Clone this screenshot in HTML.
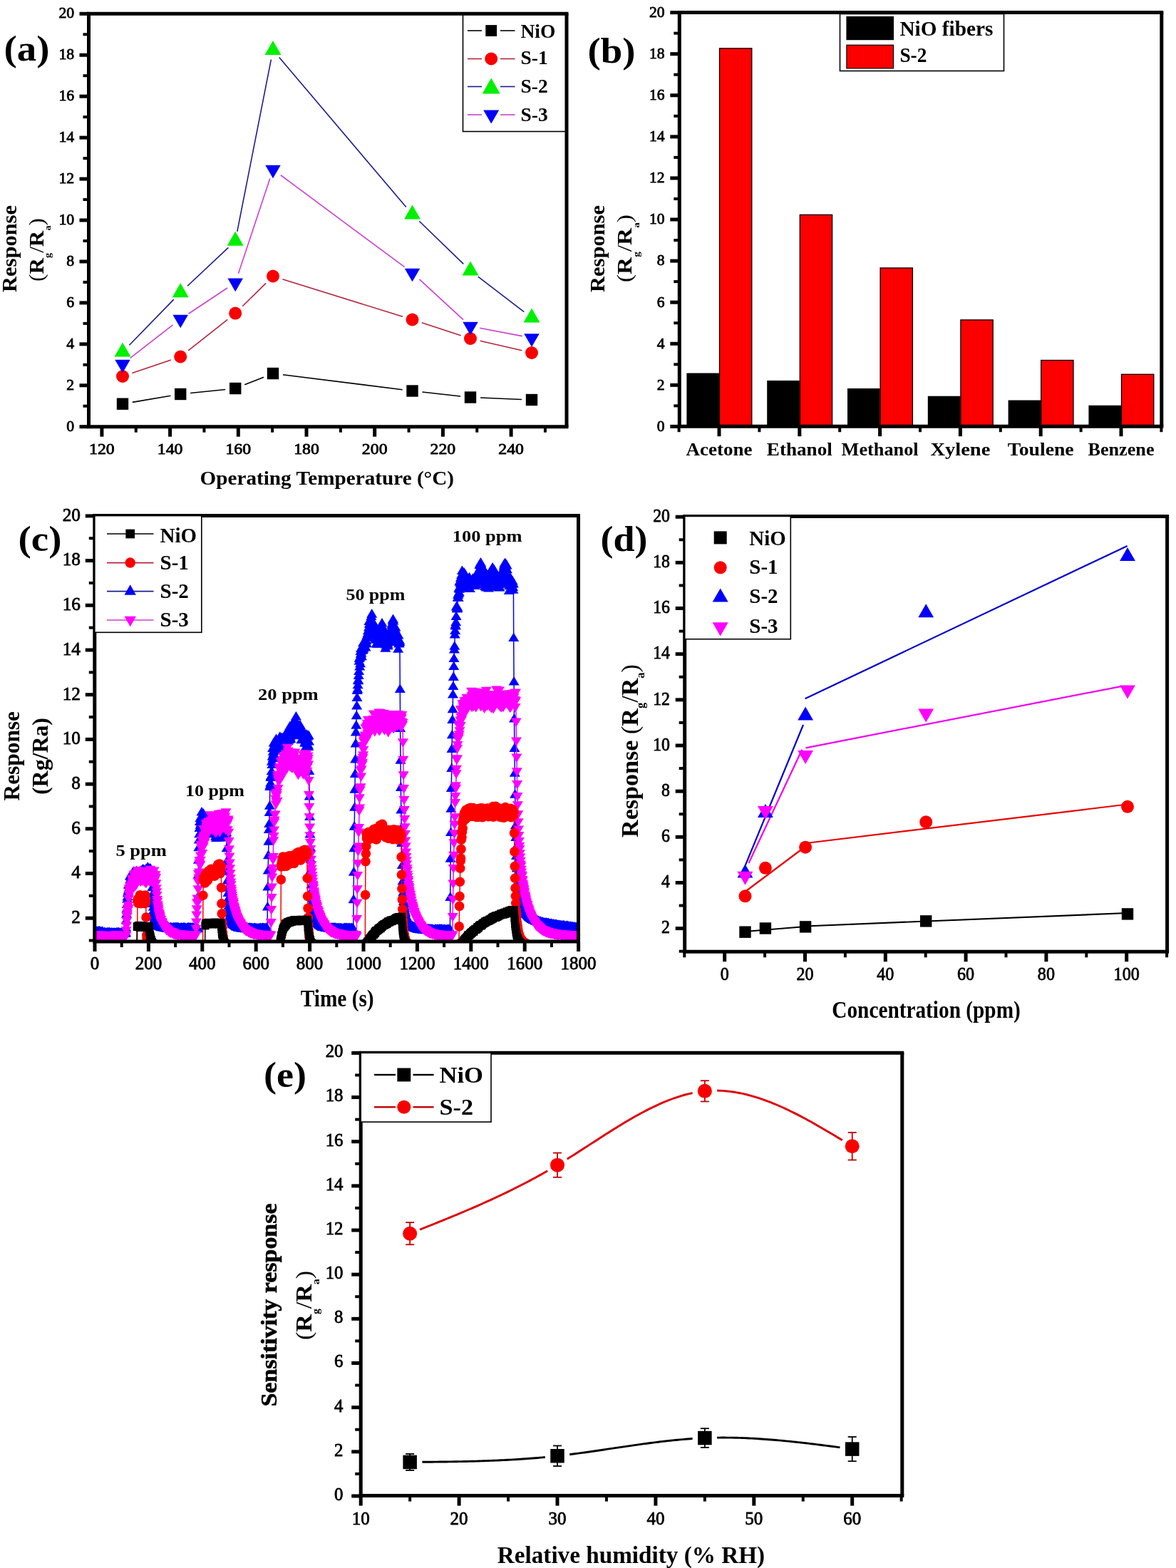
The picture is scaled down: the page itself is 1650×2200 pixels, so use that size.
<!DOCTYPE html>
<html><head><meta charset="utf-8"><title>Gas sensing response figure</title>
<style>html,body{margin:0;padding:0;background:#fff;} svg{display:block;} text{font-family:'Liberation Serif', 'Times New Roman', serif;}</style>
</head><body>
<svg width="1650" height="2200" viewBox="0 0 1650 2200">
<defs><marker id="mtu" markerUnits="userSpaceOnUse" markerWidth="20" markerHeight="20" refX="7.5" refY="8.4" overflow="visible"><path d="M0 12.6L7.5 0L15 12.6Z" fill="#0000ff"/></marker><marker id="mtd" markerUnits="userSpaceOnUse" markerWidth="20" markerHeight="20" refX="7.5" refY="4.2" overflow="visible"><path d="M0 0L7.5 12.6L15 0Z" fill="#ff00ff"/></marker><marker id="mci" markerUnits="userSpaceOnUse" markerWidth="20" markerHeight="20" refX="7" refY="7" overflow="visible"><circle cx="7" cy="7" r="6.8" fill="#ff0000"/></marker><marker id="msq" markerUnits="userSpaceOnUse" markerWidth="20" markerHeight="20" refX="5.5" refY="5.5" overflow="visible"><rect width="11" height="11" fill="#000"/></marker><clipPath id="clipc"><rect x="132.8" y="723.6" width="678.7" height="597.4"/></clipPath></defs>
<rect width="1650" height="2200" fill="#fff"/>
<line x1="185.8" y1="564.37" x2="239.4" y2="555.33" stroke="#000" stroke-width="1.6" stroke-linecap="butt"/>
<line x1="267.13" y1="551.55" x2="316.27" y2="546.45" stroke="#000" stroke-width="1.6" stroke-linecap="butt"/>
<line x1="343.21" y1="539.83" x2="369.99" y2="529.17" stroke="#000" stroke-width="1.6" stroke-linecap="butt"/>
<line x1="396.89" y1="525.74" x2="564.61" y2="546.76" stroke="#000" stroke-width="1.6" stroke-linecap="butt"/>
<line x1="592.42" y1="550.04" x2="646.08" y2="555.96" stroke="#000" stroke-width="1.6" stroke-linecap="butt"/>
<line x1="673.99" y1="558.07" x2="732.01" y2="560.43" stroke="#000" stroke-width="1.6" stroke-linecap="butt"/>
<line x1="185.26" y1="523.51" x2="239.94" y2="504.99" stroke="#b4243c" stroke-width="1.6" stroke-linecap="butt"/>
<line x1="264.18" y1="491.82" x2="319.22" y2="448.28" stroke="#b4243c" stroke-width="1.6" stroke-linecap="butt"/>
<line x1="340.17" y1="429.77" x2="373.03" y2="397.33" stroke="#b4243c" stroke-width="1.6" stroke-linecap="butt"/>
<line x1="396.36" y1="391.67" x2="565.14" y2="444.33" stroke="#b4243c" stroke-width="1.6" stroke-linecap="butt"/>
<line x1="591.81" y1="452.83" x2="646.69" y2="470.67" stroke="#b4243c" stroke-width="1.6" stroke-linecap="butt"/>
<line x1="673.64" y1="478.17" x2="732.36" y2="491.83" stroke="#b4243c" stroke-width="1.6" stroke-linecap="butt"/>
<line x1="181.42" y1="484.23" x2="243.78" y2="420.17" stroke="#1c1c8c" stroke-width="1.6" stroke-linecap="butt"/>
<line x1="263.04" y1="401.25" x2="320.36" y2="347.35" stroke="#1c1c8c" stroke-width="1.6" stroke-linecap="butt"/>
<line x1="332.81" y1="324.85" x2="380.39" y2="83.55" stroke="#1c1c8c" stroke-width="1.6" stroke-linecap="butt"/>
<line x1="391.73" y1="80.6" x2="569.77" y2="290.5" stroke="#1c1c8c" stroke-width="1.6" stroke-linecap="butt"/>
<line x1="588.19" y1="310.2" x2="650.31" y2="370.4" stroke="#1c1c8c" stroke-width="1.6" stroke-linecap="butt"/>
<line x1="670.71" y1="388.02" x2="735.29" y2="437.58" stroke="#1c1c8c" stroke-width="1.6" stroke-linecap="butt"/>
<line x1="182.67" y1="502.42" x2="242.53" y2="455.98" stroke="#cc40cc" stroke-width="1.6" stroke-linecap="butt"/>
<line x1="264.44" y1="440.23" x2="318.96" y2="403.97" stroke="#cc40cc" stroke-width="1.6" stroke-linecap="butt"/>
<line x1="334.46" y1="383.69" x2="378.74" y2="250.51" stroke="#cc40cc" stroke-width="1.6" stroke-linecap="butt"/>
<line x1="393.84" y1="245.74" x2="567.66" y2="374.66" stroke="#cc40cc" stroke-width="1.6" stroke-linecap="butt"/>
<line x1="588.43" y1="391.84" x2="650.07" y2="448.56" stroke="#cc40cc" stroke-width="1.6" stroke-linecap="butt"/>
<line x1="673.26" y1="460.24" x2="732.74" y2="471.66" stroke="#cc40cc" stroke-width="1.6" stroke-linecap="butt"/>
<rect x="163.8" y="558.5" width="16.4" height="16.4" fill="#000"/>
<rect x="245" y="544.8" width="16.4" height="16.4" fill="#000"/>
<rect x="322" y="536.8" width="16.4" height="16.4" fill="#000"/>
<rect x="374.8" y="515.8" width="16.4" height="16.4" fill="#000"/>
<rect x="570.3" y="540.3" width="16.4" height="16.4" fill="#000"/>
<rect x="651.8" y="549.3" width="16.4" height="16.4" fill="#000"/>
<rect x="737.8" y="552.8" width="16.4" height="16.4" fill="#000"/>
<circle cx="172" cy="528" r="9" fill="#f80000"/>
<circle cx="253.2" cy="500.5" r="9" fill="#f80000"/>
<circle cx="330.2" cy="439.6" r="9" fill="#f80000"/>
<circle cx="383" cy="387.5" r="9" fill="#f80000"/>
<circle cx="578.5" cy="448.5" r="9" fill="#f80000"/>
<circle cx="660" cy="475" r="9" fill="#f80000"/>
<circle cx="746" cy="495" r="9" fill="#f80000"/>
<path d="M160.5 500.61L172 480.6L183.5 500.61Z" fill="#00f000"/>
<path d="M241.7 417.2L253.2 397.19L264.7 417.2Z" fill="#00f000"/>
<path d="M318.7 344.81L330.2 324.8L341.7 344.81Z" fill="#00f000"/>
<path d="M371.5 77L383 56.99L394.5 77Z" fill="#00f000"/>
<path d="M567 307.5L578.5 287.5L590 307.5Z" fill="#00f000"/>
<path d="M648.5 386.5L660 366.5L671.5 386.5Z" fill="#00f000"/>
<path d="M734.5 452.5L746 432.5L757.5 452.5Z" fill="#00f000"/>
<path d="M161.25 504.65L172 523.35L182.75 504.65Z" fill="#0000f8"/>
<path d="M242.45 441.65L253.2 460.35L263.95 441.65Z" fill="#0000f8"/>
<path d="M319.45 390.45L330.2 409.15L340.95 390.45Z" fill="#0000f8"/>
<path d="M372.25 231.65L383 250.35L393.75 231.65Z" fill="#0000f8"/>
<path d="M567.75 376.65L578.5 395.35L589.25 376.65Z" fill="#0000f8"/>
<path d="M649.25 451.65L660 470.35L670.75 451.65Z" fill="#0000f8"/>
<path d="M735.25 468.15L746 486.85L756.75 468.15Z" fill="#0000f8"/>
<line x1="122" y1="19.3" x2="797.5" y2="19.3" stroke="#000" stroke-width="5" stroke-linecap="butt"/>
<line x1="122" y1="598.7" x2="797.5" y2="598.7" stroke="#000" stroke-width="5" stroke-linecap="butt"/>
<line x1="124.5" y1="19.3" x2="124.5" y2="598.7" stroke="#000" stroke-width="5" stroke-linecap="butt"/>
<line x1="795" y1="19.3" x2="795" y2="598.7" stroke="#000" stroke-width="5" stroke-linecap="butt"/>
<line x1="111.5" y1="598.7" x2="124.5" y2="598.7" stroke="#000" stroke-width="5" stroke-linecap="butt"/>
<line x1="111.5" y1="540.76" x2="124.5" y2="540.76" stroke="#000" stroke-width="5" stroke-linecap="butt"/>
<line x1="111.5" y1="482.82" x2="124.5" y2="482.82" stroke="#000" stroke-width="5" stroke-linecap="butt"/>
<line x1="111.5" y1="424.88" x2="124.5" y2="424.88" stroke="#000" stroke-width="5" stroke-linecap="butt"/>
<line x1="111.5" y1="366.94" x2="124.5" y2="366.94" stroke="#000" stroke-width="5" stroke-linecap="butt"/>
<line x1="111.5" y1="309" x2="124.5" y2="309" stroke="#000" stroke-width="5" stroke-linecap="butt"/>
<line x1="111.5" y1="251.06" x2="124.5" y2="251.06" stroke="#000" stroke-width="5" stroke-linecap="butt"/>
<line x1="111.5" y1="193.12" x2="124.5" y2="193.12" stroke="#000" stroke-width="5" stroke-linecap="butt"/>
<line x1="111.5" y1="135.18" x2="124.5" y2="135.18" stroke="#000" stroke-width="5" stroke-linecap="butt"/>
<line x1="111.5" y1="77.24" x2="124.5" y2="77.24" stroke="#000" stroke-width="5" stroke-linecap="butt"/>
<line x1="111.5" y1="19.3" x2="124.5" y2="19.3" stroke="#000" stroke-width="5" stroke-linecap="butt"/>
<line x1="116.5" y1="569.73" x2="124.5" y2="569.73" stroke="#000" stroke-width="4" stroke-linecap="butt"/>
<line x1="116.5" y1="511.79" x2="124.5" y2="511.79" stroke="#000" stroke-width="4" stroke-linecap="butt"/>
<line x1="116.5" y1="453.85" x2="124.5" y2="453.85" stroke="#000" stroke-width="4" stroke-linecap="butt"/>
<line x1="116.5" y1="395.91" x2="124.5" y2="395.91" stroke="#000" stroke-width="4" stroke-linecap="butt"/>
<line x1="116.5" y1="337.97" x2="124.5" y2="337.97" stroke="#000" stroke-width="4" stroke-linecap="butt"/>
<line x1="116.5" y1="280.03" x2="124.5" y2="280.03" stroke="#000" stroke-width="4" stroke-linecap="butt"/>
<line x1="116.5" y1="222.09" x2="124.5" y2="222.09" stroke="#000" stroke-width="4" stroke-linecap="butt"/>
<line x1="116.5" y1="164.15" x2="124.5" y2="164.15" stroke="#000" stroke-width="4" stroke-linecap="butt"/>
<line x1="116.5" y1="106.21" x2="124.5" y2="106.21" stroke="#000" stroke-width="4" stroke-linecap="butt"/>
<line x1="116.5" y1="48.27" x2="124.5" y2="48.27" stroke="#000" stroke-width="4" stroke-linecap="butt"/>
<line x1="142.9" y1="598.7" x2="142.9" y2="612.7" stroke="#000" stroke-width="5" stroke-linecap="butt"/>
<line x1="238.6" y1="598.7" x2="238.6" y2="612.7" stroke="#000" stroke-width="5" stroke-linecap="butt"/>
<line x1="334.3" y1="598.7" x2="334.3" y2="612.7" stroke="#000" stroke-width="5" stroke-linecap="butt"/>
<line x1="430" y1="598.7" x2="430" y2="612.7" stroke="#000" stroke-width="5" stroke-linecap="butt"/>
<line x1="525.7" y1="598.7" x2="525.7" y2="612.7" stroke="#000" stroke-width="5" stroke-linecap="butt"/>
<line x1="621.4" y1="598.7" x2="621.4" y2="612.7" stroke="#000" stroke-width="5" stroke-linecap="butt"/>
<line x1="717.1" y1="598.7" x2="717.1" y2="612.7" stroke="#000" stroke-width="5" stroke-linecap="butt"/>
<line x1="190.75" y1="598.7" x2="190.75" y2="606.7" stroke="#000" stroke-width="4" stroke-linecap="butt"/>
<line x1="286.45" y1="598.7" x2="286.45" y2="606.7" stroke="#000" stroke-width="4" stroke-linecap="butt"/>
<line x1="382.15" y1="598.7" x2="382.15" y2="606.7" stroke="#000" stroke-width="4" stroke-linecap="butt"/>
<line x1="477.85" y1="598.7" x2="477.85" y2="606.7" stroke="#000" stroke-width="4" stroke-linecap="butt"/>
<line x1="573.55" y1="598.7" x2="573.55" y2="606.7" stroke="#000" stroke-width="4" stroke-linecap="butt"/>
<line x1="669.25" y1="598.7" x2="669.25" y2="606.7" stroke="#000" stroke-width="4" stroke-linecap="butt"/>
<line x1="764.95" y1="598.7" x2="764.95" y2="606.7" stroke="#000" stroke-width="4" stroke-linecap="butt"/>
<text x="104.2" y="604.8" font-size="21.8" text-anchor="end" fill="#000" stroke="#000" stroke-width="0.8">0</text>
<text x="104.2" y="546.86" font-size="21.8" text-anchor="end" fill="#000" stroke="#000" stroke-width="0.8">2</text>
<text x="104.2" y="488.92" font-size="21.8" text-anchor="end" fill="#000" stroke="#000" stroke-width="0.8">4</text>
<text x="104.2" y="430.98" font-size="21.8" text-anchor="end" fill="#000" stroke="#000" stroke-width="0.8">6</text>
<text x="104.2" y="373.04" font-size="21.8" text-anchor="end" fill="#000" stroke="#000" stroke-width="0.8">8</text>
<text x="104.2" y="315.1" font-size="21.8" text-anchor="end" fill="#000" stroke="#000" stroke-width="0.8">10</text>
<text x="104.2" y="257.16" font-size="21.8" text-anchor="end" fill="#000" stroke="#000" stroke-width="0.8">12</text>
<text x="104.2" y="199.22" font-size="21.8" text-anchor="end" fill="#000" stroke="#000" stroke-width="0.8">14</text>
<text x="104.2" y="141.28" font-size="21.8" text-anchor="end" fill="#000" stroke="#000" stroke-width="0.8">16</text>
<text x="104.2" y="83.34" font-size="21.8" text-anchor="end" fill="#000" stroke="#000" stroke-width="0.8">18</text>
<text x="104.2" y="25.4" font-size="21.8" text-anchor="end" fill="#000" stroke="#000" stroke-width="0.8">20</text>
<text x="142.9" y="636.8" font-size="21.6" text-anchor="middle" textLength="35.64" lengthAdjust="spacingAndGlyphs" fill="#000" stroke="#000" stroke-width="0.8">120</text>
<text x="238.6" y="636.8" font-size="21.6" text-anchor="middle" textLength="35.64" lengthAdjust="spacingAndGlyphs" fill="#000" stroke="#000" stroke-width="0.8">140</text>
<text x="334.3" y="636.8" font-size="21.6" text-anchor="middle" textLength="35.64" lengthAdjust="spacingAndGlyphs" fill="#000" stroke="#000" stroke-width="0.8">160</text>
<text x="430" y="636.8" font-size="21.6" text-anchor="middle" textLength="35.64" lengthAdjust="spacingAndGlyphs" fill="#000" stroke="#000" stroke-width="0.8">180</text>
<text x="525.7" y="636.8" font-size="21.6" text-anchor="middle" textLength="35.64" lengthAdjust="spacingAndGlyphs" fill="#000" stroke="#000" stroke-width="0.8">200</text>
<text x="621.4" y="636.8" font-size="21.6" text-anchor="middle" textLength="35.64" lengthAdjust="spacingAndGlyphs" fill="#000" stroke="#000" stroke-width="0.8">220</text>
<text x="717.1" y="636.8" font-size="21.6" text-anchor="middle" textLength="35.64" lengthAdjust="spacingAndGlyphs" fill="#000" stroke="#000" stroke-width="0.8">240</text>
<rect x="649.5" y="20" width="144.5" height="164.5" fill="none" stroke="#000" stroke-width="1.6"/>
<line x1="656" y1="43" x2="676" y2="43" stroke="#000" stroke-width="1.6" stroke-linecap="butt"/>
<line x1="702" y1="43" x2="722.5" y2="43" stroke="#000" stroke-width="1.6" stroke-linecap="butt"/>
<line x1="656" y1="82.5" x2="676" y2="82.5" stroke="#b4243c" stroke-width="1.6" stroke-linecap="butt"/>
<line x1="702" y1="82.5" x2="722.5" y2="82.5" stroke="#b4243c" stroke-width="1.6" stroke-linecap="butt"/>
<line x1="656" y1="121.5" x2="676" y2="121.5" stroke="#1c1c8c" stroke-width="1.6" stroke-linecap="butt"/>
<line x1="702" y1="121.5" x2="722.5" y2="121.5" stroke="#1c1c8c" stroke-width="1.6" stroke-linecap="butt"/>
<line x1="656" y1="161" x2="676" y2="161" stroke="#cc40cc" stroke-width="1.6" stroke-linecap="butt"/>
<line x1="702" y1="161" x2="722.5" y2="161" stroke="#cc40cc" stroke-width="1.6" stroke-linecap="butt"/>
<rect x="681.3" y="35.1" width="15.8" height="15.8" fill="#000"/>
<circle cx="689.2" cy="82.5" r="9" fill="#f80000"/>
<path d="M676.7 131.38L689.2 109.62L701.7 131.38Z" fill="#00f000"/>
<path d="M678.2 154.43L689.2 173.57L700.2 154.43Z" fill="#0000f8"/>
<text x="730.5" y="52.7" font-size="27.5" font-weight="bold" fill="#000">NiO</text>
<text x="730.5" y="90.3" font-size="27.5" font-weight="bold" fill="#000">S-1</text>
<text x="730.5" y="129.5" font-size="27.5" font-weight="bold" fill="#000">S-2</text>
<text x="730.5" y="169.5" font-size="27.5" font-weight="bold" fill="#000">S-3</text>
<text x="5.5" y="84.5" font-size="50" font-weight="bold" textLength="64" lengthAdjust="spacingAndGlyphs" fill="#000">(a)</text>
<text x="23.3" y="410" font-size="29" font-weight="bold" textLength="122" lengthAdjust="spacingAndGlyphs" transform="rotate(-90 23.3 410)" fill="#000">Response</text>
<text x="61" y="395" font-size="29" font-weight="bold" transform="rotate(-90 61 395)" textLength="89" lengthAdjust="spacingAndGlyphs"><tspan font-weight="normal">(</tspan>R<tspan font-size="13.34" dy="10.44">g</tspan><tspan dy="-10.44" font-weight="normal">/</tspan>R<tspan font-size="13.34" dy="10.44">a</tspan><tspan dy="-10.44" font-weight="normal">)</tspan></text>
<text x="280.6" y="680.3" font-size="28" font-weight="bold" textLength="356.5" lengthAdjust="spacingAndGlyphs" fill="#000">Operating Temperature (°C)</text>
<rect x="963.4" y="523.48" width="45.6" height="74.72" fill="#000"/>
<rect x="1009.5" y="67.84" width="45.3" height="530.36" fill="#fc0000" stroke="#000" stroke-width="1.3"/>
<rect x="1076.2" y="533.93" width="45.6" height="64.27" fill="#000"/>
<rect x="1122.3" y="301.32" width="45.3" height="296.88" fill="#fc0000" stroke="#000" stroke-width="1.3"/>
<rect x="1189" y="544.97" width="45.6" height="53.23" fill="#000"/>
<rect x="1235.1" y="375.95" width="45.3" height="222.25" fill="#fc0000" stroke="#000" stroke-width="1.3"/>
<rect x="1301.8" y="555.71" width="45.6" height="42.49" fill="#000"/>
<rect x="1347.9" y="448.84" width="45.3" height="149.36" fill="#fc0000" stroke="#000" stroke-width="1.3"/>
<rect x="1414.6" y="561.52" width="45.6" height="36.68" fill="#000"/>
<rect x="1460.7" y="505.47" width="45.3" height="92.73" fill="#fc0000" stroke="#000" stroke-width="1.3"/>
<rect x="1527.4" y="568.78" width="45.6" height="29.42" fill="#000"/>
<rect x="1573.5" y="525.22" width="45.3" height="72.98" fill="#fc0000" stroke="#000" stroke-width="1.3"/>
<line x1="950.8" y1="17.6" x2="1632.3" y2="17.6" stroke="#000" stroke-width="5" stroke-linecap="butt"/>
<line x1="950.8" y1="598.2" x2="1632.3" y2="598.2" stroke="#000" stroke-width="5" stroke-linecap="butt"/>
<line x1="953.3" y1="17.6" x2="953.3" y2="598.2" stroke="#000" stroke-width="5" stroke-linecap="butt"/>
<line x1="1629.8" y1="17.6" x2="1629.8" y2="598.2" stroke="#000" stroke-width="5" stroke-linecap="butt"/>
<line x1="940.3" y1="598.4" x2="953.3" y2="598.4" stroke="#000" stroke-width="5" stroke-linecap="butt"/>
<line x1="940.3" y1="540.32" x2="953.3" y2="540.32" stroke="#000" stroke-width="5" stroke-linecap="butt"/>
<line x1="940.3" y1="482.24" x2="953.3" y2="482.24" stroke="#000" stroke-width="5" stroke-linecap="butt"/>
<line x1="940.3" y1="424.16" x2="953.3" y2="424.16" stroke="#000" stroke-width="5" stroke-linecap="butt"/>
<line x1="940.3" y1="366.08" x2="953.3" y2="366.08" stroke="#000" stroke-width="5" stroke-linecap="butt"/>
<line x1="940.3" y1="308" x2="953.3" y2="308" stroke="#000" stroke-width="5" stroke-linecap="butt"/>
<line x1="940.3" y1="249.92" x2="953.3" y2="249.92" stroke="#000" stroke-width="5" stroke-linecap="butt"/>
<line x1="940.3" y1="191.84" x2="953.3" y2="191.84" stroke="#000" stroke-width="5" stroke-linecap="butt"/>
<line x1="940.3" y1="133.76" x2="953.3" y2="133.76" stroke="#000" stroke-width="5" stroke-linecap="butt"/>
<line x1="940.3" y1="75.68" x2="953.3" y2="75.68" stroke="#000" stroke-width="5" stroke-linecap="butt"/>
<line x1="940.3" y1="17.6" x2="953.3" y2="17.6" stroke="#000" stroke-width="5" stroke-linecap="butt"/>
<line x1="945.3" y1="569.36" x2="953.3" y2="569.36" stroke="#000" stroke-width="4" stroke-linecap="butt"/>
<line x1="945.3" y1="511.28" x2="953.3" y2="511.28" stroke="#000" stroke-width="4" stroke-linecap="butt"/>
<line x1="945.3" y1="453.2" x2="953.3" y2="453.2" stroke="#000" stroke-width="4" stroke-linecap="butt"/>
<line x1="945.3" y1="395.12" x2="953.3" y2="395.12" stroke="#000" stroke-width="4" stroke-linecap="butt"/>
<line x1="945.3" y1="337.04" x2="953.3" y2="337.04" stroke="#000" stroke-width="4" stroke-linecap="butt"/>
<line x1="945.3" y1="278.96" x2="953.3" y2="278.96" stroke="#000" stroke-width="4" stroke-linecap="butt"/>
<line x1="945.3" y1="220.88" x2="953.3" y2="220.88" stroke="#000" stroke-width="4" stroke-linecap="butt"/>
<line x1="945.3" y1="162.8" x2="953.3" y2="162.8" stroke="#000" stroke-width="4" stroke-linecap="butt"/>
<line x1="945.3" y1="104.72" x2="953.3" y2="104.72" stroke="#000" stroke-width="4" stroke-linecap="butt"/>
<line x1="945.3" y1="46.64" x2="953.3" y2="46.64" stroke="#000" stroke-width="4" stroke-linecap="butt"/>
<line x1="1009" y1="598.2" x2="1009" y2="612.2" stroke="#000" stroke-width="5" stroke-linecap="butt"/>
<line x1="1121.8" y1="598.2" x2="1121.8" y2="612.2" stroke="#000" stroke-width="5" stroke-linecap="butt"/>
<line x1="1234.6" y1="598.2" x2="1234.6" y2="612.2" stroke="#000" stroke-width="5" stroke-linecap="butt"/>
<line x1="1347.4" y1="598.2" x2="1347.4" y2="612.2" stroke="#000" stroke-width="5" stroke-linecap="butt"/>
<line x1="1460.2" y1="598.2" x2="1460.2" y2="612.2" stroke="#000" stroke-width="5" stroke-linecap="butt"/>
<line x1="1573" y1="598.2" x2="1573" y2="612.2" stroke="#000" stroke-width="5" stroke-linecap="butt"/>
<line x1="952.6" y1="598.2" x2="952.6" y2="606.2" stroke="#000" stroke-width="4" stroke-linecap="butt"/>
<line x1="1065.4" y1="598.2" x2="1065.4" y2="606.2" stroke="#000" stroke-width="4" stroke-linecap="butt"/>
<line x1="1178.2" y1="598.2" x2="1178.2" y2="606.2" stroke="#000" stroke-width="4" stroke-linecap="butt"/>
<line x1="1291" y1="598.2" x2="1291" y2="606.2" stroke="#000" stroke-width="4" stroke-linecap="butt"/>
<line x1="1403.8" y1="598.2" x2="1403.8" y2="606.2" stroke="#000" stroke-width="4" stroke-linecap="butt"/>
<line x1="1516.6" y1="598.2" x2="1516.6" y2="606.2" stroke="#000" stroke-width="4" stroke-linecap="butt"/>
<line x1="1629.4" y1="598.2" x2="1629.4" y2="606.2" stroke="#000" stroke-width="4" stroke-linecap="butt"/>
<text x="932.6" y="604.8" font-size="21.6" text-anchor="end" fill="#000" stroke="#000" stroke-width="0.8">0</text>
<text x="932.6" y="546.72" font-size="21.6" text-anchor="end" fill="#000" stroke="#000" stroke-width="0.8">2</text>
<text x="932.6" y="488.64" font-size="21.6" text-anchor="end" fill="#000" stroke="#000" stroke-width="0.8">4</text>
<text x="932.6" y="430.56" font-size="21.6" text-anchor="end" fill="#000" stroke="#000" stroke-width="0.8">6</text>
<text x="932.6" y="372.48" font-size="21.6" text-anchor="end" fill="#000" stroke="#000" stroke-width="0.8">8</text>
<text x="932.6" y="314.4" font-size="21.6" text-anchor="end" fill="#000" stroke="#000" stroke-width="0.8">10</text>
<text x="932.6" y="256.32" font-size="21.6" text-anchor="end" fill="#000" stroke="#000" stroke-width="0.8">12</text>
<text x="932.6" y="198.24" font-size="21.6" text-anchor="end" fill="#000" stroke="#000" stroke-width="0.8">14</text>
<text x="932.6" y="140.16" font-size="21.6" text-anchor="end" fill="#000" stroke="#000" stroke-width="0.8">16</text>
<text x="932.6" y="82.08" font-size="21.6" text-anchor="end" fill="#000" stroke="#000" stroke-width="0.8">18</text>
<text x="932.6" y="24" font-size="21.6" text-anchor="end" fill="#000" stroke="#000" stroke-width="0.8">20</text>
<text x="1009" y="639" font-size="25" font-weight="bold" text-anchor="middle" textLength="93" lengthAdjust="spacingAndGlyphs" fill="#000">Acetone</text>
<text x="1121.8" y="639" font-size="25" font-weight="bold" text-anchor="middle" textLength="92" lengthAdjust="spacingAndGlyphs" fill="#000">Ethanol</text>
<text x="1234.6" y="639" font-size="25" font-weight="bold" text-anchor="middle" textLength="108" lengthAdjust="spacingAndGlyphs" fill="#000">Methanol</text>
<text x="1347.4" y="639" font-size="25" font-weight="bold" text-anchor="middle" textLength="84" lengthAdjust="spacingAndGlyphs" fill="#000">Xylene</text>
<text x="1460.2" y="639" font-size="25" font-weight="bold" text-anchor="middle" textLength="93" lengthAdjust="spacingAndGlyphs" fill="#000">Toulene</text>
<text x="1573" y="639" font-size="25" font-weight="bold" text-anchor="middle" textLength="93" lengthAdjust="spacingAndGlyphs" fill="#000">Benzene</text>
<rect x="1178.5" y="19.5" width="230" height="80" fill="none" stroke="#000" stroke-width="1.6"/>
<rect x="1187.4" y="22.9" width="66.6" height="33.3" fill="#000"/>
<rect x="1187.9" y="63.2" width="65.6" height="32.7" fill="#fc0000" stroke="#000" stroke-width="1.2"/>
<text x="1262.4" y="49.7" font-size="28.5" font-weight="bold" textLength="131" lengthAdjust="spacingAndGlyphs" fill="#000">NiO fibers</text>
<text x="1262.4" y="87.3" font-size="28.5" font-weight="bold" textLength="38" lengthAdjust="spacingAndGlyphs" fill="#000">S-2</text>
<text x="824.5" y="88" font-size="50" font-weight="bold" textLength="67" lengthAdjust="spacingAndGlyphs" fill="#000">(b)</text>
<text x="848" y="410" font-size="29" font-weight="bold" textLength="122" lengthAdjust="spacingAndGlyphs" transform="rotate(-90 848 410)" fill="#000">Response</text>
<text x="886.3" y="396" font-size="29" font-weight="bold" transform="rotate(-90 886.3 396)" textLength="95" lengthAdjust="spacingAndGlyphs"><tspan font-weight="normal">(</tspan>R<tspan font-size="13.34" dy="10.44">g</tspan><tspan dy="-10.44" font-weight="normal">/</tspan>R<tspan font-size="13.34" dy="10.44">a</tspan><tspan dy="-10.44" font-weight="normal">)</tspan></text>
<g clip-path="url(#clipc)">
<polyline fill="none" stroke="#0000ff" stroke-width="1.5" points="133.0,1308.4 133.4,1308.2 133.8,1307.5 134.1,1308.3 134.5,1308.2 134.9,1308.1 135.3,1308.9 135.6,1308.2 136.0,1308.0 136.4,1307.7 136.8,1309.0 137.1,1308.6 137.5,1309.0 137.9,1307.7 138.3,1307.9 138.7,1309.1 139.0,1307.4 139.4,1307.4 139.8,1308.0 140.2,1308.0 140.5,1308.9 140.9,1309.2 141.3,1308.2 141.7,1309.1 142.0,1308.8 142.4,1308.7 142.8,1309.1 143.2,1308.3 143.6,1308.4 143.9,1307.6 144.3,1310.1 144.7,1309.9 145.1,1310.1 145.4,1309.8 145.8,1310.2 146.2,1310.6 146.6,1309.2 146.9,1309.2 147.3,1309.5 147.7,1309.8 148.1,1310.5 148.5,1310.7 148.8,1310.5 149.2,1311.0 149.6,1309.6 150.0,1310.3 150.3,1309.5 150.7,1310.4 151.1,1309.3 151.5,1309.5 151.8,1311.1 152.2,1310.7 152.6,1309.4 153.0,1310.2 153.4,1309.2 153.7,1310.3 154.1,1310.9 154.5,1309.9 154.9,1309.6 155.2,1310.6 155.6,1310.9 156.0,1310.5 156.4,1309.3 156.8,1309.7 157.1,1310.9 157.5,1310.6 157.9,1310.9 158.3,1311.0 158.6,1309.6 159.0,1310.8 159.4,1310.0 159.8,1310.2 160.1,1310.7 160.5,1309.7 160.9,1310.8 161.3,1309.9 161.7,1310.9 162.0,1310.3 162.4,1310.7 162.8,1310.6 163.2,1309.3 163.5,1309.6 163.9,1310.5 164.3,1309.4 164.7,1310.7 165.0,1310.3 165.4,1309.5 165.8,1309.9 166.2,1310.9 166.6,1309.2 166.9,1310.7 167.3,1310.6 167.7,1309.6 168.1,1310.5 168.4,1310.5 168.8,1310.9 169.2,1310.9 169.6,1310.0 169.9,1310.6 170.3,1310.0 170.7,1310.4 171.1,1310.2 171.5,1309.3 171.8,1310.2 172.2,1310.0 172.6,1309.5 173.0,1310.7 173.3,1310.8 173.7,1309.4 174.1,1309.5 174.5,1310.6 174.8,1310.7 175.2,1309.7 175.6,1309.3 176.0,1310.7 176.4,1309.3 176.7,1302.5 177.1,1292.3 177.5,1283.5 177.9,1276.4 178.2,1269.9 178.6,1262.5 179.0,1259.1 179.4,1254.2 179.7,1252.6 180.1,1250.3 180.5,1242.2 180.9,1242.5 181.3,1247.3 181.6,1246.3 182.0,1241.3 182.4,1230.4 182.8,1235.0 183.1,1242.3 183.5,1230.6 183.9,1232.8 184.3,1231.9 184.6,1230.1 185.0,1228.7 185.4,1229.8 185.8,1226.0 186.2,1226.3 186.5,1231.1 186.9,1233.2 187.3,1223.6 187.7,1229.5 188.0,1229.0 188.4,1231.7 188.8,1231.9 189.2,1228.2 189.6,1235.8 189.9,1231.1 190.3,1225.1 190.7,1227.2 191.1,1231.5 191.4,1223.0 191.8,1230.3 192.2,1225.5 192.6,1223.8 192.9,1231.9 193.3,1231.0 193.7,1229.1 194.1,1225.5 194.5,1229.6 194.8,1226.0 195.2,1229.9 195.6,1231.1 196.0,1233.2 196.3,1226.6 196.7,1222.8 197.1,1228.1 197.5,1233.5 197.8,1228.2 198.2,1226.5 198.6,1224.0 199.0,1221.9 199.4,1222.0 199.7,1225.0 200.1,1226.0 200.5,1220.4 200.9,1226.7 201.2,1221.9 201.6,1224.0 202.0,1221.1 202.4,1223.1 202.7,1230.0 203.1,1222.9 203.5,1227.3 203.9,1225.6 204.3,1226.2 204.6,1222.4 205.0,1219.8 205.4,1224.9 205.8,1225.5 206.1,1222.5 206.5,1225.5 206.9,1218.9 207.3,1217.6 207.6,1225.7 208.0,1223.9 208.4,1220.1 208.8,1220.8 209.2,1225.3 209.5,1219.7 209.9,1226.0 210.3,1220.5 210.7,1225.2 211.0,1219.4 211.4,1224.9 211.8,1223.7 212.2,1223.5 212.5,1223.6 212.9,1222.8 213.3,1236.0 213.7,1246.1 214.1,1255.2 214.4,1262.7 214.8,1268.7 215.2,1273.5 215.6,1278.4 215.9,1281.8 216.3,1283.9 216.7,1286.3 217.1,1288.6 217.4,1289.7 217.8,1291.6 218.2,1292.4 218.6,1294.6 219.0,1294.5 219.3,1295.2 219.7,1295.7 220.1,1297.4 220.5,1297.9 220.8,1297.2 221.2,1298.9 221.6,1297.8 222.0,1298.3 222.3,1300.0 222.7,1300.1 223.1,1299.4 223.5,1300.5 223.9,1301.0 224.2,1299.7 224.6,1300.7 225.0,1300.1 225.4,1301.5 225.7,1301.1 226.1,1300.7 226.5,1302.1 226.9,1301.9 227.2,1301.1 227.6,1300.7 228.0,1300.7 228.4,1302.4 228.8,1301.7 229.1,1301.3 229.5,1301.9 229.9,1301.6 230.3,1302.6 230.6,1302.9 231.0,1302.9 231.4,1303.1 231.8,1302.2 232.2,1302.3 232.5,1302.2 232.9,1303.1 233.3,1303.0 233.7,1303.0 234.0,1301.9 234.4,1301.6 234.8,1301.8 235.2,1303.4 235.5,1303.5 235.9,1301.8 236.3,1302.8 236.7,1302.2 237.1,1303.1 237.4,1302.8 237.8,1302.8 238.2,1303.0 238.6,1302.7 238.9,1303.8 239.3,1302.5 239.7,1302.3 240.1,1303.5 240.4,1303.0 240.8,1302.5 241.2,1303.1 241.6,1303.6 242.0,1303.6 242.3,1303.0 242.7,1303.9 243.1,1302.3 243.5,1302.5 243.8,1302.7 244.2,1302.4 244.6,1302.8 245.0,1303.3 245.3,1302.9 245.7,1303.1 246.1,1302.2 246.5,1302.5 246.9,1303.6 247.2,1302.3 247.6,1302.7 248.0,1302.6 248.4,1302.5 248.7,1303.3 249.1,1302.4 249.5,1302.4 249.9,1302.8 250.2,1302.7 250.6,1302.7 251.0,1303.3 251.4,1302.8 251.8,1304.0 252.1,1303.5 252.5,1303.2 252.9,1304.1 253.3,1303.5 253.6,1302.9 254.0,1303.0 254.4,1303.7 254.8,1302.4 255.1,1302.9 255.5,1303.5 255.9,1302.9 256.3,1303.1 256.7,1303.1 257.0,1303.4 257.4,1302.3 257.8,1302.9 258.2,1302.8 258.5,1302.7 258.9,1302.3 259.3,1304.1 259.7,1303.0 260.0,1302.8 260.4,1303.7 260.8,1303.4 261.2,1304.1 261.6,1303.8 261.9,1303.5 262.3,1304.0 262.7,1303.7 263.1,1302.5 263.4,1303.1 263.8,1303.2 264.2,1302.4 264.6,1303.1 264.9,1302.3 265.3,1303.0 265.7,1302.7 266.1,1304.0 266.5,1303.1 266.8,1302.8 267.2,1304.1 267.6,1302.4 268.0,1303.9 268.3,1303.3 268.7,1303.9 269.1,1303.2 269.5,1303.0 269.9,1304.1 270.2,1302.4 270.6,1303.4 271.0,1303.2 271.4,1303.1 271.7,1303.5 272.1,1303.6 272.5,1303.0 272.9,1303.1 273.2,1303.7 273.6,1302.8 274.0,1303.6 274.4,1304.2 274.8,1303.7 275.1,1304.1 275.5,1303.9 275.9,1302.8 276.3,1303.5 276.6,1302.5 277.0,1302.8 277.4,1304.1 277.8,1259.4 278.1,1228.3 278.5,1207.6 278.9,1190.0 279.3,1179.4 279.7,1171.1 280.0,1162.7 280.4,1153.8 280.8,1149.0 281.2,1158.7 281.5,1162.3 281.9,1157.5 282.3,1155.2 282.7,1149.5 283.0,1140.4 283.4,1157.4 283.8,1146.6 284.2,1151.0 284.6,1147.6 284.9,1155.7 285.3,1142.5 285.7,1157.8 286.1,1153.7 286.4,1160.1 286.8,1150.0 287.2,1155.9 287.6,1147.0 287.9,1153.6 288.3,1153.9 288.7,1153.5 289.1,1147.8 289.5,1150.9 289.8,1158.4 290.2,1157.2 290.6,1155.5 291.0,1156.8 291.3,1159.5 291.7,1157.1 292.1,1164.8 292.5,1158.4 292.8,1155.4 293.2,1150.4 293.6,1159.3 294.0,1156.2 294.4,1165.6 294.7,1164.4 295.1,1164.1 295.5,1158.2 295.9,1162.9 296.2,1171.0 296.6,1161.8 297.0,1160.2 297.4,1161.9 297.7,1166.5 298.1,1169.5 298.5,1162.4 298.9,1166.8 299.3,1165.7 299.6,1160.6 300.0,1164.9 300.4,1164.4 300.8,1162.8 301.1,1160.3 301.5,1166.9 301.9,1166.8 302.3,1169.4 302.6,1174.6 303.0,1171.3 303.4,1176.7 303.8,1165.0 304.2,1174.2 304.5,1170.4 304.9,1176.1 305.3,1166.2 305.7,1175.5 306.0,1168.2 306.4,1166.3 306.8,1160.6 307.2,1163.6 307.6,1176.2 307.9,1167.0 308.3,1170.4 308.7,1171.1 309.1,1170.2 309.4,1166.2 309.8,1175.2 310.2,1164.6 310.6,1166.2 310.9,1170.9 311.3,1161.1 311.7,1175.8 312.1,1173.8 312.5,1162.4 312.8,1168.2 313.2,1168.4 313.6,1171.7 314.0,1169.5 314.3,1176.2 314.7,1167.3 315.1,1171.5 315.5,1163.7 315.8,1173.0 316.2,1169.5 316.6,1174.0 317.0,1168.8 317.4,1172.7 317.7,1169.4 318.1,1191.1 318.5,1209.0 318.9,1223.3 319.2,1236.3 319.6,1246.5 320.0,1253.9 320.4,1261.7 320.7,1266.3 321.1,1271.9 321.5,1275.7 321.9,1279.8 322.3,1281.8 322.6,1285.6 323.0,1287.5 323.4,1289.4 323.8,1289.8 324.1,1291.0 324.5,1293.1 324.9,1293.7 325.3,1293.7 325.6,1294.9 326.0,1296.5 326.4,1296.8 326.8,1297.5 327.2,1298.0 327.5,1297.9 327.9,1298.9 328.3,1297.7 328.7,1298.9 329.0,1299.1 329.4,1299.1 329.8,1299.1 330.2,1299.2 330.5,1300.3 330.9,1300.6 331.3,1300.6 331.7,1301.5 332.1,1301.0 332.4,1300.6 332.8,1300.2 333.2,1300.7 333.6,1301.1 333.9,1301.3 334.3,1302.5 334.7,1302.0 335.1,1302.1 335.4,1301.7 335.8,1302.8 336.2,1302.4 336.6,1302.2 337.0,1301.7 337.3,1301.8 337.7,1302.2 338.1,1303.2 338.5,1302.1 338.8,1301.9 339.2,1302.6 339.6,1303.0 340.0,1302.8 340.4,1303.5 340.7,1302.5 341.1,1302.0 341.5,1303.0 341.9,1302.6 342.2,1302.5 342.6,1303.7 343.0,1302.3 343.4,1303.0 343.7,1303.8 344.1,1304.0 344.5,1303.8 344.9,1303.2 345.3,1303.0 345.6,1303.7 346.0,1302.6 346.4,1303.7 346.8,1303.5 347.1,1304.2 347.5,1302.6 347.9,1304.2 348.3,1302.8 348.6,1303.5 349.0,1303.4 349.4,1303.5 349.8,1304.0 350.2,1302.8 350.5,1302.7 350.9,1303.0 351.3,1303.4 351.7,1304.4 352.0,1303.1 352.4,1304.1 352.8,1302.9 353.2,1304.2 353.5,1303.6 353.9,1303.1 354.3,1304.3 354.7,1303.6 355.1,1304.5 355.4,1304.6 355.8,1304.3 356.2,1302.8 356.6,1302.9 356.9,1303.5 357.3,1304.1 357.7,1303.5 358.1,1303.3 358.4,1304.0 358.8,1303.6 359.2,1303.2 359.6,1304.7 360.0,1304.4 360.3,1303.9 360.7,1304.5 361.1,1304.0 361.5,1303.7 361.8,1304.4 362.2,1303.8 362.6,1304.3 363.0,1303.7 363.3,1304.1 363.7,1303.6 364.1,1304.7 364.5,1303.5 364.9,1304.5 365.2,1303.0 365.6,1303.7 366.0,1303.9 366.4,1304.0 366.7,1303.6 367.1,1303.5 367.5,1303.4 367.9,1303.4 368.2,1303.9 368.6,1302.9 369.0,1303.2 369.4,1303.2 369.8,1304.0 370.1,1304.0 370.5,1303.7 370.9,1303.1 371.3,1303.8 371.6,1303.8 372.0,1304.0 372.4,1303.1 372.8,1304.2 373.1,1304.7 373.5,1303.4 373.9,1303.1 374.3,1303.4 374.7,1303.7 375.0,1303.4 375.4,1273.3 375.8,1245.4 376.2,1222.3 376.5,1201.0 376.9,1181.6 377.3,1164.9 377.7,1156.9 378.1,1140.7 378.4,1131.5 378.8,1104.7 379.2,1102.9 379.6,1099.6 379.9,1091.8 380.3,1089.7 380.7,1090.8 381.1,1083.1 381.4,1069.6 381.8,1073.8 382.2,1062.4 382.6,1050.8 383.0,1065.1 383.3,1055.6 383.7,1058.2 384.1,1043.2 384.5,1053.6 384.8,1060.9 385.2,1046.2 385.6,1050.0 386.0,1043.5 386.3,1052.2 386.7,1054.3 387.1,1039.9 387.5,1037.8 387.9,1049.4 388.2,1044.3 388.6,1042.7 389.0,1043.2 389.4,1044.7 389.7,1044.3 390.1,1042.7 390.5,1044.7 390.9,1041.7 391.2,1039.3 391.6,1045.5 392.0,1041.1 392.4,1037.6 392.8,1034.6 393.1,1039.1 393.5,1044.5 393.9,1037.8 394.3,1040.7 394.6,1043.4 395.0,1045.1 395.4,1035.9 395.8,1051.2 396.1,1042.8 396.5,1041.6 396.9,1038.8 397.3,1048.8 397.7,1048.5 398.0,1043.1 398.4,1042.4 398.8,1047.6 399.2,1033.7 399.5,1044.0 399.9,1040.5 400.3,1031.3 400.7,1037.7 401.0,1037.7 401.4,1042.1 401.8,1047.7 402.2,1031.1 402.6,1039.1 402.9,1030.9 403.3,1030.7 403.7,1041.0 404.1,1040.8 404.4,1026.6 404.8,1033.6 405.2,1030.3 405.6,1036.9 405.9,1039.0 406.3,1032.8 406.7,1020.1 407.1,1034.6 407.5,1027.7 407.8,1037.8 408.2,1022.4 408.6,1031.4 409.0,1021.3 409.3,1017.9 409.7,1028.7 410.1,1020.5 410.5,1028.5 410.8,1032.1 411.2,1026.8 411.6,1022.2 412.0,1020.5 412.4,1022.7 412.7,1019.5 413.1,1015.9 413.5,1023.1 413.9,1028.8 414.2,1011.1 414.6,1015.7 415.0,1016.3 415.4,1006.3 415.8,1020.3 416.1,1024.4 416.5,1020.6 416.9,1024.1 417.3,1021.8 417.6,1027.1 418.0,1023.4 418.4,1018.8 418.8,1025.6 419.1,1029.1 419.5,1022.6 419.9,1033.0 420.3,1018.9 420.7,1026.7 421.0,1018.6 421.4,1019.1 421.8,1023.8 422.2,1030.6 422.5,1023.9 422.9,1039.0 423.3,1032.5 423.7,1038.6 424.0,1032.5 424.4,1032.4 424.8,1029.9 425.2,1029.4 425.6,1029.5 425.9,1030.7 426.3,1028.6 426.7,1034.9 427.1,1035.1 427.4,1035.6 427.8,1043.5 428.2,1042.0 428.6,1049.7 428.9,1041.0 429.3,1036.7 429.7,1031.5 430.1,1043.0 430.5,1039.6 430.8,1040.3 431.2,1032.4 431.6,1040.3 432.0,1034.3 432.3,1046.5 432.7,1048.8 433.1,1033.0 433.5,1041.2 433.8,1082.7 434.2,1118.2 434.6,1146.8 435.0,1171.2 435.4,1190.0 435.7,1206.3 436.1,1221.7 436.5,1231.8 436.9,1242.4 437.2,1250.5 437.6,1256.7 438.0,1261.5 438.4,1265.7 438.7,1271.4 439.1,1274.4 439.5,1277.9 439.9,1279.4 440.3,1281.7 440.6,1283.8 441.0,1285.6 441.4,1286.1 441.8,1287.3 442.1,1289.5 442.5,1290.3 442.9,1290.8 443.3,1291.4 443.6,1291.7 444.0,1293.5 444.4,1293.6 444.8,1294.4 445.2,1294.5 445.5,1296.2 445.9,1296.6 446.3,1297.1 446.7,1296.0 447.0,1297.6 447.4,1297.5 447.8,1298.6 448.2,1298.5 448.5,1299.4 448.9,1298.6 449.3,1299.7 449.7,1299.0 450.1,1299.9 450.4,1300.2 450.8,1299.9 451.2,1300.3 451.6,1300.7 451.9,1301.3 452.3,1301.4 452.7,1300.0 453.1,1301.3 453.4,1301.9 453.8,1301.8 454.2,1301.4 454.6,1300.5 455.0,1302.1 455.3,1301.0 455.7,1301.8 456.1,1302.1 456.5,1301.4 456.8,1302.3 457.2,1303.0 457.6,1302.2 458.0,1302.0 458.4,1302.2 458.7,1302.9 459.1,1301.7 459.5,1301.9 459.9,1301.8 460.2,1302.8 460.6,1302.2 461.0,1302.4 461.4,1303.5 461.7,1303.8 462.1,1303.6 462.5,1303.8 462.9,1303.9 463.3,1303.4 463.6,1302.7 464.0,1303.5 464.4,1303.2 464.8,1304.2 465.1,1303.8 465.5,1302.4 465.9,1304.3 466.3,1303.3 466.6,1302.8 467.0,1302.9 467.4,1303.0 467.8,1303.6 468.2,1302.9 468.5,1302.9 468.9,1303.0 469.3,1302.6 469.7,1304.3 470.0,1302.7 470.4,1303.8 470.8,1303.2 471.2,1304.1 471.5,1302.9 471.9,1304.5 472.3,1303.5 472.7,1304.2 473.1,1303.9 473.4,1303.9 473.8,1303.4 474.2,1303.1 474.6,1304.0 474.9,1303.5 475.3,1304.0 475.7,1304.1 476.1,1303.0 476.4,1304.1 476.8,1304.5 477.2,1304.1 477.6,1303.3 478.0,1304.3 478.3,1303.3 478.7,1303.7 479.1,1303.4 479.5,1304.4 479.8,1304.5 480.2,1304.5 480.6,1304.1 481.0,1303.9 481.3,1304.7 481.7,1303.8 482.1,1304.0 482.5,1304.2 482.9,1303.7 483.2,1303.0 483.6,1304.4 484.0,1303.1 484.4,1304.2 484.7,1303.4 485.1,1304.6 485.5,1302.9 485.9,1304.0 486.2,1303.0 486.6,1304.4 487.0,1304.0 487.4,1303.5 487.8,1304.5 488.1,1304.3 488.5,1303.5 488.9,1303.0 489.3,1304.2 489.6,1304.4 490.0,1304.1 490.4,1302.9 490.8,1304.5 491.1,1303.6 491.5,1304.1 491.9,1303.6 492.3,1304.4 492.7,1303.6 493.0,1303.1 493.4,1303.2 493.8,1303.6 494.2,1303.9 494.5,1303.7 494.9,1304.6 495.3,1303.2 495.7,1305.1 496.1,1263.0 496.4,1224.5 496.8,1191.0 497.2,1160.5 497.6,1133.6 497.9,1108.5 498.3,1086.7 498.7,1066.2 499.1,1044.2 499.4,1028.2 499.8,1018.6 500.2,1005.1 500.6,991.2 501.0,979.7 501.3,969.9 501.7,968.0 502.1,962.1 502.5,955.2 502.8,956.0 503.2,948.7 503.6,942.9 504.0,928.6 504.3,924.7 504.7,936.4 505.1,923.0 505.5,932.1 505.9,914.9 506.2,918.9 506.6,910.7 507.0,917.2 507.4,922.0 507.7,913.5 508.1,913.5 508.5,909.1 508.9,908.4 509.2,912.8 509.6,902.8 510.0,911.0 510.4,905.1 510.8,907.4 511.1,901.5 511.5,907.4 511.9,901.9 512.3,901.7 512.6,902.0 513.0,909.4 513.4,904.3 513.8,900.1 514.1,903.5 514.5,895.6 514.9,893.1 515.3,893.3 515.7,893.1 516.0,889.7 516.4,886.0 516.8,892.5 517.2,889.3 517.5,881.3 517.9,872.7 518.3,876.5 518.7,880.5 519.0,879.6 519.4,876.3 519.8,882.1 520.2,884.3 520.6,870.3 520.9,865.9 521.3,877.3 521.7,862.5 522.1,881.5 522.4,879.2 522.8,879.8 523.2,882.5 523.6,881.3 523.9,885.7 524.3,886.0 524.7,880.6 525.1,883.9 525.5,886.8 525.8,877.9 526.2,898.3 526.6,885.6 527.0,897.6 527.3,889.5 527.7,895.7 528.1,904.2 528.5,894.1 528.9,891.1 529.2,898.1 529.6,904.2 530.0,904.4 530.4,900.6 530.7,902.6 531.1,900.8 531.5,900.0 531.9,897.3 532.2,892.5 532.6,897.1 533.0,893.6 533.4,889.2 533.8,888.1 534.1,888.2 534.5,887.8 534.9,888.6 535.3,879.0 535.6,884.7 536.0,875.3 536.4,883.8 536.8,890.3 537.1,892.3 537.5,883.9 537.9,882.7 538.3,895.5 538.7,884.8 539.0,896.6 539.4,894.6 539.8,902.9 540.2,901.6 540.5,893.7 540.9,910.5 541.3,894.1 541.7,905.4 542.0,900.8 542.4,907.1 542.8,899.6 543.2,899.1 543.6,902.0 543.9,904.5 544.3,907.1 544.7,899.9 545.1,895.0 545.4,896.7 545.8,897.3 546.2,895.8 546.6,902.0 546.9,892.2 547.3,888.9 547.7,886.2 548.1,890.2 548.5,887.0 548.8,883.4 549.2,890.6 549.6,878.0 550.0,883.3 550.3,880.4 550.7,875.2 551.1,871.8 551.5,869.9 551.8,872.3 552.2,888.8 552.6,887.3 553.0,887.7 553.4,889.2 553.7,884.3 554.1,881.0 554.5,884.5 554.9,881.4 555.2,890.9 555.6,891.7 556.0,891.2 556.4,893.9 556.7,894.4 557.1,890.8 557.5,898.2 557.9,898.8 558.3,901.5 558.6,911.6 559.0,892.4 559.4,898.2 559.8,904.4 560.1,903.3 560.5,899.6 560.9,901.8 561.3,967.9 561.6,1022.9 562.0,1067.5 562.4,1105.7 562.8,1137.4 563.2,1162.7 563.5,1183.8 563.9,1200.7 564.3,1214.8 564.7,1226.9 565.0,1237.2 565.4,1245.7 565.8,1253.0 566.2,1258.9 566.5,1265.7 566.9,1269.1 567.3,1272.7 567.7,1275.6 568.1,1278.5 568.4,1280.9 568.8,1282.3 569.2,1285.7 569.6,1286.5 569.9,1287.0 570.3,1290.0 570.7,1291.0 571.1,1290.6 571.5,1291.3 571.8,1293.9 572.2,1294.6 572.6,1293.8 573.0,1294.7 573.3,1295.6 573.7,1296.0 574.1,1296.2 574.5,1296.6 574.8,1298.5 575.2,1298.8 575.6,1297.8 576.0,1297.9 576.4,1298.5 576.7,1299.6 577.1,1300.0 577.5,1300.3 577.9,1301.2 578.2,1300.0 578.6,1301.2 579.0,1300.9 579.4,1301.2 579.7,1301.8 580.1,1301.3 580.5,1301.9 580.9,1302.5 581.3,1301.5 581.6,1302.9 582.0,1303.1 582.4,1303.1 582.8,1302.8 583.1,1302.4 583.5,1303.3 583.9,1303.6 584.3,1303.0 584.6,1303.8 585.0,1303.4 585.4,1304.0 585.8,1302.9 586.2,1304.3 586.5,1304.3 586.9,1304.3 587.3,1304.3 587.7,1303.6 588.0,1303.8 588.4,1303.6 588.8,1304.2 589.2,1305.1 589.5,1303.9 589.9,1304.9 590.3,1305.0 590.7,1304.7 591.1,1303.6 591.4,1304.8 591.8,1304.9 592.2,1303.9 592.6,1303.8 592.9,1305.0 593.3,1305.5 593.7,1304.3 594.1,1304.3 594.4,1305.2 594.8,1304.4 595.2,1305.2 595.6,1305.4 596.0,1304.8 596.3,1304.5 596.7,1305.1 597.1,1304.4 597.5,1306.0 597.8,1305.1 598.2,1305.3 598.6,1305.9 599.0,1304.4 599.3,1305.8 599.7,1305.7 600.1,1304.5 600.5,1304.3 600.9,1304.4 601.2,1305.5 601.6,1304.4 602.0,1305.9 602.4,1304.8 602.7,1304.4 603.1,1305.8 603.5,1306.0 603.9,1304.9 604.2,1304.6 604.6,1304.9 605.0,1304.5 605.4,1305.4 605.8,1305.6 606.1,1306.0 606.5,1305.8 606.9,1304.5 607.3,1306.1 607.6,1305.9 608.0,1305.6 608.4,1306.2 608.8,1305.7 609.2,1306.0 609.5,1306.1 609.9,1305.3 610.3,1305.3 610.7,1305.2 611.0,1304.9 611.4,1305.3 611.8,1304.5 612.2,1306.2 612.5,1305.9 612.9,1306.2 613.3,1305.8 613.7,1304.9 614.1,1304.6 614.4,1305.4 614.8,1306.0 615.2,1305.7 615.6,1305.3 615.9,1305.8 616.3,1304.9 616.7,1304.5 617.1,1305.5 617.4,1305.2 617.8,1304.8 618.2,1305.5 618.6,1306.0 619.0,1304.6 619.3,1304.5 619.7,1306.3 620.1,1304.9 620.5,1305.6 620.8,1306.3 621.2,1306.1 621.6,1306.0 622.0,1305.0 622.3,1306.0 622.7,1306.3 623.1,1306.0 623.5,1304.9 623.9,1305.4 624.2,1305.1 624.6,1305.5 625.0,1306.0 625.4,1306.3 625.7,1305.8 626.1,1306.3 626.5,1305.9 626.9,1305.2 627.2,1305.7 627.6,1305.5 628.0,1305.2 628.4,1305.8 628.8,1305.7 629.1,1304.7 629.5,1305.3 629.9,1305.6 630.3,1305.4 630.6,1305.5 631.0,1305.8 631.4,1304.7 631.8,1259.7 632.1,1205.5 632.5,1168.8 632.9,1135.5 633.3,1106.7 633.7,1078.8 634.0,1051.7 634.4,1032.1 634.8,1010.9 635.2,996.0 635.5,975.4 635.9,963.9 636.3,950.7 636.7,935.8 637.0,924.9 637.4,912.3 637.8,907.6 638.2,891.2 638.6,885.9 638.9,878.0 639.3,879.2 639.7,874.1 640.1,865.8 640.4,852.2 640.8,852.1 641.2,854.3 641.6,855.4 642.0,853.6 642.3,839.4 642.7,835.7 643.1,839.6 643.5,833.7 643.8,826.5 644.2,832.1 644.6,827.6 645.0,817.6 645.3,816.4 645.7,824.5 646.1,819.7 646.5,811.8 646.9,817.4 647.2,814.9 647.6,808.0 648.0,807.1 648.4,801.8 648.7,811.4 649.1,812.2 649.5,807.7 649.9,814.7 650.2,814.9 650.6,816.5 651.0,804.4 651.4,815.4 651.8,811.4 652.1,807.8 652.5,806.5 652.9,815.8 653.3,817.8 653.6,824.6 654.0,816.5 654.4,816.5 654.8,816.9 655.1,823.2 655.5,821.7 655.9,820.7 656.3,824.9 656.7,818.2 657.0,817.6 657.4,822.6 657.8,826.3 658.2,822.2 658.5,811.1 658.9,820.0 659.3,826.7 659.7,815.8 660.0,817.1 660.4,814.3 660.8,822.0 661.2,820.5 661.6,818.9 661.9,815.9 662.3,815.7 662.7,817.3 663.1,818.8 663.4,812.7 663.8,819.1 664.2,815.3 664.6,819.9 664.9,818.0 665.3,821.6 665.7,816.7 666.1,822.9 666.5,816.9 666.8,813.9 667.2,821.0 667.6,816.3 668.0,818.4 668.3,809.0 668.7,813.8 669.1,815.2 669.5,812.4 669.8,815.9 670.2,809.3 670.6,803.5 671.0,810.0 671.4,801.8 671.7,809.5 672.1,809.3 672.5,805.6 672.9,793.5 673.2,809.2 673.6,794.1 674.0,797.2 674.4,790.3 674.7,791.9 675.1,796.2 675.5,800.5 675.9,796.7 676.3,806.6 676.6,800.9 677.0,803.9 677.4,798.4 677.8,805.3 678.1,798.8 678.5,811.8 678.9,812.6 679.3,805.7 679.6,821.0 680.0,805.4 680.4,823.7 680.8,816.6 681.2,812.3 681.5,819.7 681.9,821.9 682.3,825.3 682.7,821.0 683.0,820.0 683.4,820.7 683.8,815.1 684.2,817.6 684.6,820.7 684.9,818.3 685.3,819.1 685.7,826.3 686.1,821.1 686.4,810.2 686.8,812.3 687.2,815.6 687.6,803.9 687.9,819.8 688.3,811.7 688.7,805.7 689.1,809.6 689.5,813.0 689.8,809.7 690.2,803.4 690.6,807.2 691.0,797.4 691.3,802.4 691.7,799.3 692.1,803.9 692.5,805.3 692.8,799.6 693.2,806.2 693.6,802.5 694.0,810.8 694.4,818.5 694.7,806.3 695.1,811.6 695.5,809.7 695.9,819.0 696.2,814.5 696.6,819.6 697.0,822.8 697.4,823.0 697.7,824.1 698.1,811.7 698.5,819.0 698.9,824.4 699.3,821.3 699.6,819.6 700.0,825.1 700.4,818.5 700.8,816.5 701.1,825.4 701.5,819.5 701.9,819.7 702.3,810.6 702.6,815.5 703.0,820.6 703.4,811.9 703.8,818.0 704.2,802.9 704.5,813.4 704.9,812.0 705.3,810.4 705.7,806.8 706.0,801.5 706.4,803.2 706.8,803.8 707.2,796.0 707.5,793.8 707.9,791.6 708.3,795.3 708.7,794.8 709.1,791.1 709.4,795.6 709.8,798.8 710.2,799.1 710.6,793.7 710.9,794.3 711.3,800.1 711.7,808.7 712.1,810.6 712.4,814.8 712.8,815.4 713.2,811.1 713.6,815.7 714.0,819.5 714.3,829.9 714.7,822.9 715.1,822.4 715.5,822.2 715.8,811.0 716.2,823.0 716.6,816.9 717.0,819.4 717.4,822.1 717.7,826.2 718.1,815.9 718.5,820.0 718.9,824.4 719.2,816.3 719.6,824.9 720.0,828.6 720.4,820.2 720.7,895.9 721.1,957.3 721.5,1009.4 721.9,1050.9 722.3,1085.6 722.6,1115.6 723.0,1140.1 723.4,1159.1 723.8,1175.7 724.1,1189.4 724.5,1201.7 724.9,1211.5 725.3,1219.3 725.6,1226.7 726.0,1232.2 726.4,1238.6 726.8,1242.1 727.2,1246.2 727.5,1249.9 727.9,1253.7 728.3,1255.4 728.7,1258.1 729.0,1259.5 729.4,1261.6 729.8,1263.3 730.2,1265.7 730.5,1267.0 730.9,1267.4 731.3,1268.5 731.7,1269.1 732.1,1270.5 732.4,1272.5 732.8,1273.1 733.2,1273.9 733.6,1274.2 733.9,1275.7 734.3,1275.5 734.7,1277.1 735.1,1277.9 735.4,1278.4 735.8,1279.3 736.2,1278.7 736.6,1281.1 737.0,1281.0 737.3,1282.1 737.7,1281.5 738.1,1283.0 738.5,1283.5 738.8,1283.4 739.2,1283.5 739.6,1283.7 740.0,1284.7 740.3,1285.4 740.7,1285.6 741.1,1285.0 741.5,1286.6 741.9,1287.4 742.2,1286.0 742.6,1287.1 743.0,1288.1 743.4,1288.4 743.7,1287.3 744.1,1287.8 744.5,1289.4 744.9,1288.5 745.2,1289.6 745.6,1289.4 746.0,1289.4 746.4,1290.7 746.8,1289.2 747.1,1290.6 747.5,1291.1 747.9,1290.2 748.3,1291.6 748.6,1291.9 749.0,1291.0 749.4,1291.5 749.8,1290.9 750.1,1291.2 750.5,1292.5 750.9,1293.0 751.3,1292.1 751.7,1292.5 752.0,1293.0 752.4,1292.0 752.8,1293.4 753.2,1292.8 753.5,1294.0 753.9,1292.5 754.3,1292.6 754.7,1293.3 755.0,1294.0 755.4,1293.4 755.8,1293.2 756.2,1293.5 756.6,1295.0 756.9,1294.2 757.3,1295.0 757.7,1294.4 758.1,1293.7 758.4,1294.0 758.8,1295.2 759.2,1294.8 759.6,1295.3 760.0,1295.7 760.3,1294.7 760.7,1294.7 761.1,1295.6 761.5,1295.6 761.8,1295.1 762.2,1295.2 762.6,1295.7 763.0,1296.5 763.3,1296.6 763.7,1296.5 764.1,1295.4 764.5,1296.1 764.9,1295.9 765.2,1296.5 765.6,1296.5 766.0,1297.0 766.4,1295.5 766.7,1296.3 767.1,1297.3 767.5,1296.3 767.9,1296.5 768.2,1296.6 768.6,1296.3 769.0,1296.7 769.4,1296.3 769.8,1296.2 770.1,1297.3 770.5,1296.9 770.9,1297.5 771.3,1297.5 771.6,1297.6 772.0,1297.2 772.4,1297.8 772.8,1297.8 773.1,1297.0 773.5,1297.1 773.9,1297.4 774.3,1297.1 774.7,1298.1 775.0,1297.6 775.4,1298.4 775.8,1298.4 776.2,1298.8 776.5,1297.6 776.9,1297.4 777.3,1298.6 777.7,1298.5 778.0,1299.1 778.4,1299.1 778.8,1298.2 779.2,1297.8 779.6,1299.4 779.9,1299.1 780.3,1298.2 780.7,1299.3 781.1,1298.1 781.4,1299.2 781.8,1299.0 782.2,1299.5 782.6,1299.4 782.9,1299.2 783.3,1299.6 783.7,1298.8 784.1,1300.1 784.5,1299.0 784.8,1298.8 785.2,1299.7 785.6,1300.0 786.0,1300.2 786.3,1300.4 786.7,1299.1 787.1,1299.5 787.5,1300.6 787.8,1299.9 788.2,1299.6 788.6,1300.2 789.0,1300.8 789.4,1300.1 789.7,1300.3 790.1,1299.2 790.5,1300.4 790.9,1299.4 791.2,1299.6 791.6,1300.2 792.0,1301.1 792.4,1299.8 792.8,1301.2 793.1,1300.4 793.5,1301.3 793.9,1301.4 794.3,1300.8 794.6,1301.4 795.0,1299.8 795.4,1300.7 795.8,1300.1 796.1,1300.1 796.5,1300.5 796.9,1300.7 797.3,1301.1 797.7,1300.6 798.0,1300.9 798.4,1301.9 798.8,1301.2 799.2,1301.5 799.5,1301.3 799.9,1301.0 800.3,1301.1 800.7,1301.4 801.0,1301.0 801.4,1301.0 801.8,1302.4 802.2,1302.4 802.6,1302.6 802.9,1302.5 803.3,1301.0 803.7,1302.3 804.1,1302.1 804.4,1302.1 804.8,1302.0 805.2,1302.6 805.6,1301.7 805.9,1302.6 806.3,1301.6 806.7,1301.8 807.1,1303.3 807.5,1302.3 807.8,1303.3 808.2,1301.8 808.6,1303.4 809.0,1303.1 809.3,1302.2 809.7,1302.6 810.1,1302.5 810.5,1303.0 810.8,1302.9 811.2,1303.5 811.6,1303.1" marker-start="url(#mtu)" marker-mid="url(#mtu)" marker-end="url(#mtu)"/>
<polyline fill="none" stroke="#ff00ff" stroke-width="1.5" points="133.0,1312.2 133.4,1311.4 133.8,1312.5 134.1,1312.4 134.5,1312.3 134.9,1311.7 135.3,1311.6 135.6,1312.6 136.0,1310.8 136.4,1311.1 136.8,1311.9 137.1,1312.4 137.5,1311.1 137.9,1310.8 138.3,1312.3 138.7,1311.2 139.0,1311.1 139.4,1310.9 139.8,1312.3 140.2,1312.4 140.5,1312.3 140.9,1312.2 141.3,1311.0 141.7,1310.9 142.0,1311.8 142.4,1312.4 142.8,1312.0 143.2,1312.2 143.6,1311.4 143.9,1311.3 144.3,1311.2 144.7,1311.8 145.1,1311.8 145.4,1311.8 145.8,1312.0 146.2,1311.8 146.6,1311.4 146.9,1311.3 147.3,1312.0 147.7,1311.6 148.1,1312.4 148.5,1312.6 148.8,1311.9 149.2,1312.0 149.6,1312.6 150.0,1312.5 150.3,1311.9 150.7,1310.9 151.1,1311.1 151.5,1312.6 151.8,1312.1 152.2,1312.0 152.6,1312.1 153.0,1312.4 153.4,1311.5 153.7,1311.1 154.1,1311.9 154.5,1312.3 154.9,1312.5 155.2,1312.6 155.6,1311.2 156.0,1312.2 156.4,1311.3 156.8,1311.2 157.1,1312.5 157.5,1312.3 157.9,1312.1 158.3,1311.2 158.6,1311.3 159.0,1312.1 159.4,1311.8 159.8,1312.0 160.1,1311.8 160.5,1311.2 160.9,1312.2 161.3,1311.1 161.7,1310.9 162.0,1311.5 162.4,1310.8 162.8,1310.9 163.2,1312.3 163.5,1310.8 163.9,1312.3 164.3,1311.1 164.7,1312.4 165.0,1312.1 165.4,1311.8 165.8,1311.1 166.2,1311.4 166.6,1312.3 166.9,1311.0 167.3,1311.0 167.7,1311.7 168.1,1312.6 168.4,1312.1 168.8,1312.1 169.2,1311.9 169.6,1310.9 169.9,1311.5 170.3,1311.1 170.7,1312.5 171.1,1312.2 171.5,1311.3 171.8,1312.0 172.2,1312.2 172.6,1312.5 173.0,1312.6 173.3,1311.9 173.7,1311.6 174.1,1311.9 174.5,1311.6 174.8,1312.1 175.2,1312.6 175.6,1311.4 176.0,1312.0 176.4,1311.7 176.7,1311.9 177.1,1304.4 177.5,1297.8 177.9,1291.0 178.2,1285.2 178.6,1280.4 179.0,1275.8 179.4,1275.9 179.7,1269.1 180.1,1273.2 180.5,1259.9 180.9,1253.8 181.3,1245.6 181.6,1250.7 182.0,1248.5 182.4,1249.0 182.8,1243.3 183.1,1251.0 183.5,1242.2 183.9,1243.6 184.3,1240.0 184.6,1248.9 185.0,1231.8 185.4,1240.4 185.8,1237.6 186.2,1243.0 186.5,1235.6 186.9,1241.2 187.3,1238.1 187.7,1236.2 188.0,1227.1 188.4,1225.6 188.8,1236.8 189.2,1232.8 189.6,1241.7 189.9,1232.7 190.3,1241.5 190.7,1224.5 191.1,1230.3 191.4,1229.1 191.8,1228.8 192.2,1229.7 192.6,1233.1 192.9,1237.1 193.3,1220.1 193.7,1223.0 194.1,1232.7 194.5,1233.2 194.8,1227.5 195.2,1225.3 195.6,1226.7 196.0,1233.4 196.3,1224.5 196.7,1234.4 197.1,1235.6 197.5,1235.3 197.8,1234.5 198.2,1224.4 198.6,1224.3 199.0,1231.1 199.4,1234.4 199.7,1223.0 200.1,1224.6 200.5,1220.9 200.9,1234.5 201.2,1224.9 201.6,1232.0 202.0,1222.7 202.4,1221.3 202.7,1227.7 203.1,1233.2 203.5,1233.8 203.9,1237.6 204.3,1233.7 204.6,1227.7 205.0,1234.0 205.4,1237.6 205.8,1232.8 206.1,1233.4 206.5,1234.0 206.9,1224.4 207.3,1223.8 207.6,1231.0 208.0,1221.8 208.4,1227.7 208.8,1229.0 209.2,1227.5 209.5,1233.8 209.9,1235.7 210.3,1229.6 210.7,1218.9 211.0,1230.1 211.4,1235.0 211.8,1228.9 212.2,1235.3 212.5,1230.2 212.9,1231.8 213.3,1233.3 213.7,1223.7 214.1,1225.5 214.4,1226.2 214.8,1233.0 215.2,1226.9 215.6,1236.4 215.9,1220.8 216.3,1235.0 216.7,1234.0 217.1,1227.7 217.4,1238.6 217.8,1231.5 218.2,1226.4 218.6,1230.1 219.0,1238.7 219.3,1245.7 219.7,1250.5 220.1,1255.1 220.5,1261.2 220.8,1264.0 221.2,1268.4 221.6,1270.7 222.0,1273.2 222.3,1275.8 222.7,1279.0 223.1,1281.2 223.5,1281.4 223.9,1283.2 224.2,1284.7 224.6,1286.8 225.0,1289.0 225.4,1289.5 225.7,1289.6 226.1,1292.2 226.5,1292.7 226.9,1294.0 227.2,1293.3 227.6,1295.0 228.0,1296.3 228.4,1296.5 228.8,1297.4 229.1,1297.6 229.5,1297.8 229.9,1298.3 230.3,1299.9 230.6,1299.5 231.0,1300.9 231.4,1300.7 231.8,1300.4 232.2,1301.9 232.5,1301.2 232.9,1302.7 233.3,1302.8 233.7,1302.4 234.0,1304.2 234.4,1303.5 234.8,1303.8 235.2,1303.8 235.5,1303.6 235.9,1304.4 236.3,1305.5 236.7,1305.8 237.1,1305.5 237.4,1306.2 237.8,1305.9 238.2,1307.0 238.6,1306.0 238.9,1306.8 239.3,1307.6 239.7,1307.7 240.1,1306.3 240.4,1306.7 240.8,1306.8 241.2,1307.9 241.6,1306.9 242.0,1308.6 242.3,1307.7 242.7,1307.4 243.1,1308.9 243.5,1309.4 243.8,1309.3 244.2,1309.5 244.6,1308.3 245.0,1308.8 245.3,1309.1 245.7,1309.9 246.1,1309.0 246.5,1310.0 246.9,1310.1 247.2,1309.3 247.6,1309.3 248.0,1309.1 248.4,1309.1 248.7,1310.5 249.1,1310.3 249.5,1310.6 249.9,1310.1 250.2,1311.0 250.6,1309.5 251.0,1309.9 251.4,1309.7 251.8,1310.4 252.1,1309.6 252.5,1309.8 252.9,1309.9 253.3,1310.0 253.6,1311.1 254.0,1310.9 254.4,1311.5 254.8,1310.2 255.1,1310.8 255.5,1309.9 255.9,1311.2 256.3,1311.0 256.7,1310.2 257.0,1310.0 257.4,1310.5 257.8,1310.2 258.2,1310.2 258.5,1311.5 258.9,1310.8 259.3,1311.9 259.7,1310.8 260.0,1310.3 260.4,1311.1 260.8,1311.8 261.2,1311.1 261.6,1312.0 261.9,1311.3 262.3,1312.0 262.7,1311.4 263.1,1310.7 263.4,1310.8 263.8,1310.6 264.2,1311.4 264.6,1311.4 264.9,1312.2 265.3,1310.8 265.7,1311.2 266.1,1311.6 266.5,1312.1 266.8,1311.5 267.2,1312.2 267.6,1312.2 268.0,1312.2 268.3,1311.6 268.7,1312.2 269.1,1310.9 269.5,1311.3 269.9,1310.8 270.2,1311.4 270.6,1312.2 271.0,1311.9 271.4,1310.9 271.7,1311.4 272.1,1311.3 272.5,1311.3 272.9,1312.4 273.2,1312.1 273.6,1311.7 274.0,1310.9 274.4,1310.7 274.8,1311.5 275.1,1301.9 275.5,1292.6 275.9,1282.6 276.3,1274.5 276.6,1265.6 277.0,1259.6 277.4,1265.2 277.8,1235.6 278.1,1246.5 278.5,1225.2 278.9,1230.8 279.3,1222.7 279.7,1210.4 280.0,1206.7 280.4,1212.0 280.8,1212.8 281.2,1205.9 281.5,1199.8 281.9,1184.3 282.3,1184.0 282.7,1188.4 283.0,1190.0 283.4,1178.0 283.8,1196.1 284.2,1177.5 284.6,1178.0 284.9,1174.5 285.3,1186.7 285.7,1162.3 286.1,1172.1 286.4,1173.4 286.8,1179.1 287.2,1180.9 287.6,1171.1 287.9,1165.5 288.3,1169.7 288.7,1166.0 289.1,1155.2 289.5,1163.1 289.8,1159.9 290.2,1159.1 290.6,1153.6 291.0,1170.1 291.3,1155.3 291.7,1155.9 292.1,1155.5 292.5,1156.0 292.8,1152.5 293.2,1151.5 293.6,1160.2 294.0,1155.7 294.4,1160.8 294.7,1158.2 295.1,1142.4 295.5,1155.0 295.9,1158.1 296.2,1160.9 296.6,1149.6 297.0,1150.4 297.4,1156.9 297.7,1159.4 298.1,1163.6 298.5,1156.2 298.9,1155.8 299.3,1145.0 299.6,1145.9 300.0,1154.3 300.4,1153.8 300.8,1151.4 301.1,1153.6 301.5,1150.7 301.9,1154.8 302.3,1167.1 302.6,1164.5 303.0,1148.5 303.4,1166.6 303.8,1154.9 304.2,1144.7 304.5,1144.0 304.9,1155.7 305.3,1146.7 305.7,1148.3 306.0,1158.0 306.4,1156.9 306.8,1153.5 307.2,1141.0 307.6,1145.2 307.9,1163.6 308.3,1166.5 308.7,1156.8 309.1,1149.5 309.4,1141.4 309.8,1152.0 310.2,1142.8 310.6,1154.6 310.9,1156.8 311.3,1148.6 311.7,1140.2 312.1,1148.1 312.5,1154.6 312.8,1151.9 313.2,1155.4 313.6,1160.0 314.0,1154.3 314.3,1157.3 314.7,1150.3 315.1,1147.5 315.5,1156.3 315.8,1144.8 316.2,1156.0 316.6,1163.0 317.0,1138.5 317.4,1155.6 317.7,1155.7 318.1,1151.2 318.5,1155.4 318.9,1150.5 319.2,1163.5 319.6,1150.7 320.0,1148.8 320.4,1151.2 320.7,1166.9 321.1,1179.3 321.5,1190.5 321.9,1200.8 322.3,1209.6 322.6,1217.5 323.0,1224.5 323.4,1231.1 323.8,1236.7 324.1,1240.4 324.5,1245.5 324.9,1248.6 325.3,1252.2 325.6,1255.3 326.0,1258.5 326.4,1261.5 326.8,1263.8 327.2,1265.3 327.5,1267.1 327.9,1270.1 328.3,1271.9 328.7,1273.3 329.0,1275.0 329.4,1276.1 329.8,1277.3 330.2,1278.6 330.5,1279.8 330.9,1281.1 331.3,1281.8 331.7,1283.9 332.1,1284.9 332.4,1285.6 332.8,1287.1 333.2,1287.1 333.6,1288.7 333.9,1289.3 334.3,1290.2 334.7,1291.3 335.1,1292.7 335.4,1292.9 335.8,1293.2 336.2,1293.0 336.6,1295.1 337.0,1294.3 337.3,1294.8 337.7,1295.7 338.1,1297.2 338.5,1298.2 338.8,1297.1 339.2,1299.1 339.6,1299.1 340.0,1298.4 340.4,1299.3 340.7,1299.5 341.1,1299.9 341.5,1301.5 341.9,1301.3 342.2,1302.4 342.6,1302.2 343.0,1302.3 343.4,1302.1 343.7,1303.4 344.1,1303.0 344.5,1304.3 344.9,1304.3 345.3,1305.0 345.6,1304.3 346.0,1304.5 346.4,1304.5 346.8,1305.3 347.1,1304.6 347.5,1305.2 347.9,1305.7 348.3,1305.3 348.6,1306.8 349.0,1306.8 349.4,1306.5 349.8,1306.6 350.2,1306.1 350.5,1306.8 350.9,1308.1 351.3,1306.6 351.7,1307.7 352.0,1308.3 352.4,1307.4 352.8,1307.8 353.2,1307.5 353.5,1308.2 353.9,1308.8 354.3,1308.6 354.7,1308.7 355.1,1309.0 355.4,1308.7 355.8,1309.6 356.2,1309.5 356.6,1309.8 356.9,1310.1 357.3,1309.3 357.7,1308.9 358.1,1309.6 358.4,1308.8 358.8,1309.4 359.2,1309.4 359.6,1310.2 360.0,1309.1 360.3,1310.2 360.7,1309.3 361.1,1310.5 361.5,1309.2 361.8,1309.8 362.2,1310.8 362.6,1309.8 363.0,1310.9 363.3,1310.6 363.7,1310.6 364.1,1310.8 364.5,1310.7 364.9,1311.2 365.2,1310.8 365.6,1311.4 366.0,1310.1 366.4,1311.0 366.7,1310.3 367.1,1310.9 367.5,1309.9 367.9,1310.1 368.2,1310.5 368.6,1310.2 369.0,1310.1 369.4,1310.1 369.8,1311.1 370.1,1310.8 370.5,1311.8 370.9,1311.3 371.3,1311.4 371.6,1310.9 372.0,1312.0 372.4,1310.7 372.8,1312.0 373.1,1311.3 373.5,1311.2 373.9,1310.6 374.3,1311.0 374.7,1311.9 375.0,1310.9 375.4,1311.8 375.8,1311.1 376.2,1311.5 376.5,1310.5 376.9,1311.4 377.3,1311.8 377.7,1311.7 378.1,1310.5 378.4,1311.7 378.8,1311.9 379.2,1311.3 379.6,1311.1 379.9,1310.9 380.3,1293.3 380.7,1275.2 381.1,1258.2 381.4,1243.7 381.8,1229.6 382.2,1217.0 382.6,1222.5 383.0,1205.1 383.3,1201.3 383.7,1178.4 384.1,1172.1 384.5,1163.6 384.8,1152.7 385.2,1149.6 385.6,1142.0 386.0,1141.7 386.3,1112.7 386.7,1120.0 387.1,1127.4 387.5,1115.8 387.9,1124.2 388.2,1114.1 388.6,1110.9 389.0,1122.9 389.4,1085.9 389.7,1089.8 390.1,1105.2 390.5,1093.6 390.9,1095.0 391.2,1092.2 391.6,1090.1 392.0,1078.0 392.4,1075.1 392.8,1087.6 393.1,1092.6 393.5,1075.2 393.9,1077.2 394.3,1067.8 394.6,1078.2 395.0,1088.2 395.4,1084.3 395.8,1066.8 396.1,1071.9 396.5,1081.1 396.9,1085.9 397.3,1066.8 397.7,1064.6 398.0,1060.2 398.4,1061.6 398.8,1073.1 399.2,1074.1 399.5,1069.0 399.9,1074.0 400.3,1071.6 400.7,1062.1 401.0,1079.2 401.4,1056.8 401.8,1071.2 402.2,1061.4 402.6,1066.8 402.9,1076.6 403.3,1047.9 403.7,1067.3 404.1,1052.8 404.4,1055.4 404.8,1055.6 405.2,1059.1 405.6,1060.7 405.9,1059.2 406.3,1058.6 406.7,1067.8 407.1,1074.6 407.5,1059.9 407.8,1067.6 408.2,1054.4 408.6,1070.7 409.0,1066.1 409.3,1076.2 409.7,1062.1 410.1,1073.2 410.5,1076.1 410.8,1069.4 411.2,1067.7 411.6,1067.7 412.0,1060.6 412.4,1058.4 412.7,1065.4 413.1,1073.3 413.5,1073.3 413.9,1054.7 414.2,1075.9 414.6,1069.6 415.0,1069.6 415.4,1064.2 415.8,1077.7 416.1,1071.2 416.5,1075.4 416.9,1071.8 417.3,1062.9 417.6,1064.9 418.0,1067.8 418.4,1085.9 418.8,1067.7 419.1,1074.7 419.5,1069.1 419.9,1072.5 420.3,1075.2 420.7,1064.8 421.0,1075.3 421.4,1075.4 421.8,1081.6 422.2,1078.5 422.5,1076.1 422.9,1075.9 423.3,1079.4 423.7,1076.3 424.0,1079.6 424.4,1064.6 424.8,1076.8 425.2,1083.7 425.6,1085.3 425.9,1058.5 426.3,1080.7 426.7,1067.2 427.1,1082.6 427.4,1079.5 427.8,1056.8 428.2,1061.7 428.6,1077.1 428.9,1085.8 429.3,1073.7 429.7,1056.7 430.1,1068.5 430.5,1069.0 430.8,1081.0 431.2,1075.5 431.6,1065.9 432.0,1059.6 432.3,1063.0 432.7,1071.7 433.1,1094.2 433.5,1114.1 433.8,1131.2 434.2,1145.4 434.6,1159.7 435.0,1171.4 435.4,1181.0 435.7,1190.3 436.1,1197.6 436.5,1204.9 436.9,1212.5 437.2,1217.9 437.6,1222.4 438.0,1227.5 438.4,1231.4 438.7,1235.7 439.1,1240.0 439.5,1242.3 439.9,1244.9 440.3,1249.5 440.6,1251.2 441.0,1253.8 441.4,1256.2 441.8,1258.6 442.1,1260.7 442.5,1261.8 442.9,1264.0 443.3,1266.6 443.6,1267.6 444.0,1269.5 444.4,1270.8 444.8,1272.0 445.2,1275.1 445.5,1276.2 445.9,1277.5 446.3,1277.7 446.7,1278.7 447.0,1281.1 447.4,1281.8 447.8,1282.1 448.2,1283.4 448.5,1284.7 448.9,1285.1 449.3,1285.9 449.7,1288.4 450.1,1287.6 450.4,1289.7 450.8,1289.9 451.2,1290.4 451.6,1292.0 451.9,1292.7 452.3,1292.2 452.7,1293.1 453.1,1293.4 453.4,1295.6 453.8,1295.2 454.2,1295.6 454.6,1295.7 455.0,1296.7 455.3,1298.1 455.7,1298.9 456.1,1299.2 456.5,1299.5 456.8,1299.4 457.2,1300.3 457.6,1301.0 458.0,1301.5 458.4,1300.8 458.7,1300.9 459.1,1302.6 459.5,1302.2 459.9,1301.6 460.2,1303.1 460.6,1303.1 461.0,1302.9 461.4,1304.7 461.7,1303.3 462.1,1303.8 462.5,1304.1 462.9,1305.1 463.3,1305.1 463.6,1304.5 464.0,1306.4 464.4,1306.5 464.8,1305.7 465.1,1305.3 465.5,1307.0 465.9,1307.1 466.3,1306.8 466.6,1306.4 467.0,1306.9 467.4,1306.9 467.8,1308.2 468.2,1308.1 468.5,1307.5 468.9,1307.4 469.3,1308.7 469.7,1308.9 470.0,1308.6 470.4,1308.5 470.8,1308.8 471.2,1309.2 471.5,1309.5 471.9,1308.5 472.3,1308.0 472.7,1308.7 473.1,1308.3 473.4,1309.9 473.8,1309.0 474.2,1309.6 474.6,1308.8 474.9,1309.3 475.3,1309.4 475.7,1308.9 476.1,1308.9 476.4,1310.5 476.8,1310.0 477.2,1310.7 477.6,1309.9 478.0,1310.6 478.3,1309.7 478.7,1310.4 479.1,1311.2 479.5,1309.6 479.8,1311.0 480.2,1310.8 480.6,1310.4 481.0,1311.3 481.3,1310.0 481.7,1310.2 482.1,1311.3 482.5,1310.4 482.9,1311.4 483.2,1310.7 483.6,1311.5 484.0,1311.2 484.4,1310.9 484.7,1310.8 485.1,1310.6 485.5,1310.1 485.9,1311.2 486.2,1311.2 486.6,1311.5 487.0,1310.6 487.4,1311.3 487.8,1311.6 488.1,1311.7 488.5,1311.3 488.9,1310.5 489.3,1311.3 489.6,1310.6 490.0,1311.2 490.4,1311.1 490.8,1311.7 491.1,1311.4 491.5,1310.8 491.9,1312.1 492.3,1311.4 492.7,1311.8 493.0,1311.7 493.4,1311.6 493.8,1311.9 494.2,1311.2 494.5,1312.2 494.9,1311.9 495.3,1311.8 495.7,1312.0 496.1,1310.8 496.4,1311.1 496.8,1310.7 497.2,1312.1 497.6,1312.0 497.9,1311.8 498.3,1311.5 498.7,1310.9 499.1,1310.9 499.4,1310.8 499.8,1312.4 500.2,1312.6 500.6,1288.1 501.0,1265.9 501.3,1246.4 501.7,1227.1 502.1,1210.4 502.5,1193.2 502.8,1186.6 503.2,1166.7 503.6,1160.3 504.0,1136.4 504.3,1118.5 504.7,1132.6 505.1,1107.8 505.5,1103.8 505.9,1103.6 506.2,1080.1 506.6,1088.6 507.0,1078.1 507.4,1072.8 507.7,1065.0 508.1,1071.4 508.5,1068.9 508.9,1045.3 509.2,1061.9 509.6,1058.4 510.0,1051.0 510.4,1039.8 510.8,1037.4 511.1,1039.0 511.5,1036.3 511.9,1033.9 512.3,1030.6 512.6,1032.5 513.0,1020.6 513.4,1033.2 513.8,1037.2 514.1,1019.4 514.5,1022.2 514.9,1017.9 515.3,1014.0 515.7,1028.1 516.0,1016.9 516.4,1009.0 516.8,1014.1 517.2,1021.6 517.5,1015.4 517.9,1024.0 518.3,1009.7 518.7,1028.2 519.0,1015.4 519.4,1013.0 519.8,1016.2 520.2,1019.6 520.6,1017.6 520.9,1014.1 521.3,1016.2 521.7,1016.4 522.1,1021.7 522.4,1013.1 522.8,1017.2 523.2,1017.7 523.6,1008.2 523.9,1012.5 524.3,1000.6 524.7,1014.8 525.1,1019.5 525.5,1008.6 525.8,1025.3 526.2,1009.3 526.6,1013.7 527.0,1011.4 527.3,1010.4 527.7,1008.4 528.1,1008.9 528.5,1010.1 528.9,1018.0 529.2,1014.7 529.6,1017.2 530.0,1005.9 530.4,1017.6 530.7,1019.7 531.1,1020.2 531.5,1023.3 531.9,998.6 532.2,1021.2 532.6,1024.1 533.0,999.3 533.4,1011.0 533.8,999.7 534.1,1005.7 534.5,1005.2 534.9,1019.2 535.3,1008.9 535.6,1012.3 536.0,1013.3 536.4,1009.4 536.8,1018.3 537.1,1005.7 537.5,1012.5 537.9,1009.2 538.3,1000.1 538.7,1004.5 539.0,1004.2 539.4,1023.4 539.8,1011.6 540.2,1014.1 540.5,1009.0 540.9,1010.0 541.3,1011.0 541.7,1005.9 542.0,1016.7 542.4,1010.0 542.8,1013.2 543.2,1008.3 543.6,1019.1 543.9,1009.0 544.3,1020.3 544.7,1026.0 545.1,1008.4 545.4,1012.9 545.8,1007.1 546.2,1013.9 546.6,1009.0 546.9,1007.1 547.3,1022.2 547.7,1006.8 548.1,1003.2 548.5,1008.0 548.8,1010.0 549.2,1014.9 549.6,1010.3 550.0,1018.8 550.3,1006.0 550.7,1001.1 551.1,1017.8 551.5,1019.7 551.8,1005.8 552.2,1021.2 552.6,1013.4 553.0,1010.9 553.4,1019.2 553.7,1011.2 554.1,1002.1 554.5,1017.2 554.9,1018.1 555.2,1010.4 555.6,1012.5 556.0,1013.5 556.4,1004.9 556.7,1010.5 557.1,1010.2 557.5,1017.0 557.9,1002.6 558.3,1015.7 558.6,1008.3 559.0,1001.2 559.4,1011.4 559.8,1011.4 560.1,1011.3 560.5,1010.7 560.9,1003.8 561.3,1013.8 561.6,1015.7 562.0,1014.0 562.4,1019.1 562.8,1006.0 563.2,1006.8 563.5,1011.8 563.9,1002.1 564.3,1013.1 564.7,1016.2 565.0,1012.9 565.4,1040.4 565.8,1065.0 566.2,1086.4 566.5,1105.1 566.9,1121.2 567.3,1135.3 567.7,1148.1 568.1,1159.4 568.4,1169.1 568.8,1178.8 569.2,1186.5 569.6,1194.7 569.9,1201.3 570.3,1206.5 570.7,1211.5 571.1,1217.3 571.5,1220.5 571.8,1225.9 572.2,1229.5 572.6,1233.1 573.0,1235.6 573.3,1240.3 573.7,1243.1 574.1,1245.2 574.5,1248.4 574.8,1250.9 575.2,1253.7 575.6,1254.5 576.0,1257.5 576.4,1259.3 576.7,1261.9 577.1,1262.4 577.5,1265.8 577.9,1266.4 578.2,1269.2 578.6,1269.9 579.0,1271.8 579.4,1272.1 579.7,1274.4 580.1,1275.0 580.5,1277.8 580.9,1278.7 581.3,1278.5 581.6,1280.8 582.0,1282.5 582.4,1283.1 582.8,1284.0 583.1,1284.7 583.5,1285.9 583.9,1286.9 584.3,1287.5 584.6,1288.4 585.0,1289.7 585.4,1289.9 585.8,1290.6 586.2,1291.3 586.5,1291.7 586.9,1292.9 587.3,1294.0 587.7,1293.3 588.0,1295.5 588.4,1295.7 588.8,1296.1 589.2,1296.6 589.5,1297.6 589.9,1296.9 590.3,1298.4 590.7,1298.4 591.1,1298.8 591.4,1300.1 591.8,1300.0 592.2,1301.0 592.6,1300.6 592.9,1300.6 593.3,1300.8 593.7,1301.0 594.1,1302.9 594.4,1302.6 594.8,1302.5 595.2,1303.4 595.6,1302.6 596.0,1303.7 596.3,1303.3 596.7,1305.1 597.1,1304.7 597.5,1304.4 597.8,1304.4 598.2,1305.3 598.6,1304.8 599.0,1305.2 599.3,1306.1 599.7,1305.7 600.1,1306.3 600.5,1307.2 600.9,1305.9 601.2,1306.2 601.6,1306.3 602.0,1307.7 602.4,1306.8 602.7,1308.4 603.1,1307.7 603.5,1308.2 603.9,1307.9 604.2,1308.3 604.6,1308.1 605.0,1308.4 605.4,1307.9 605.8,1308.3 606.1,1309.1 606.5,1309.3 606.9,1309.4 607.3,1309.3 607.6,1309.2 608.0,1309.2 608.4,1308.8 608.8,1308.4 609.2,1309.9 609.5,1309.9 609.9,1309.5 610.3,1310.6 610.7,1309.5 611.0,1310.7 611.4,1309.7 611.8,1309.8 612.2,1310.2 612.5,1309.1 612.9,1310.5 613.3,1311.1 613.7,1311.0 614.1,1310.8 614.4,1309.9 614.8,1309.9 615.2,1310.7 615.6,1309.7 615.9,1311.1 616.3,1311.1 616.7,1310.5 617.1,1310.6 617.4,1310.1 617.8,1311.1 618.2,1310.0 618.6,1310.5 619.0,1310.5 619.3,1310.7 619.7,1311.4 620.1,1310.8 620.5,1310.1 620.8,1311.9 621.2,1311.3 621.6,1311.4 622.0,1311.5 622.3,1310.5 622.7,1310.8 623.1,1311.8 623.5,1310.7 623.9,1310.4 624.2,1312.0 624.6,1312.1 625.0,1311.0 625.4,1310.5 625.7,1311.1 626.1,1311.2 626.5,1311.4 626.9,1311.2 627.2,1310.5 627.6,1311.1 628.0,1310.9 628.4,1311.4 628.8,1310.6 629.1,1310.9 629.5,1311.4 629.9,1311.8 630.3,1311.8 630.6,1310.5 631.0,1311.2 631.4,1312.2 631.8,1311.4 632.1,1311.6 632.5,1311.3 632.9,1311.9 633.3,1310.7 633.7,1311.5 634.0,1310.9 634.4,1312.0 634.8,1311.0 635.2,1285.2 635.5,1260.9 635.9,1238.7 636.3,1217.1 636.7,1198.9 637.0,1181.5 637.4,1168.5 637.8,1155.7 638.2,1145.5 638.6,1125.1 638.9,1116.1 639.3,1101.5 639.7,1104.9 640.1,1084.4 640.4,1078.0 640.8,1064.8 641.2,1063.5 641.6,1049.1 642.0,1044.3 642.3,1035.6 642.7,1033.0 643.1,1035.2 643.5,1032.8 643.8,1015.3 644.2,1029.4 644.6,1018.5 645.0,1024.5 645.3,1017.5 645.7,1009.7 646.1,1017.4 646.5,994.3 646.9,1005.2 647.2,996.2 647.6,1009.0 648.0,1005.1 648.4,1003.3 648.7,994.4 649.1,986.3 649.5,994.6 649.9,989.0 650.2,990.8 650.6,993.3 651.0,991.5 651.4,989.3 651.8,982.1 652.1,989.9 652.5,984.9 652.9,995.5 653.3,997.5 653.6,983.3 654.0,983.9 654.4,990.7 654.8,994.5 655.1,978.1 655.5,984.3 655.9,987.1 656.3,981.6 656.7,977.9 657.0,984.6 657.4,981.8 657.8,983.4 658.2,979.8 658.5,986.0 658.9,980.1 659.3,978.6 659.7,986.9 660.0,986.9 660.4,984.1 660.8,981.0 661.2,989.9 661.6,969.0 661.9,975.6 662.3,990.9 662.7,988.3 663.1,974.5 663.4,988.0 663.8,981.7 664.2,979.2 664.6,989.5 664.9,977.8 665.3,977.1 665.7,969.6 666.1,981.1 666.5,980.8 666.8,981.7 667.2,983.5 667.6,991.0 668.0,972.7 668.3,990.2 668.7,987.4 669.1,988.3 669.5,986.8 669.8,971.7 670.2,978.3 670.6,974.9 671.0,978.2 671.4,970.8 671.7,974.7 672.1,974.6 672.5,983.3 672.9,974.8 673.2,982.6 673.6,987.0 674.0,970.8 674.4,989.8 674.7,988.9 675.1,989.0 675.5,974.4 675.9,983.7 676.3,981.3 676.6,972.1 677.0,979.8 677.4,988.9 677.8,974.9 678.1,982.7 678.5,988.9 678.9,975.7 679.3,988.0 679.6,992.7 680.0,988.1 680.4,982.7 680.8,986.3 681.2,975.0 681.5,981.9 681.9,978.7 682.3,967.9 682.7,973.5 683.0,988.9 683.4,988.2 683.8,988.6 684.2,981.2 684.6,978.4 684.9,975.9 685.3,983.8 685.7,982.1 686.1,985.9 686.4,976.3 686.8,988.0 687.2,985.5 687.6,990.1 687.9,982.1 688.3,983.3 688.7,990.8 689.1,982.3 689.5,992.0 689.8,987.5 690.2,982.5 690.6,987.5 691.0,978.4 691.3,983.5 691.7,973.4 692.1,993.2 692.5,978.5 692.8,981.4 693.2,990.9 693.6,985.9 694.0,978.1 694.4,977.1 694.7,977.2 695.1,985.7 695.5,978.8 695.9,978.7 696.2,981.6 696.6,966.8 697.0,980.6 697.4,976.3 697.7,983.2 698.1,984.8 698.5,979.9 698.9,987.3 699.3,979.3 699.6,985.9 700.0,983.2 700.4,967.8 700.8,986.9 701.1,989.7 701.5,982.4 701.9,972.9 702.3,977.9 702.6,986.4 703.0,991.2 703.4,990.9 703.8,979.3 704.2,986.8 704.5,989.9 704.9,975.2 705.3,986.8 705.7,981.1 706.0,990.8 706.4,986.4 706.8,974.4 707.2,973.4 707.5,979.3 707.9,979.2 708.3,981.8 708.7,985.7 709.1,981.8 709.4,983.7 709.8,982.3 710.2,978.5 710.6,985.2 710.9,980.8 711.3,975.9 711.7,973.5 712.1,981.6 712.4,985.2 712.8,986.7 713.2,988.0 713.6,977.9 714.0,978.1 714.3,986.2 714.7,980.1 715.1,972.7 715.5,991.7 715.8,977.9 716.2,972.8 716.6,990.9 717.0,980.8 717.4,982.3 717.7,973.9 718.1,983.9 718.5,983.4 718.9,979.1 719.2,972.1 719.6,977.9 720.0,977.3 720.4,973.2 720.7,972.0 721.1,977.5 721.5,984.8 721.9,981.0 722.3,984.4 722.6,971.5 723.0,991.3 723.4,970.8 723.8,981.9 724.1,1011.7 724.5,1038.6 724.9,1061.7 725.3,1081.4 725.6,1099.2 726.0,1116.2 726.4,1128.4 726.8,1141.5 727.2,1152.4 727.5,1162.6 727.9,1171.2 728.3,1179.1 728.7,1186.0 729.0,1190.1 729.4,1196.5 729.8,1201.8 730.2,1207.0 730.5,1211.6 730.9,1214.2 731.3,1219.0 731.7,1222.7 732.1,1226.7 732.4,1228.4 732.8,1233.2 733.2,1234.7 733.6,1238.8 733.9,1240.9 734.3,1243.0 734.7,1245.5 735.1,1247.3 735.4,1249.7 735.8,1251.5 736.2,1254.7 736.6,1256.1 737.0,1258.0 737.3,1259.4 737.7,1261.2 738.1,1263.4 738.5,1264.9 738.8,1266.6 739.2,1268.1 739.6,1268.4 740.0,1269.1 740.3,1271.1 740.7,1273.1 741.1,1273.6 741.5,1275.0 741.9,1276.5 742.2,1276.7 742.6,1278.7 743.0,1279.7 743.4,1281.2 743.7,1281.8 744.1,1281.4 744.5,1283.2 744.9,1283.6 745.2,1284.9 745.6,1286.1 746.0,1286.8 746.4,1287.2 746.8,1288.3 747.1,1288.7 747.5,1290.3 747.9,1290.3 748.3,1291.4 748.6,1291.4 749.0,1291.9 749.4,1291.8 749.8,1292.4 750.1,1292.9 750.5,1294.3 750.9,1295.1 751.3,1294.6 751.7,1296.4 752.0,1296.4 752.4,1297.5 752.8,1296.5 753.2,1297.0 753.5,1297.1 753.9,1298.9 754.3,1298.1 754.7,1298.7 755.0,1299.3 755.4,1299.9 755.8,1299.5 756.2,1300.5 756.6,1299.9 756.9,1300.3 757.3,1301.6 757.7,1301.6 758.1,1302.1 758.4,1301.5 758.8,1301.8 759.2,1302.9 759.6,1303.2 760.0,1303.6 760.3,1303.2 760.7,1303.4 761.1,1303.7 761.5,1304.1 761.8,1304.0 762.2,1305.4 762.6,1304.7 763.0,1304.5 763.3,1304.6 763.7,1304.7 764.1,1305.9 764.5,1304.8 764.9,1304.9 765.2,1305.7 765.6,1305.4 766.0,1306.8 766.4,1306.9 766.7,1307.0 767.1,1306.5 767.5,1306.0 767.9,1307.1 768.2,1306.2 768.6,1306.5 769.0,1308.1 769.4,1308.2 769.8,1306.5 770.1,1307.5 770.5,1307.1 770.9,1307.1 771.3,1308.2 771.6,1308.8 772.0,1307.3 772.4,1307.3 772.8,1308.4 773.1,1308.0 773.5,1309.3 773.9,1307.6 774.3,1308.3 774.7,1307.7 775.0,1308.3 775.4,1309.0 775.8,1309.4 776.2,1308.8 776.5,1308.2 776.9,1308.9 777.3,1309.0 777.7,1309.6 778.0,1309.8 778.4,1309.7 778.8,1309.7 779.2,1309.4 779.6,1308.6 779.9,1309.9 780.3,1310.0 780.7,1309.1 781.1,1308.8 781.4,1310.1 781.8,1310.1 782.2,1309.9 782.6,1310.6 782.9,1310.6 783.3,1309.8 783.7,1310.4 784.1,1310.4 784.5,1309.4 784.8,1310.0 785.2,1309.9 785.6,1309.8 786.0,1309.7 786.3,1309.4 786.7,1309.3 787.1,1311.0 787.5,1309.8 787.8,1311.2 788.2,1311.0 788.6,1310.8 789.0,1311.1 789.4,1311.1 789.7,1310.9 790.1,1309.9 790.5,1310.0 790.9,1310.5 791.2,1310.5 791.6,1310.1 792.0,1310.4 792.4,1311.4 792.8,1310.7 793.1,1311.2 793.5,1310.8 793.9,1309.8 794.3,1311.3 794.6,1311.1 795.0,1310.6 795.4,1310.5 795.8,1311.2 796.1,1311.1 796.5,1310.9 796.9,1310.1 797.3,1311.8 797.7,1310.2 798.0,1310.9 798.4,1310.2 798.8,1311.2 799.2,1310.7 799.5,1311.9 799.9,1311.6 800.3,1310.8 800.7,1311.4 801.0,1311.1 801.4,1310.2 801.8,1311.0 802.2,1310.9 802.6,1311.1 802.9,1311.7 803.3,1310.3 803.7,1311.5 804.1,1312.2 804.4,1311.4 804.8,1311.5 805.2,1311.9 805.6,1311.5 805.9,1312.2 806.3,1310.5 806.7,1311.3 807.1,1311.8 807.5,1311.3 807.8,1311.3 808.2,1311.7 808.6,1310.9 809.0,1311.6 809.3,1310.7 809.7,1311.0 810.1,1311.2 810.5,1312.2 810.8,1311.2 811.2,1310.7 811.6,1311.0" marker-start="url(#mtd)" marker-mid="url(#mtd)" marker-end="url(#mtd)"/>
<polyline fill="none" stroke="#ff0000" stroke-width="1.5" points="133.0,1329.8 133.4,1329.4 133.8,1329.9 134.1,1328.6 134.5,1328.2 134.9,1328.6 135.3,1328.6 135.6,1328.9 136.0,1328.5 136.4,1328.9 136.8,1328.4 137.1,1329.6 137.5,1329.0 137.9,1328.7 138.3,1329.8 138.7,1328.8 139.0,1328.2 139.4,1329.7 139.8,1328.5 140.2,1328.5 140.5,1328.2 140.9,1328.1 141.3,1328.7 141.7,1328.8 142.0,1329.0 142.4,1329.1 142.8,1328.8 143.2,1329.3 143.6,1328.4 143.9,1328.9 144.3,1329.1 144.7,1328.9 145.1,1328.6 145.4,1328.3 145.8,1328.4 146.2,1328.6 146.6,1329.4 146.9,1329.9 147.3,1329.7 147.7,1329.7 148.1,1328.9 148.5,1329.8 148.8,1329.0 149.2,1328.5 149.6,1329.1 150.0,1328.3 150.3,1329.2 150.7,1329.0 151.1,1329.4 151.5,1329.6 151.8,1328.8 152.2,1329.7 152.6,1329.6 153.0,1329.3 153.4,1328.5 153.7,1328.1 154.1,1329.5 154.5,1329.4 154.9,1328.1 155.2,1328.8 155.6,1328.4 156.0,1328.0 156.4,1328.7 156.8,1329.4 157.1,1328.0 157.5,1328.2 157.9,1329.9 158.3,1328.1 158.6,1328.7 159.0,1329.5 159.4,1329.0 159.8,1329.3 160.1,1328.4 160.5,1329.1 160.9,1329.7 161.3,1328.2 161.7,1329.3 162.0,1329.6 162.4,1328.6 162.8,1329.7 163.2,1328.8 163.5,1329.1 163.9,1329.7 164.3,1328.1 164.7,1328.6 165.0,1329.8 165.4,1328.2 165.8,1328.7 166.2,1328.3 166.6,1328.4 166.9,1329.6 167.3,1329.3 167.7,1329.6 168.1,1328.4 168.4,1328.1 168.8,1328.8 169.2,1328.6 169.6,1328.1 169.9,1328.9 170.3,1329.1 170.7,1329.4 171.1,1328.0 171.5,1329.7 171.8,1329.5 172.2,1328.3 172.6,1329.8 173.0,1329.5 173.3,1328.9 173.7,1329.5 174.1,1329.2 174.5,1329.8 174.8,1328.6 175.2,1329.8 175.6,1329.4 176.0,1329.7 176.4,1328.6 176.7,1329.5 177.1,1328.9 177.5,1329.8 177.9,1328.8 178.2,1329.3 178.6,1328.2 179.0,1329.5 179.4,1329.3 179.7,1328.3 180.1,1329.8 180.5,1329.0 180.9,1329.0 181.3,1329.3 181.6,1329.6 182.0,1329.0 182.4,1329.8 182.8,1329.9 183.1,1329.4 183.5,1329.2 183.9,1329.4 184.3,1328.6 184.6,1329.1 185.0,1328.8 185.4,1328.8 185.8,1328.6 186.2,1328.1 186.5,1328.8 186.9,1328.6 187.3,1328.8 187.7,1329.8 188.0,1328.3 188.4,1328.9 188.8,1329.8 189.2,1328.5 189.6,1329.0 189.9,1328.1 190.3,1329.1 190.7,1329.0 191.1,1328.2 191.4,1328.1 191.8,1328.4 192.2,1329.1 192.6,1329.1 192.9,1264.2 193.3,1261.6 193.7,1267.1 194.1,1263.6 194.5,1262.7 194.8,1266.8 195.2,1260.0 195.6,1265.1 196.0,1263.1 196.3,1255.9 196.7,1262.4 197.1,1262.2 197.5,1257.3 197.8,1267.6 198.2,1265.9 198.6,1261.7 199.0,1258.1 199.4,1266.6 199.7,1261.4 200.1,1260.6 200.5,1264.5 200.9,1261.0 201.2,1259.5 201.6,1260.4 202.0,1263.7 202.4,1265.0 202.7,1263.3 203.1,1267.5 203.5,1267.4 203.9,1256.1 204.3,1265.7 204.6,1263.0 205.0,1287.0 205.4,1301.1 205.8,1311.7 206.1,1316.3 206.5,1320.9 206.9,1321.9 207.3,1324.7 207.6,1324.9 208.0,1325.1 208.4,1325.2 208.8,1326.0 209.2,1326.3 209.5,1327.5 209.9,1327.0 210.3,1327.4 210.7,1327.6 211.0,1327.6 211.4,1328.0 211.8,1328.2 212.2,1327.6 212.5,1327.9 212.9,1327.3 213.3,1327.5 213.7,1327.8 214.1,1329.1 214.4,1328.5 214.8,1328.5 215.2,1328.0 215.6,1327.8 215.9,1329.2 216.3,1329.6 216.7,1328.0 217.1,1327.8 217.4,1329.0 217.8,1328.6 218.2,1329.0 218.6,1329.0 219.0,1328.5 219.3,1328.5 219.7,1328.1 220.1,1329.1 220.5,1328.9 220.8,1329.0 221.2,1328.0 221.6,1328.8 222.0,1328.1 222.3,1328.0 222.7,1329.8 223.1,1328.4 223.5,1329.6 223.9,1328.9 224.2,1328.7 224.6,1329.7 225.0,1328.8 225.4,1328.6 225.7,1329.2 226.1,1328.9 226.5,1329.1 226.9,1329.6 227.2,1329.4 227.6,1328.1 228.0,1328.7 228.4,1328.9 228.8,1328.4 229.1,1328.3 229.5,1328.5 229.9,1329.1 230.3,1328.9 230.6,1329.3 231.0,1329.8 231.4,1328.2 231.8,1329.7 232.2,1329.2 232.5,1328.3 232.9,1329.3 233.3,1328.2 233.7,1329.9 234.0,1329.6 234.4,1329.1 234.8,1328.7 235.2,1328.4 235.5,1328.2 235.9,1328.4 236.3,1329.5 236.7,1328.0 237.1,1329.8 237.4,1329.0 237.8,1329.2 238.2,1329.8 238.6,1329.5 238.9,1328.0 239.3,1328.1 239.7,1329.2 240.1,1328.0 240.4,1328.5 240.8,1329.8 241.2,1328.8 241.6,1329.5 242.0,1329.4 242.3,1328.5 242.7,1329.5 243.1,1329.2 243.5,1329.9 243.8,1329.3 244.2,1329.3 244.6,1329.7 245.0,1329.7 245.3,1329.1 245.7,1329.7 246.1,1328.1 246.5,1329.4 246.9,1329.2 247.2,1329.8 247.6,1328.4 248.0,1329.5 248.4,1329.8 248.7,1329.2 249.1,1328.2 249.5,1328.2 249.9,1329.0 250.2,1328.8 250.6,1329.8 251.0,1328.2 251.4,1328.5 251.8,1329.4 252.1,1328.3 252.5,1329.6 252.9,1329.0 253.3,1329.4 253.6,1328.8 254.0,1329.4 254.4,1328.9 254.8,1329.4 255.1,1329.9 255.5,1329.7 255.9,1328.4 256.3,1329.1 256.7,1328.9 257.0,1328.7 257.4,1329.4 257.8,1329.5 258.2,1329.1 258.5,1328.5 258.9,1328.5 259.3,1329.0 259.7,1328.8 260.0,1329.4 260.4,1328.1 260.8,1328.7 261.2,1328.4 261.6,1329.2 261.9,1328.8 262.3,1328.6 262.7,1328.9 263.1,1328.5 263.4,1329.4 263.8,1328.4 264.2,1329.3 264.6,1328.9 264.9,1329.6 265.3,1329.1 265.7,1328.2 266.1,1329.8 266.5,1329.5 266.8,1328.9 267.2,1328.7 267.6,1328.6 268.0,1328.6 268.3,1328.5 268.7,1328.8 269.1,1329.6 269.5,1328.9 269.9,1329.4 270.2,1329.9 270.6,1328.9 271.0,1328.1 271.4,1329.0 271.7,1328.5 272.1,1328.7 272.5,1329.8 272.9,1328.9 273.2,1328.0 273.6,1328.7 274.0,1329.3 274.4,1328.2 274.8,1328.6 275.1,1328.1 275.5,1328.3 275.9,1328.8 276.3,1329.0 276.6,1328.9 277.0,1329.3 277.4,1328.3 277.8,1329.7 278.1,1328.0 278.5,1329.3 278.9,1329.1 279.3,1328.8 279.7,1329.3 280.0,1328.8 280.4,1329.8 280.8,1328.3 281.2,1329.7 281.5,1328.3 281.9,1328.3 282.3,1328.4 282.7,1328.5 283.0,1329.5 283.4,1328.8 283.8,1329.8 284.2,1328.5 284.6,1328.4 284.9,1256.3 285.3,1235.3 285.7,1231.0 286.1,1233.2 286.4,1235.5 286.8,1231.4 287.2,1232.4 287.6,1238.9 287.9,1232.5 288.3,1233.2 288.7,1226.3 289.1,1232.5 289.5,1226.0 289.8,1232.6 290.2,1233.0 290.6,1232.6 291.0,1230.2 291.3,1235.4 291.7,1227.2 292.1,1229.2 292.5,1222.1 292.8,1229.8 293.2,1226.0 293.6,1226.0 294.0,1228.7 294.4,1222.1 294.7,1226.3 295.1,1228.1 295.5,1224.5 295.9,1219.8 296.2,1219.4 296.6,1221.6 297.0,1229.3 297.4,1224.0 297.7,1221.5 298.1,1226.0 298.5,1224.2 298.9,1227.2 299.3,1228.1 299.6,1227.5 300.0,1224.6 300.4,1221.6 300.8,1222.0 301.1,1229.1 301.5,1222.9 301.9,1228.2 302.3,1221.7 302.6,1223.4 303.0,1219.3 303.4,1225.6 303.8,1220.0 304.2,1220.4 304.5,1215.7 304.9,1221.9 305.3,1216.2 305.7,1213.1 306.0,1223.7 306.4,1217.3 306.8,1218.6 307.2,1216.3 307.6,1218.3 307.9,1212.0 308.3,1222.5 308.7,1212.7 309.1,1225.4 309.4,1218.7 309.8,1216.9 310.2,1215.6 310.6,1245.4 310.9,1267.8 311.3,1281.9 311.7,1294.2 312.1,1301.7 312.5,1308.5 312.8,1312.5 313.2,1315.2 313.6,1319.4 314.0,1320.3 314.3,1321.7 314.7,1322.1 315.1,1323.6 315.5,1324.9 315.8,1325.7 316.2,1325.4 316.6,1326.5 317.0,1326.5 317.4,1325.6 317.7,1327.3 318.1,1327.5 318.5,1326.8 318.9,1327.2 319.2,1326.6 319.6,1327.8 320.0,1327.2 320.4,1327.9 320.7,1326.9 321.1,1327.2 321.5,1328.6 321.9,1328.3 322.3,1328.2 322.6,1328.3 323.0,1328.1 323.4,1328.0 323.8,1329.1 324.1,1328.2 324.5,1327.9 324.9,1328.7 325.3,1329.0 325.6,1329.1 326.0,1328.4 326.4,1329.4 326.8,1329.2 327.2,1329.1 327.5,1328.4 327.9,1328.3 328.3,1328.7 328.7,1329.4 329.0,1329.1 329.4,1329.6 329.8,1327.9 330.2,1328.9 330.5,1328.2 330.9,1329.3 331.3,1329.3 331.7,1329.5 332.1,1329.1 332.4,1328.5 332.8,1328.8 333.2,1329.2 333.6,1329.6 333.9,1329.3 334.3,1328.4 334.7,1329.5 335.1,1328.0 335.4,1328.3 335.8,1329.5 336.2,1329.9 336.6,1328.3 337.0,1329.8 337.3,1328.6 337.7,1328.9 338.1,1329.1 338.5,1328.8 338.8,1329.8 339.2,1328.5 339.6,1328.3 340.0,1329.8 340.4,1329.4 340.7,1328.3 341.1,1329.5 341.5,1329.6 341.9,1328.4 342.2,1328.0 342.6,1328.0 343.0,1329.5 343.4,1329.6 343.7,1329.9 344.1,1329.7 344.5,1329.3 344.9,1328.1 345.3,1328.5 345.6,1329.6 346.0,1329.1 346.4,1328.9 346.8,1329.6 347.1,1329.8 347.5,1329.5 347.9,1329.3 348.3,1329.8 348.6,1328.1 349.0,1328.1 349.4,1329.0 349.8,1329.1 350.2,1328.9 350.5,1328.3 350.9,1329.1 351.3,1328.2 351.7,1328.1 352.0,1329.4 352.4,1328.8 352.8,1328.1 353.2,1329.3 353.5,1328.0 353.9,1329.0 354.3,1328.6 354.7,1329.7 355.1,1329.2 355.4,1328.7 355.8,1329.5 356.2,1328.1 356.6,1329.1 356.9,1328.8 357.3,1328.4 357.7,1329.3 358.1,1328.6 358.4,1328.5 358.8,1328.4 359.2,1329.3 359.6,1329.3 360.0,1328.8 360.3,1329.1 360.7,1329.0 361.1,1328.8 361.5,1328.5 361.8,1329.6 362.2,1329.5 362.6,1329.7 363.0,1328.9 363.3,1329.5 363.7,1328.1 364.1,1329.5 364.5,1329.1 364.9,1328.5 365.2,1329.4 365.6,1329.7 366.0,1329.5 366.4,1328.6 366.7,1329.2 367.1,1328.1 367.5,1329.6 367.9,1329.3 368.2,1329.0 368.6,1329.3 369.0,1329.3 369.4,1329.7 369.8,1328.9 370.1,1328.5 370.5,1329.2 370.9,1328.0 371.3,1328.7 371.6,1329.2 372.0,1329.2 372.4,1329.4 372.8,1329.7 373.1,1329.0 373.5,1328.9 373.9,1328.4 374.3,1329.7 374.7,1329.8 375.0,1328.2 375.4,1329.2 375.8,1328.5 376.2,1328.2 376.5,1329.4 376.9,1329.6 377.3,1328.4 377.7,1329.3 378.1,1329.0 378.4,1329.9 378.8,1328.8 379.2,1329.1 379.6,1329.5 379.9,1329.5 380.3,1328.2 380.7,1328.2 381.1,1329.3 381.4,1329.3 381.8,1329.3 382.2,1329.2 382.6,1329.2 383.0,1328.1 383.3,1329.9 383.7,1329.2 384.1,1328.9 384.5,1328.7 384.8,1329.3 385.2,1328.5 385.6,1329.1 386.0,1329.6 386.3,1328.2 386.7,1329.5 387.1,1328.6 387.5,1328.1 387.9,1329.6 388.2,1328.5 388.6,1328.4 389.0,1329.2 389.4,1328.2 389.7,1329.6 390.1,1328.9 390.5,1328.1 390.9,1328.9 391.2,1328.2 391.6,1329.1 392.0,1328.7 392.4,1329.0 392.8,1328.6 393.1,1328.5 393.5,1328.5 393.9,1328.5 394.3,1234.1 394.6,1215.9 395.0,1211.6 395.4,1212.7 395.8,1207.0 396.1,1204.8 396.5,1214.2 396.9,1202.0 397.3,1212.3 397.7,1208.1 398.0,1211.2 398.4,1211.3 398.8,1210.6 399.2,1212.9 399.5,1215.5 399.9,1212.0 400.3,1213.4 400.7,1214.1 401.0,1212.9 401.4,1202.4 401.8,1215.3 402.2,1208.0 402.6,1202.9 402.9,1209.7 403.3,1206.2 403.7,1204.2 404.1,1209.8 404.4,1212.3 404.8,1209.4 405.2,1212.6 405.6,1207.1 405.9,1200.8 406.3,1205.5 406.7,1208.2 407.1,1202.1 407.5,1202.3 407.8,1207.8 408.2,1205.1 408.6,1203.7 409.0,1205.6 409.3,1205.5 409.7,1207.6 410.1,1201.7 410.5,1201.9 410.8,1204.8 411.2,1200.1 411.6,1205.0 412.0,1204.1 412.4,1209.2 412.7,1211.4 413.1,1200.3 413.5,1208.1 413.9,1204.2 414.2,1200.9 414.6,1206.5 415.0,1206.9 415.4,1202.6 415.8,1199.9 416.1,1199.4 416.5,1196.8 416.9,1205.5 417.3,1204.0 417.6,1204.0 418.0,1206.5 418.4,1199.9 418.8,1195.5 419.1,1197.3 419.5,1206.0 419.9,1206.1 420.3,1204.4 420.7,1195.7 421.0,1200.6 421.4,1201.5 421.8,1206.9 422.2,1201.3 422.5,1201.0 422.9,1201.1 423.3,1195.9 423.7,1198.3 424.0,1201.6 424.4,1200.8 424.8,1198.2 425.2,1193.2 425.6,1198.2 425.9,1199.5 426.3,1194.9 426.7,1202.1 427.1,1195.2 427.4,1201.4 427.8,1192.2 428.2,1199.3 428.6,1198.2 428.9,1198.3 429.3,1197.6 429.7,1196.3 430.1,1199.9 430.5,1194.9 430.8,1197.8 431.2,1232.3 431.6,1257.5 432.0,1274.4 432.3,1287.2 432.7,1297.8 433.1,1304.9 433.5,1309.6 433.8,1313.7 434.2,1315.6 434.6,1318.8 435.0,1320.4 435.4,1321.4 435.7,1321.5 436.1,1322.6 436.5,1324.4 436.9,1324.9 437.2,1325.5 437.6,1324.7 438.0,1325.1 438.4,1326.3 438.7,1326.3 439.1,1325.5 439.5,1327.2 439.9,1326.1 440.3,1326.1 440.6,1326.6 441.0,1327.4 441.4,1326.7 441.8,1326.5 442.1,1327.3 442.5,1327.3 442.9,1327.4 443.3,1326.9 443.6,1326.9 444.0,1327.6 444.4,1328.0 444.8,1328.7 445.2,1328.1 445.5,1328.3 445.9,1327.9 446.3,1328.3 446.7,1328.8 447.0,1328.9 447.4,1327.9 447.8,1328.3 448.2,1328.0 448.5,1329.1 448.9,1328.6 449.3,1329.3 449.7,1329.2 450.1,1328.9 450.4,1329.1 450.8,1327.8 451.2,1329.4 451.6,1328.7 451.9,1329.5 452.3,1328.0 452.7,1329.5 453.1,1328.1 453.4,1329.1 453.8,1329.1 454.2,1329.6 454.6,1328.6 455.0,1329.6 455.3,1328.5 455.7,1328.8 456.1,1329.3 456.5,1328.6 456.8,1328.5 457.2,1329.7 457.6,1328.1 458.0,1328.2 458.4,1328.3 458.7,1328.1 459.1,1329.2 459.5,1329.6 459.9,1329.0 460.2,1328.1 460.6,1328.6 461.0,1329.6 461.4,1328.4 461.7,1328.3 462.1,1329.0 462.5,1328.6 462.9,1328.2 463.3,1329.1 463.6,1328.4 464.0,1328.8 464.4,1328.4 464.8,1328.3 465.1,1329.6 465.5,1329.5 465.9,1328.8 466.3,1329.2 466.6,1329.3 467.0,1329.9 467.4,1329.0 467.8,1328.0 468.2,1329.1 468.5,1329.5 468.9,1329.2 469.3,1328.8 469.7,1329.8 470.0,1329.6 470.4,1328.9 470.8,1329.2 471.2,1328.6 471.5,1329.6 471.9,1329.8 472.3,1328.2 472.7,1328.5 473.1,1328.7 473.4,1328.8 473.8,1329.5 474.2,1329.6 474.6,1329.1 474.9,1328.6 475.3,1329.0 475.7,1329.0 476.1,1329.7 476.4,1328.1 476.8,1329.4 477.2,1329.2 477.6,1328.4 478.0,1328.1 478.3,1329.2 478.7,1329.0 479.1,1328.3 479.5,1329.0 479.8,1329.7 480.2,1329.5 480.6,1329.3 481.0,1329.9 481.3,1329.8 481.7,1328.2 482.1,1328.3 482.5,1328.3 482.9,1329.3 483.2,1329.2 483.6,1328.1 484.0,1329.8 484.4,1329.1 484.7,1329.2 485.1,1328.5 485.5,1328.6 485.9,1328.0 486.2,1328.1 486.6,1328.8 487.0,1328.2 487.4,1328.8 487.8,1329.5 488.1,1328.9 488.5,1329.4 488.9,1328.2 489.3,1328.4 489.6,1329.7 490.0,1328.7 490.4,1328.7 490.8,1328.4 491.1,1329.6 491.5,1328.8 491.9,1329.7 492.3,1329.1 492.7,1329.2 493.0,1329.2 493.4,1329.1 493.8,1328.9 494.2,1329.7 494.5,1328.9 494.9,1329.8 495.3,1328.6 495.7,1329.8 496.1,1329.0 496.4,1329.9 496.8,1328.4 497.2,1328.1 497.6,1328.5 497.9,1329.0 498.3,1329.0 498.7,1328.5 499.1,1329.8 499.4,1329.2 499.8,1329.0 500.2,1329.6 500.6,1329.0 501.0,1329.2 501.3,1329.6 501.7,1328.8 502.1,1329.1 502.5,1329.7 502.8,1328.9 503.2,1329.5 503.6,1328.8 504.0,1329.3 504.3,1328.5 504.7,1328.8 505.1,1329.9 505.5,1329.3 505.9,1328.5 506.2,1329.3 506.6,1328.4 507.0,1328.3 507.4,1328.2 507.7,1328.5 508.1,1329.1 508.5,1329.0 508.9,1329.7 509.2,1329.3 509.6,1329.4 510.0,1328.4 510.4,1328.4 510.8,1328.7 511.1,1328.5 511.5,1329.1 511.9,1328.7 512.3,1329.2 512.6,1255.6 513.0,1208.8 513.4,1197.7 513.8,1187.4 514.1,1169.5 514.5,1176.4 514.9,1172.8 515.3,1171.5 515.7,1169.0 516.0,1168.3 516.4,1168.0 516.8,1175.1 517.2,1167.6 517.5,1175.7 517.9,1170.7 518.3,1177.4 518.7,1171.1 519.0,1168.7 519.4,1174.3 519.8,1168.0 520.2,1176.1 520.6,1168.8 520.9,1167.7 521.3,1175.8 521.7,1171.3 522.1,1168.7 522.4,1166.1 522.8,1168.5 523.2,1171.1 523.6,1170.2 523.9,1170.3 524.3,1163.6 524.7,1174.4 525.1,1168.4 525.5,1174.8 525.8,1172.2 526.2,1163.0 526.6,1172.4 527.0,1172.4 527.3,1177.4 527.7,1162.7 528.1,1178.0 528.5,1169.3 528.9,1172.2 529.2,1170.1 529.6,1172.0 530.0,1169.2 530.4,1166.4 530.7,1171.4 531.1,1172.8 531.5,1168.2 531.9,1170.3 532.2,1164.9 532.6,1160.3 533.0,1158.0 533.4,1161.3 533.8,1161.7 534.1,1159.4 534.5,1167.8 534.9,1162.0 535.3,1161.6 535.6,1157.9 536.0,1157.6 536.4,1156.2 536.8,1158.7 537.1,1160.1 537.5,1163.5 537.9,1165.1 538.3,1166.1 538.7,1167.5 539.0,1167.2 539.4,1165.8 539.8,1173.0 540.2,1167.0 540.5,1165.1 540.9,1168.4 541.3,1174.9 541.7,1169.7 542.0,1168.1 542.4,1173.0 542.8,1172.6 543.2,1173.5 543.6,1167.7 543.9,1170.5 544.3,1166.9 544.7,1164.5 545.1,1164.6 545.4,1176.5 545.8,1167.4 546.2,1169.9 546.6,1165.2 546.9,1171.0 547.3,1170.7 547.7,1173.1 548.1,1165.7 548.5,1171.5 548.8,1174.5 549.2,1164.6 549.6,1172.2 550.0,1171.4 550.3,1173.2 550.7,1170.8 551.1,1177.8 551.5,1169.7 551.8,1168.6 552.2,1175.1 552.6,1163.9 553.0,1170.6 553.4,1173.3 553.7,1171.1 554.1,1168.1 554.5,1168.8 554.9,1174.4 555.2,1169.1 555.6,1173.7 556.0,1171.6 556.4,1167.8 556.7,1168.8 557.1,1170.3 557.5,1164.6 557.9,1174.1 558.3,1178.3 558.6,1175.4 559.0,1169.8 559.4,1168.9 559.8,1168.5 560.1,1174.7 560.5,1172.0 560.9,1167.4 561.3,1170.2 561.6,1168.0 562.0,1176.8 562.4,1172.0 562.8,1171.5 563.2,1202.4 563.5,1227.3 563.9,1246.8 564.3,1262.1 564.7,1275.5 565.0,1283.5 565.4,1291.3 565.8,1297.5 566.2,1303.7 566.5,1307.0 566.9,1310.3 567.3,1311.5 567.7,1314.8 568.1,1316.2 568.4,1318.0 568.8,1318.2 569.2,1320.3 569.6,1320.5 569.9,1320.7 570.3,1322.0 570.7,1322.8 571.1,1322.8 571.5,1323.8 571.8,1323.2 572.2,1323.4 572.6,1324.8 573.0,1325.4 573.3,1325.1 573.7,1326.0 574.1,1324.6 574.5,1324.6 574.8,1325.5 575.2,1325.8 575.6,1325.9 576.0,1326.5 576.4,1326.3 576.7,1326.3 577.1,1326.0 577.5,1327.2 577.9,1327.6 578.2,1327.1 578.6,1328.0 579.0,1327.6 579.4,1327.3 579.7,1326.7 580.1,1327.3 580.5,1326.6 580.9,1327.1 581.3,1326.8 581.6,1327.1 582.0,1328.2 582.4,1328.5 582.8,1327.6 583.1,1327.6 583.5,1328.2 583.9,1327.5 584.3,1327.9 584.6,1327.6 585.0,1329.2 585.4,1327.6 585.8,1327.6 586.2,1328.8 586.5,1327.7 586.9,1328.9 587.3,1327.8 587.7,1327.8 588.0,1327.9 588.4,1329.3 588.8,1329.1 589.2,1328.5 589.5,1329.1 589.9,1328.8 590.3,1327.8 590.7,1327.9 591.1,1329.3 591.4,1329.3 591.8,1328.2 592.2,1328.6 592.6,1329.6 592.9,1327.9 593.3,1329.3 593.7,1329.5 594.1,1328.0 594.4,1328.2 594.8,1329.5 595.2,1328.7 595.6,1328.0 596.0,1327.9 596.3,1328.1 596.7,1328.2 597.1,1328.0 597.5,1329.0 597.8,1328.5 598.2,1328.2 598.6,1328.3 599.0,1328.7 599.3,1328.2 599.7,1328.4 600.1,1328.1 600.5,1328.1 600.9,1328.2 601.2,1329.5 601.6,1329.2 602.0,1328.9 602.4,1329.8 602.7,1329.3 603.1,1328.2 603.5,1328.0 603.9,1328.9 604.2,1328.9 604.6,1329.6 605.0,1328.8 605.4,1328.1 605.8,1329.3 606.1,1328.6 606.5,1328.3 606.9,1329.0 607.3,1329.1 607.6,1328.5 608.0,1329.5 608.4,1329.2 608.8,1329.4 609.2,1329.8 609.5,1329.4 609.9,1328.3 610.3,1328.5 610.7,1329.1 611.0,1329.7 611.4,1328.9 611.8,1329.3 612.2,1328.7 612.5,1328.3 612.9,1329.2 613.3,1329.3 613.7,1328.3 614.1,1328.3 614.4,1328.6 614.8,1329.3 615.2,1328.1 615.6,1329.8 615.9,1328.0 616.3,1328.5 616.7,1329.8 617.1,1329.6 617.4,1328.4 617.8,1328.1 618.2,1329.7 618.6,1328.7 619.0,1328.3 619.3,1328.6 619.7,1328.1 620.1,1328.2 620.5,1329.6 620.8,1329.7 621.2,1328.2 621.6,1329.4 622.0,1328.2 622.3,1328.1 622.7,1329.2 623.1,1328.5 623.5,1329.5 623.9,1328.9 624.2,1329.7 624.6,1328.7 625.0,1329.6 625.4,1329.1 625.7,1329.8 626.1,1328.1 626.5,1328.7 626.9,1329.3 627.2,1329.5 627.6,1328.4 628.0,1329.0 628.4,1328.8 628.8,1329.8 629.1,1329.2 629.5,1329.0 629.9,1328.3 630.3,1329.5 630.6,1329.8 631.0,1328.9 631.4,1329.5 631.8,1329.8 632.1,1329.7 632.5,1329.0 632.9,1329.1 633.3,1329.4 633.7,1328.6 634.0,1329.8 634.4,1329.3 634.8,1329.0 635.2,1329.4 635.5,1328.1 635.9,1329.3 636.3,1329.0 636.7,1328.1 637.0,1328.9 637.4,1329.5 637.8,1329.0 638.2,1328.0 638.6,1328.3 638.9,1329.3 639.3,1329.8 639.7,1328.2 640.1,1329.3 640.4,1329.7 640.8,1329.1 641.2,1328.5 641.6,1329.2 642.0,1328.4 642.3,1328.1 642.7,1328.6 643.1,1328.2 643.5,1328.8 643.8,1329.7 644.2,1299.9 644.6,1271.4 645.0,1257.6 645.3,1237.3 645.7,1218.3 646.1,1208.0 646.5,1204.1 646.9,1191.4 647.2,1178.3 647.6,1167.9 648.0,1174.8 648.4,1167.4 648.7,1154.7 649.1,1162.2 649.5,1150.0 649.9,1151.5 650.2,1148.1 650.6,1145.6 651.0,1143.8 651.4,1140.9 651.8,1146.6 652.1,1141.2 652.5,1149.9 652.9,1147.8 653.3,1147.7 653.6,1136.6 654.0,1140.4 654.4,1137.5 654.8,1147.5 655.1,1143.6 655.5,1142.4 655.9,1143.1 656.3,1138.0 656.7,1136.9 657.0,1144.7 657.4,1134.3 657.8,1139.2 658.2,1145.0 658.5,1135.7 658.9,1139.7 659.3,1143.6 659.7,1139.1 660.0,1145.2 660.4,1133.4 660.8,1138.2 661.2,1142.0 661.6,1141.0 661.9,1141.2 662.3,1145.5 662.7,1142.9 663.1,1136.6 663.4,1139.8 663.8,1133.6 664.2,1135.3 664.6,1143.4 664.9,1136.1 665.3,1134.9 665.7,1141.6 666.1,1135.4 666.5,1137.9 666.8,1137.1 667.2,1139.6 667.6,1137.2 668.0,1138.6 668.3,1146.4 668.7,1136.2 669.1,1142.7 669.5,1139.2 669.8,1140.7 670.2,1146.5 670.6,1137.3 671.0,1134.7 671.4,1142.3 671.7,1139.6 672.1,1137.9 672.5,1142.1 672.9,1138.7 673.2,1140.3 673.6,1136.7 674.0,1143.2 674.4,1133.8 674.7,1143.3 675.1,1141.1 675.5,1140.3 675.9,1137.5 676.3,1146.4 676.6,1137.5 677.0,1146.7 677.4,1134.1 677.8,1138.3 678.1,1140.7 678.5,1141.9 678.9,1135.0 679.3,1143.6 679.6,1143.8 680.0,1141.0 680.4,1140.7 680.8,1140.7 681.2,1139.3 681.5,1136.5 681.9,1141.2 682.3,1138.6 682.7,1142.0 683.0,1134.6 683.4,1134.6 683.8,1138.7 684.2,1134.0 684.6,1137.8 684.9,1141.6 685.3,1138.2 685.7,1145.8 686.1,1137.0 686.4,1135.8 686.8,1139.0 687.2,1140.7 687.6,1136.7 687.9,1139.0 688.3,1140.0 688.7,1142.5 689.1,1136.7 689.5,1138.3 689.8,1138.5 690.2,1135.6 690.6,1141.2 691.0,1140.7 691.3,1138.4 691.7,1131.5 692.1,1146.2 692.5,1139.6 692.8,1138.2 693.2,1145.3 693.6,1135.3 694.0,1142.4 694.4,1144.0 694.7,1138.6 695.1,1144.5 695.5,1131.2 695.9,1136.0 696.2,1140.1 696.6,1136.0 697.0,1140.0 697.4,1142.8 697.7,1140.8 698.1,1138.0 698.5,1137.0 698.9,1141.5 699.3,1133.7 699.6,1136.8 700.0,1139.7 700.4,1144.7 700.8,1146.0 701.1,1136.9 701.5,1136.1 701.9,1134.8 702.3,1140.8 702.6,1139.7 703.0,1143.8 703.4,1146.7 703.8,1141.7 704.2,1145.1 704.5,1137.1 704.9,1139.9 705.3,1140.7 705.7,1138.3 706.0,1142.2 706.4,1146.7 706.8,1146.5 707.2,1147.1 707.5,1137.6 707.9,1139.4 708.3,1140.5 708.7,1137.8 709.1,1132.6 709.4,1139.4 709.8,1143.9 710.2,1137.8 710.6,1135.3 710.9,1143.2 711.3,1134.9 711.7,1139.8 712.1,1139.6 712.4,1139.8 712.8,1139.7 713.2,1141.4 713.6,1135.1 714.0,1137.2 714.3,1144.1 714.7,1140.4 715.1,1140.0 715.5,1137.4 715.8,1143.0 716.2,1134.3 716.6,1134.9 717.0,1146.8 717.4,1144.9 717.7,1137.4 718.1,1136.4 718.5,1140.2 718.9,1143.1 719.2,1138.0 719.6,1136.0 720.0,1144.2 720.4,1144.4 720.7,1139.6 721.1,1139.5 721.5,1168.7 721.9,1194.9 722.3,1215.6 722.6,1232.3 723.0,1246.1 723.4,1257.3 723.8,1267.3 724.1,1276.5 724.5,1281.7 724.9,1287.3 725.3,1293.5 725.6,1296.1 726.0,1299.3 726.4,1302.3 726.8,1304.5 727.2,1307.7 727.5,1308.9 727.9,1310.2 728.3,1311.4 728.7,1313.0 729.0,1313.5 729.4,1314.9 729.8,1316.2 730.2,1315.9 730.5,1317.6 730.9,1318.8 731.3,1317.8 731.7,1319.3 732.1,1319.0 732.4,1319.3 732.8,1319.9 733.2,1320.4 733.6,1321.5 733.9,1321.5 734.3,1322.0 734.7,1321.5 735.1,1322.7 735.4,1322.8 735.8,1322.4 736.2,1323.9 736.6,1322.9 737.0,1323.5 737.3,1323.5 737.7,1323.7 738.1,1324.7 738.5,1323.7 738.8,1324.4 739.2,1325.0 739.6,1325.7 740.0,1325.7 740.3,1326.1 740.7,1325.8 741.1,1326.2 741.5,1326.6 741.9,1326.6 742.2,1326.7 742.6,1326.6 743.0,1326.9 743.4,1326.6 743.7,1327.1 744.1,1327.1 744.5,1326.4 744.9,1326.9 745.2,1326.4 745.6,1327.3 746.0,1326.6 746.4,1327.4 746.8,1327.2 747.1,1327.6 747.5,1328.0 747.9,1326.4 748.3,1327.8 748.6,1328.4 749.0,1327.3 749.4,1328.4 749.8,1328.3 750.1,1328.2 750.5,1328.3 750.9,1328.0 751.3,1328.1 751.7,1328.2 752.0,1327.4 752.4,1328.1 752.8,1327.2 753.2,1327.6 753.5,1327.3 753.9,1328.2 754.3,1328.4 754.7,1328.0 755.0,1327.2 755.4,1329.0 755.8,1327.9 756.2,1327.7 756.6,1328.2 756.9,1329.0 757.3,1327.4 757.7,1328.7 758.1,1327.6 758.4,1328.5 758.8,1329.2 759.2,1328.4 759.6,1328.9 760.0,1328.9 760.3,1327.8 760.7,1327.8 761.1,1328.4 761.5,1328.3 761.8,1328.3 762.2,1328.7 762.6,1328.1 763.0,1328.4 763.3,1327.7 763.7,1328.1 764.1,1327.9 764.5,1329.5 764.9,1328.7 765.2,1329.3 765.6,1329.1 766.0,1329.5 766.4,1328.0 766.7,1328.8 767.1,1328.6 767.5,1328.1 767.9,1328.2 768.2,1328.1 768.6,1329.6 769.0,1329.5 769.4,1328.8 769.8,1328.6 770.1,1327.9 770.5,1329.1 770.9,1329.5 771.3,1329.3 771.6,1329.5 772.0,1328.4 772.4,1328.7 772.8,1329.3 773.1,1328.4 773.5,1329.1 773.9,1329.4 774.3,1329.7 774.7,1328.3 775.0,1328.2 775.4,1328.5 775.8,1328.0 776.2,1328.0 776.5,1329.8 776.9,1329.6 777.3,1328.9 777.7,1328.9 778.0,1329.2 778.4,1329.4 778.8,1329.3 779.2,1328.0 779.6,1328.9 779.9,1329.0 780.3,1328.5 780.7,1328.5 781.1,1328.3 781.4,1328.4 781.8,1329.3 782.2,1329.4 782.6,1328.9 782.9,1328.5 783.3,1329.4 783.7,1328.2 784.1,1329.6 784.5,1329.4 784.8,1329.1 785.2,1329.5 785.6,1329.6 786.0,1329.3 786.3,1329.9 786.7,1328.7 787.1,1328.8 787.5,1329.6 787.8,1328.5 788.2,1329.1 788.6,1328.8 789.0,1328.2 789.4,1328.9 789.7,1329.7 790.1,1329.2 790.5,1329.6 790.9,1328.2 791.2,1329.4 791.6,1329.7 792.0,1329.0 792.4,1329.2 792.8,1328.4 793.1,1329.8 793.5,1329.5 793.9,1329.3 794.3,1329.7 794.6,1328.9 795.0,1328.2 795.4,1328.1 795.8,1328.8 796.1,1329.9 796.5,1328.7 796.9,1329.6 797.3,1328.9 797.7,1328.7 798.0,1328.1 798.4,1328.8 798.8,1329.4 799.2,1329.7 799.5,1328.5 799.9,1329.2 800.3,1329.3 800.7,1328.9 801.0,1328.6 801.4,1328.8 801.8,1329.9 802.2,1328.3 802.6,1328.6 802.9,1328.3 803.3,1328.6 803.7,1328.7 804.1,1329.4 804.4,1329.2 804.8,1328.1 805.2,1329.3 805.6,1328.2 805.9,1329.4 806.3,1329.0 806.7,1328.1 807.1,1328.7 807.5,1328.9 807.8,1329.9 808.2,1329.2 808.6,1329.6 809.0,1328.8 809.3,1328.1 809.7,1329.4 810.1,1328.1 810.5,1328.2 810.8,1329.6 811.2,1328.2 811.6,1328.6" marker-start="url(#mci)" marker-mid="url(#mci)" marker-end="url(#mci)"/>
<polyline fill="none" stroke="#000" stroke-width="1.5" points="133.0,1328.0 133.4,1328.1 133.8,1327.2 134.1,1326.7 134.5,1327.8 134.9,1326.9 135.3,1327.1 135.6,1328.1 136.0,1327.0 136.4,1327.8 136.8,1328.0 137.1,1327.5 137.5,1328.3 137.9,1326.7 138.3,1328.3 138.7,1326.5 139.0,1326.5 139.4,1326.7 139.8,1327.2 140.2,1326.5 140.5,1328.2 140.9,1327.6 141.3,1327.4 141.7,1328.0 142.0,1327.0 142.4,1326.8 142.8,1327.5 143.2,1328.2 143.6,1327.7 143.9,1326.7 144.3,1326.5 144.7,1327.6 145.1,1328.3 145.4,1326.7 145.8,1327.0 146.2,1328.3 146.6,1327.4 146.9,1327.6 147.3,1326.5 147.7,1327.3 148.1,1326.6 148.5,1327.5 148.8,1327.7 149.2,1327.3 149.6,1328.2 150.0,1327.6 150.3,1327.7 150.7,1328.0 151.1,1326.8 151.5,1327.2 151.8,1327.0 152.2,1327.2 152.6,1327.9 153.0,1327.8 153.4,1328.0 153.7,1327.1 154.1,1327.8 154.5,1328.1 154.9,1326.8 155.2,1328.1 155.6,1326.5 156.0,1327.7 156.4,1327.1 156.8,1326.5 157.1,1327.9 157.5,1326.7 157.9,1327.7 158.3,1327.3 158.6,1327.5 159.0,1327.3 159.4,1327.0 159.8,1326.9 160.1,1327.6 160.5,1327.0 160.9,1326.7 161.3,1327.4 161.7,1327.4 162.0,1327.5 162.4,1328.0 162.8,1327.2 163.2,1327.8 163.5,1327.6 163.9,1326.6 164.3,1327.8 164.7,1327.7 165.0,1327.1 165.4,1327.2 165.8,1326.7 166.2,1328.1 166.6,1327.8 166.9,1328.0 167.3,1328.1 167.7,1327.6 168.1,1326.9 168.4,1326.8 168.8,1328.0 169.2,1327.0 169.6,1328.0 169.9,1327.5 170.3,1328.1 170.7,1327.9 171.1,1326.8 171.5,1327.0 171.8,1327.4 172.2,1326.7 172.6,1328.1 173.0,1327.8 173.3,1327.1 173.7,1328.1 174.1,1327.5 174.5,1327.5 174.8,1328.0 175.2,1327.8 175.6,1327.8 176.0,1327.3 176.4,1327.7 176.7,1327.3 177.1,1327.7 177.5,1327.0 177.9,1326.7 178.2,1327.2 178.6,1326.8 179.0,1327.5 179.4,1328.2 179.7,1326.6 180.1,1328.0 180.5,1328.2 180.9,1326.9 181.3,1328.2 181.6,1327.4 182.0,1327.5 182.4,1328.2 182.8,1327.5 183.1,1328.1 183.5,1327.0 183.9,1326.7 184.3,1327.5 184.6,1327.3 185.0,1327.6 185.4,1327.2 185.8,1326.5 186.2,1327.9 186.5,1327.2 186.9,1328.3 187.3,1326.6 187.7,1328.2 188.0,1327.5 188.4,1327.6 188.8,1327.3 189.2,1327.9 189.6,1328.0 189.9,1327.3 190.3,1326.8 190.7,1326.5 191.1,1327.6 191.4,1327.9 191.8,1327.7 192.2,1300.5 192.6,1300.1 192.9,1299.4 193.3,1300.4 193.7,1300.3 194.1,1300.4 194.5,1298.4 194.8,1298.7 195.2,1299.6 195.6,1300.0 196.0,1301.1 196.3,1301.0 196.7,1300.7 197.1,1299.1 197.5,1301.1 197.8,1299.3 198.2,1301.0 198.6,1301.1 199.0,1298.8 199.4,1301.3 199.7,1300.0 200.1,1299.6 200.5,1300.2 200.9,1300.0 201.2,1300.5 201.6,1299.5 202.0,1299.6 202.4,1300.9 202.7,1300.5 203.1,1300.9 203.5,1301.2 203.9,1300.0 204.3,1300.2 204.6,1300.4 205.0,1300.8 205.4,1299.8 205.8,1300.6 206.1,1300.6 206.5,1301.3 206.9,1301.4 207.3,1301.2 207.6,1300.4 208.0,1300.4 208.4,1300.4 208.8,1300.9 209.2,1299.4 209.5,1304.3 209.9,1307.4 210.3,1311.1 210.7,1312.8 211.0,1314.1 211.4,1315.8 211.8,1318.1 212.2,1318.4 212.5,1319.5 212.9,1322.1 213.3,1321.5 213.7,1323.3 214.1,1323.2 214.4,1324.0 214.8,1324.9 215.2,1325.3 215.6,1324.2 215.9,1324.6 216.3,1325.8 216.7,1325.2 217.1,1325.6 217.4,1326.4 217.8,1325.7 218.2,1325.7 218.6,1326.8 219.0,1325.8 219.3,1326.9 219.7,1327.3 220.1,1326.1 220.5,1326.3 220.8,1327.4 221.2,1326.9 221.6,1327.6 222.0,1326.5 222.3,1327.8 222.7,1326.1 223.1,1326.3 223.5,1327.4 223.9,1326.4 224.2,1327.3 224.6,1327.0 225.0,1326.4 225.4,1328.1 225.7,1328.2 226.1,1327.6 226.5,1327.2 226.9,1326.8 227.2,1327.8 227.6,1328.1 228.0,1328.2 228.4,1328.2 228.8,1327.9 229.1,1326.5 229.5,1327.5 229.9,1327.8 230.3,1327.9 230.6,1327.4 231.0,1327.8 231.4,1327.9 231.8,1327.4 232.2,1327.5 232.5,1326.5 232.9,1327.5 233.3,1328.2 233.7,1328.2 234.0,1326.9 234.4,1327.3 234.8,1327.2 235.2,1326.5 235.5,1327.7 235.9,1328.0 236.3,1327.5 236.7,1326.5 237.1,1326.6 237.4,1327.2 237.8,1326.9 238.2,1327.7 238.6,1327.5 238.9,1327.9 239.3,1327.2 239.7,1326.8 240.1,1327.3 240.4,1326.7 240.8,1327.9 241.2,1326.8 241.6,1327.0 242.0,1326.7 242.3,1327.3 242.7,1327.7 243.1,1327.6 243.5,1327.0 243.8,1327.8 244.2,1326.5 244.6,1327.0 245.0,1326.4 245.3,1327.5 245.7,1327.4 246.1,1326.9 246.5,1326.5 246.9,1328.1 247.2,1326.7 247.6,1326.6 248.0,1327.6 248.4,1327.6 248.7,1328.1 249.1,1327.1 249.5,1327.5 249.9,1327.6 250.2,1327.9 250.6,1326.7 251.0,1328.3 251.4,1326.6 251.8,1328.1 252.1,1327.5 252.5,1327.8 252.9,1328.2 253.3,1328.2 253.6,1328.1 254.0,1328.3 254.4,1327.9 254.8,1327.7 255.1,1327.3 255.5,1326.6 255.9,1327.4 256.3,1326.7 256.7,1327.6 257.0,1326.7 257.4,1327.9 257.8,1327.6 258.2,1327.9 258.5,1327.6 258.9,1327.4 259.3,1326.5 259.7,1326.9 260.0,1327.6 260.4,1327.8 260.8,1327.0 261.2,1327.1 261.6,1326.5 261.9,1326.6 262.3,1328.2 262.7,1326.6 263.1,1328.2 263.4,1327.7 263.8,1327.8 264.2,1327.9 264.6,1327.6 264.9,1327.9 265.3,1327.4 265.7,1327.8 266.1,1327.3 266.5,1326.5 266.8,1328.2 267.2,1328.1 267.6,1328.0 268.0,1327.9 268.3,1326.5 268.7,1326.8 269.1,1327.4 269.5,1326.5 269.9,1328.2 270.2,1328.3 270.6,1328.0 271.0,1326.8 271.4,1326.8 271.7,1327.7 272.1,1326.6 272.5,1327.6 272.9,1327.2 273.2,1326.9 273.6,1326.9 274.0,1327.3 274.4,1327.7 274.8,1328.0 275.1,1327.5 275.5,1326.5 275.9,1326.5 276.3,1326.7 276.6,1327.0 277.0,1328.3 277.4,1327.4 277.8,1326.5 278.1,1327.4 278.5,1327.1 278.9,1327.2 279.3,1327.3 279.7,1327.1 280.0,1327.4 280.4,1327.5 280.8,1326.5 281.2,1327.6 281.5,1327.2 281.9,1326.5 282.3,1327.8 282.7,1328.1 283.0,1328.3 283.4,1328.1 283.8,1327.9 284.2,1327.4 284.6,1328.3 284.9,1326.6 285.3,1327.3 285.7,1327.1 286.1,1326.5 286.4,1327.8 286.8,1327.5 287.2,1326.5 287.6,1326.6 287.9,1298.9 288.3,1296.7 288.7,1295.4 289.1,1295.2 289.5,1295.6 289.8,1295.8 290.2,1296.2 290.6,1295.8 291.0,1296.7 291.3,1294.8 291.7,1294.9 292.1,1294.3 292.5,1296.4 292.8,1295.6 293.2,1294.8 293.6,1295.7 294.0,1295.3 294.4,1295.0 294.7,1295.5 295.1,1296.0 295.5,1294.8 295.9,1294.7 296.2,1295.8 296.6,1294.9 297.0,1295.5 297.4,1294.5 297.7,1295.1 298.1,1295.8 298.5,1297.0 298.9,1295.7 299.3,1296.6 299.6,1296.2 300.0,1294.8 300.4,1295.2 300.8,1294.5 301.1,1296.2 301.5,1296.3 301.9,1294.1 302.3,1296.2 302.6,1295.8 303.0,1295.0 303.4,1294.3 303.8,1295.0 304.2,1295.4 304.5,1295.4 304.9,1295.4 305.3,1295.3 305.7,1296.4 306.0,1294.6 306.4,1294.8 306.8,1296.8 307.2,1296.0 307.6,1294.6 307.9,1295.0 308.3,1294.7 308.7,1295.1 309.1,1295.9 309.4,1294.7 309.8,1295.5 310.2,1296.2 310.6,1300.2 310.9,1303.5 311.3,1308.2 311.7,1310.6 312.1,1311.7 312.5,1314.9 312.8,1315.6 313.2,1317.5 313.6,1319.8 314.0,1320.8 314.3,1320.7 314.7,1321.7 315.1,1323.2 315.5,1323.3 315.8,1323.5 316.2,1324.0 316.6,1324.0 317.0,1325.2 317.4,1324.5 317.7,1325.3 318.1,1325.6 318.5,1325.0 318.9,1325.9 319.2,1326.2 319.6,1327.2 320.0,1327.3 320.4,1325.8 320.7,1326.6 321.1,1326.9 321.5,1327.4 321.9,1327.5 322.3,1327.1 322.6,1327.0 323.0,1326.7 323.4,1327.7 323.8,1327.6 324.1,1327.3 324.5,1327.9 324.9,1326.9 325.3,1326.5 325.6,1326.4 326.0,1326.9 326.4,1327.7 326.8,1326.4 327.2,1327.0 327.5,1326.6 327.9,1327.8 328.3,1328.1 328.7,1328.0 329.0,1328.2 329.4,1327.2 329.8,1327.3 330.2,1326.6 330.5,1327.0 330.9,1327.3 331.3,1328.2 331.7,1326.6 332.1,1327.4 332.4,1328.2 332.8,1327.1 333.2,1326.6 333.6,1328.2 333.9,1327.0 334.3,1327.2 334.7,1328.3 335.1,1327.8 335.4,1328.1 335.8,1327.4 336.2,1327.4 336.6,1327.7 337.0,1327.0 337.3,1326.7 337.7,1328.3 338.1,1327.6 338.5,1327.9 338.8,1327.3 339.2,1327.6 339.6,1327.0 340.0,1327.6 340.4,1328.0 340.7,1326.9 341.1,1327.8 341.5,1327.6 341.9,1326.8 342.2,1327.6 342.6,1328.0 343.0,1327.5 343.4,1328.1 343.7,1327.3 344.1,1328.3 344.5,1328.0 344.9,1326.8 345.3,1327.2 345.6,1327.5 346.0,1326.6 346.4,1328.1 346.8,1327.8 347.1,1327.8 347.5,1326.9 347.9,1327.6 348.3,1328.3 348.6,1327.7 349.0,1328.2 349.4,1328.1 349.8,1327.6 350.2,1326.6 350.5,1327.7 350.9,1327.2 351.3,1327.4 351.7,1327.4 352.0,1326.8 352.4,1328.0 352.8,1328.1 353.2,1327.9 353.5,1327.7 353.9,1327.8 354.3,1327.9 354.7,1328.0 355.1,1327.2 355.4,1327.6 355.8,1327.1 356.2,1328.0 356.6,1327.7 356.9,1328.0 357.3,1326.8 357.7,1327.8 358.1,1327.8 358.4,1328.1 358.8,1327.3 359.2,1327.8 359.6,1327.0 360.0,1327.6 360.3,1327.2 360.7,1327.3 361.1,1326.6 361.5,1327.9 361.8,1326.7 362.2,1328.0 362.6,1327.3 363.0,1327.0 363.3,1328.3 363.7,1327.7 364.1,1327.6 364.5,1328.0 364.9,1326.9 365.2,1328.1 365.6,1327.5 366.0,1328.0 366.4,1327.0 366.7,1327.0 367.1,1326.8 367.5,1327.3 367.9,1327.2 368.2,1326.6 368.6,1327.5 369.0,1326.5 369.4,1327.8 369.8,1327.5 370.1,1326.7 370.5,1328.2 370.9,1327.5 371.3,1327.0 371.6,1327.2 372.0,1328.3 372.4,1327.6 372.8,1326.8 373.1,1327.5 373.5,1327.7 373.9,1327.9 374.3,1326.9 374.7,1328.2 375.0,1326.9 375.4,1327.8 375.8,1327.4 376.2,1326.8 376.5,1326.8 376.9,1326.9 377.3,1328.0 377.7,1328.1 378.1,1326.7 378.4,1327.3 378.8,1327.8 379.2,1327.6 379.6,1327.6 379.9,1326.7 380.3,1326.9 380.7,1327.5 381.1,1326.9 381.4,1326.8 381.8,1327.8 382.2,1328.0 382.6,1327.4 383.0,1328.2 383.3,1327.0 383.7,1327.7 384.1,1327.5 384.5,1326.7 384.8,1327.9 385.2,1328.1 385.6,1326.7 386.0,1328.3 386.3,1326.6 386.7,1327.2 387.1,1328.2 387.5,1326.9 387.9,1327.8 388.2,1327.7 388.6,1326.6 389.0,1328.2 389.4,1327.7 389.7,1326.6 390.1,1327.4 390.5,1327.2 390.9,1328.3 391.2,1326.5 391.6,1327.1 392.0,1326.7 392.4,1328.1 392.8,1324.5 393.1,1321.1 393.5,1319.4 393.9,1317.5 394.3,1315.6 394.6,1312.9 395.0,1311.4 395.4,1311.1 395.8,1307.9 396.1,1307.7 396.5,1305.4 396.9,1303.6 397.3,1303.8 397.7,1301.4 398.0,1301.5 398.4,1300.9 398.8,1300.4 399.2,1299.8 399.5,1300.1 399.9,1299.1 400.3,1296.9 400.7,1295.6 401.0,1296.3 401.4,1298.0 401.8,1295.6 402.2,1296.1 402.6,1295.8 402.9,1295.3 403.3,1293.8 403.7,1295.4 404.1,1294.2 404.4,1294.1 404.8,1294.4 405.2,1294.0 405.6,1293.6 405.9,1293.9 406.3,1292.7 406.7,1294.0 407.1,1294.2 407.5,1292.2 407.8,1292.8 408.2,1292.4 408.6,1292.4 409.0,1293.5 409.3,1293.2 409.7,1292.1 410.1,1292.5 410.5,1292.0 410.8,1292.1 411.2,1292.6 411.6,1292.4 412.0,1291.4 412.4,1291.6 412.7,1290.6 413.1,1292.5 413.5,1292.1 413.9,1291.2 414.2,1291.2 414.6,1291.3 415.0,1290.9 415.4,1292.2 415.8,1291.5 416.1,1291.6 416.5,1292.3 416.9,1291.2 417.3,1292.8 417.6,1292.0 418.0,1291.5 418.4,1292.1 418.8,1291.5 419.1,1291.7 419.5,1291.4 419.9,1292.1 420.3,1291.0 420.7,1292.6 421.0,1291.3 421.4,1290.3 421.8,1291.2 422.2,1292.0 422.5,1291.0 422.9,1291.8 423.3,1291.7 423.7,1290.5 424.0,1290.3 424.4,1291.9 424.8,1291.0 425.2,1291.6 425.6,1290.7 425.9,1292.1 426.3,1290.7 426.7,1291.4 427.1,1290.9 427.4,1291.1 427.8,1290.7 428.2,1291.8 428.6,1290.8 428.9,1292.0 429.3,1291.5 429.7,1292.4 430.1,1291.1 430.5,1292.0 430.8,1290.4 431.2,1290.3 431.6,1292.1 432.0,1297.4 432.3,1301.7 432.7,1304.3 433.1,1307.2 433.5,1311.3 433.8,1313.1 434.2,1314.3 434.6,1316.4 435.0,1318.3 435.4,1318.6 435.7,1319.9 436.1,1322.2 436.5,1322.0 436.9,1322.8 437.2,1323.2 437.6,1323.8 438.0,1323.8 438.4,1324.2 438.7,1325.8 439.1,1324.5 439.5,1325.6 439.9,1325.2 440.3,1326.4 440.6,1326.3 441.0,1326.3 441.4,1325.4 441.8,1325.6 442.1,1326.1 442.5,1327.0 442.9,1326.8 443.3,1327.3 443.6,1326.2 444.0,1326.6 444.4,1326.4 444.8,1327.1 445.2,1327.9 445.5,1327.3 445.9,1327.5 446.3,1327.3 446.7,1327.4 447.0,1327.4 447.4,1326.5 447.8,1328.0 448.2,1327.5 448.5,1327.1 448.9,1327.6 449.3,1326.9 449.7,1326.8 450.1,1327.5 450.4,1326.9 450.8,1327.6 451.2,1327.4 451.6,1326.7 451.9,1328.0 452.3,1327.2 452.7,1327.3 453.1,1326.8 453.4,1327.8 453.8,1327.0 454.2,1327.2 454.6,1326.6 455.0,1326.6 455.3,1326.7 455.7,1327.3 456.1,1327.8 456.5,1326.7 456.8,1327.5 457.2,1327.7 457.6,1327.7 458.0,1326.6 458.4,1328.0 458.7,1326.7 459.1,1327.0 459.5,1326.9 459.9,1327.1 460.2,1326.7 460.6,1328.2 461.0,1327.3 461.4,1327.0 461.7,1327.8 462.1,1326.6 462.5,1328.1 462.9,1327.5 463.3,1328.0 463.6,1327.1 464.0,1326.8 464.4,1328.0 464.8,1326.7 465.1,1327.5 465.5,1326.7 465.9,1327.3 466.3,1326.9 466.6,1327.7 467.0,1327.6 467.4,1327.6 467.8,1326.6 468.2,1327.8 468.5,1326.9 468.9,1327.0 469.3,1326.6 469.7,1326.7 470.0,1327.2 470.4,1328.3 470.8,1326.5 471.2,1326.7 471.5,1327.1 471.9,1327.7 472.3,1328.3 472.7,1327.2 473.1,1326.6 473.4,1327.9 473.8,1328.1 474.2,1327.8 474.6,1326.7 474.9,1326.7 475.3,1326.5 475.7,1327.1 476.1,1327.2 476.4,1327.3 476.8,1327.3 477.2,1327.4 477.6,1326.7 478.0,1328.1 478.3,1326.8 478.7,1327.4 479.1,1326.9 479.5,1326.7 479.8,1328.0 480.2,1328.2 480.6,1326.8 481.0,1328.3 481.3,1327.2 481.7,1328.1 482.1,1327.6 482.5,1327.1 482.9,1326.7 483.2,1326.9 483.6,1327.6 484.0,1326.7 484.4,1327.1 484.7,1326.8 485.1,1327.2 485.5,1328.3 485.9,1326.7 486.2,1327.4 486.6,1327.3 487.0,1326.9 487.4,1326.5 487.8,1327.5 488.1,1327.3 488.5,1327.3 488.9,1327.6 489.3,1328.1 489.6,1326.8 490.0,1328.0 490.4,1328.1 490.8,1328.3 491.1,1326.9 491.5,1327.4 491.9,1327.0 492.3,1327.2 492.7,1327.0 493.0,1326.8 493.4,1328.3 493.8,1327.8 494.2,1327.8 494.5,1327.6 494.9,1328.2 495.3,1326.6 495.7,1327.7 496.1,1327.1 496.4,1328.2 496.8,1327.2 497.2,1327.1 497.6,1328.3 497.9,1328.2 498.3,1327.5 498.7,1326.9 499.1,1328.1 499.4,1327.4 499.8,1328.3 500.2,1327.3 500.6,1326.5 501.0,1328.0 501.3,1327.4 501.7,1327.5 502.1,1328.2 502.5,1328.1 502.8,1327.1 503.2,1327.6 503.6,1327.2 504.0,1327.8 504.3,1327.7 504.7,1328.0 505.1,1326.9 505.5,1326.6 505.9,1326.6 506.2,1327.8 506.6,1328.1 507.0,1326.5 507.4,1326.5 507.7,1327.6 508.1,1326.9 508.5,1327.1 508.9,1326.5 509.2,1327.0 509.6,1328.2 510.0,1327.5 510.4,1328.3 510.8,1326.8 511.1,1326.9 511.5,1328.1 511.9,1327.5 512.3,1326.8 512.6,1327.7 513.0,1325.7 513.4,1324.3 513.8,1324.4 514.1,1323.2 514.5,1324.4 514.9,1322.5 515.3,1322.9 515.7,1320.9 516.0,1321.6 516.4,1321.6 516.8,1320.6 517.2,1320.6 517.5,1320.0 517.9,1319.5 518.3,1317.4 518.7,1316.9 519.0,1317.6 519.4,1316.5 519.8,1315.9 520.2,1315.7 520.6,1314.9 520.9,1315.2 521.3,1313.9 521.7,1313.2 522.1,1313.7 522.4,1312.6 522.8,1312.0 523.2,1311.5 523.6,1311.4 523.9,1310.7 524.3,1310.9 524.7,1311.4 525.1,1309.8 525.5,1308.5 525.8,1309.4 526.2,1307.4 526.6,1309.2 527.0,1306.3 527.3,1307.3 527.7,1305.9 528.1,1306.2 528.5,1305.9 528.9,1305.6 529.2,1305.4 529.6,1305.6 530.0,1305.2 530.4,1304.5 530.7,1303.9 531.1,1302.7 531.5,1304.1 531.9,1303.3 532.2,1302.2 532.6,1302.2 533.0,1302.0 533.4,1302.3 533.8,1302.8 534.1,1302.3 534.5,1300.7 534.9,1301.0 535.3,1300.4 535.6,1300.3 536.0,1299.3 536.4,1299.9 536.8,1298.0 537.1,1298.9 537.5,1298.5 537.9,1298.2 538.3,1298.5 538.7,1297.9 539.0,1296.6 539.4,1297.3 539.8,1297.2 540.2,1296.6 540.5,1297.1 540.9,1297.3 541.3,1295.7 541.7,1296.3 542.0,1296.4 542.4,1294.6 542.8,1295.7 543.2,1296.0 543.6,1294.4 543.9,1294.7 544.3,1293.0 544.7,1293.3 545.1,1294.2 545.4,1293.0 545.8,1293.9 546.2,1293.6 546.6,1292.5 546.9,1293.8 547.3,1292.3 547.7,1292.5 548.1,1291.1 548.5,1292.3 548.8,1291.7 549.2,1291.5 549.6,1292.7 550.0,1291.9 550.3,1292.0 550.7,1290.8 551.1,1290.5 551.5,1291.2 551.8,1290.9 552.2,1291.4 552.6,1290.7 553.0,1290.3 553.4,1290.2 553.7,1290.8 554.1,1289.6 554.5,1289.9 554.9,1289.4 555.2,1288.9 555.6,1288.2 556.0,1288.8 556.4,1288.9 556.7,1287.9 557.1,1287.6 557.5,1288.3 557.9,1288.8 558.3,1287.1 558.6,1287.4 559.0,1286.9 559.4,1287.5 559.8,1287.0 560.1,1288.4 560.5,1287.5 560.9,1286.9 561.3,1286.4 561.6,1287.3 562.0,1287.1 562.4,1287.4 562.8,1288.1 563.2,1286.8 563.5,1286.2 563.9,1292.2 564.3,1297.0 564.7,1300.9 565.0,1305.8 565.4,1308.4 565.8,1310.9 566.2,1314.0 566.5,1315.0 566.9,1317.2 567.3,1319.0 567.7,1319.9 568.1,1319.7 568.4,1321.7 568.8,1322.0 569.2,1322.5 569.6,1323.9 569.9,1324.6 570.3,1323.5 570.7,1325.6 571.1,1325.2 571.5,1324.5 571.8,1325.5 572.2,1325.3 572.6,1325.9 573.0,1325.9 573.3,1326.9 573.7,1325.8 574.1,1326.9 574.5,1326.1 574.8,1325.7 575.2,1327.4 575.6,1326.2 576.0,1327.6 576.4,1327.5 576.7,1326.7 577.1,1326.3 577.5,1326.7 577.9,1327.6 578.2,1326.4 578.6,1327.6 579.0,1327.2 579.4,1326.2 579.7,1327.3 580.1,1327.6 580.5,1327.6 580.9,1327.7 581.3,1326.5 581.6,1327.6 582.0,1328.1 582.4,1328.1 582.8,1326.8 583.1,1327.1 583.5,1327.3 583.9,1327.8 584.3,1326.9 584.6,1326.5 585.0,1326.4 585.4,1327.8 585.8,1326.9 586.2,1327.5 586.5,1327.3 586.9,1327.8 587.3,1328.1 587.7,1326.8 588.0,1327.8 588.4,1328.3 588.8,1327.9 589.2,1327.8 589.5,1328.1 589.9,1327.2 590.3,1327.8 590.7,1327.5 591.1,1327.2 591.4,1326.6 591.8,1328.0 592.2,1327.7 592.6,1327.6 592.9,1327.3 593.3,1327.2 593.7,1328.2 594.1,1327.0 594.4,1328.1 594.8,1326.6 595.2,1327.4 595.6,1327.6 596.0,1327.5 596.3,1327.4 596.7,1327.4 597.1,1327.3 597.5,1327.8 597.8,1327.3 598.2,1326.9 598.6,1327.4 599.0,1326.9 599.3,1326.9 599.7,1327.6 600.1,1327.2 600.5,1326.9 600.9,1327.7 601.2,1326.9 601.6,1326.7 602.0,1327.5 602.4,1328.2 602.7,1327.8 603.1,1327.1 603.5,1326.7 603.9,1327.1 604.2,1327.0 604.6,1327.2 605.0,1327.6 605.4,1326.9 605.8,1326.8 606.1,1326.5 606.5,1326.7 606.9,1327.2 607.3,1327.2 607.6,1327.6 608.0,1327.0 608.4,1327.0 608.8,1326.5 609.2,1327.5 609.5,1327.6 609.9,1327.4 610.3,1327.4 610.7,1328.2 611.0,1327.0 611.4,1327.6 611.8,1327.1 612.2,1326.9 612.5,1328.2 612.9,1326.6 613.3,1326.6 613.7,1326.6 614.1,1327.8 614.4,1327.1 614.8,1326.9 615.2,1328.2 615.6,1328.1 615.9,1326.6 616.3,1326.8 616.7,1326.6 617.1,1327.2 617.4,1327.4 617.8,1327.2 618.2,1326.6 618.6,1327.7 619.0,1328.0 619.3,1326.7 619.7,1328.3 620.1,1327.0 620.5,1327.7 620.8,1326.8 621.2,1326.7 621.6,1328.1 622.0,1327.5 622.3,1327.3 622.7,1328.2 623.1,1326.8 623.5,1327.4 623.9,1327.6 624.2,1327.6 624.6,1328.0 625.0,1326.7 625.4,1326.5 625.7,1326.7 626.1,1328.1 626.5,1326.7 626.9,1328.1 627.2,1327.7 627.6,1326.9 628.0,1327.1 628.4,1328.1 628.8,1328.1 629.1,1327.2 629.5,1326.6 629.9,1327.3 630.3,1327.7 630.6,1327.9 631.0,1327.1 631.4,1327.3 631.8,1327.2 632.1,1327.4 632.5,1327.3 632.9,1327.0 633.3,1327.7 633.7,1327.6 634.0,1327.3 634.4,1327.5 634.8,1327.1 635.2,1327.6 635.5,1327.4 635.9,1327.4 636.3,1326.5 636.7,1328.0 637.0,1327.6 637.4,1326.8 637.8,1326.8 638.2,1328.3 638.6,1327.3 638.9,1327.0 639.3,1328.3 639.7,1326.8 640.1,1327.8 640.4,1326.7 640.8,1326.5 641.2,1327.3 641.6,1327.1 642.0,1327.2 642.3,1327.0 642.7,1327.9 643.1,1326.7 643.5,1327.5 643.8,1326.7 644.2,1327.0 644.6,1327.6 645.0,1326.7 645.3,1327.9 645.7,1326.9 646.1,1325.2 646.5,1325.7 646.9,1324.4 647.2,1322.9 647.6,1325.0 648.0,1323.2 648.4,1323.2 648.7,1323.0 649.1,1323.1 649.5,1322.0 649.9,1322.5 650.2,1320.9 650.6,1320.7 651.0,1319.0 651.4,1319.4 651.8,1318.1 652.1,1319.4 652.5,1317.7 652.9,1317.9 653.3,1316.5 653.6,1316.8 654.0,1317.3 654.4,1315.5 654.8,1316.2 655.1,1314.7 655.5,1316.0 655.9,1314.3 656.3,1312.3 656.7,1313.4 657.0,1312.5 657.4,1311.5 657.8,1312.5 658.2,1311.9 658.5,1312.0 658.9,1311.7 659.3,1310.3 659.7,1310.3 660.0,1309.8 660.4,1310.7 660.8,1309.1 661.2,1308.0 661.6,1308.8 661.9,1308.8 662.3,1308.6 662.7,1307.8 663.1,1307.6 663.4,1306.3 663.8,1306.2 664.2,1306.7 664.6,1307.4 664.9,1306.1 665.3,1304.9 665.7,1305.0 666.1,1304.1 666.5,1304.5 666.8,1303.9 667.2,1304.1 667.6,1303.7 668.0,1304.4 668.3,1303.2 668.7,1303.7 669.1,1302.9 669.5,1302.7 669.8,1300.6 670.2,1302.4 670.6,1302.0 671.0,1301.0 671.4,1301.0 671.7,1300.9 672.1,1299.4 672.5,1298.7 672.9,1299.4 673.2,1298.6 673.6,1297.9 674.0,1298.2 674.4,1298.0 674.7,1298.1 675.1,1299.0 675.5,1298.4 675.9,1297.4 676.3,1297.7 676.6,1296.3 677.0,1296.3 677.4,1296.2 677.8,1295.7 678.1,1294.9 678.5,1295.6 678.9,1295.4 679.3,1295.4 679.6,1295.3 680.0,1294.6 680.4,1294.2 680.8,1292.7 681.2,1294.3 681.5,1292.8 681.9,1293.2 682.3,1292.5 682.7,1292.9 683.0,1292.9 683.4,1291.7 683.8,1292.1 684.2,1292.6 684.6,1291.4 684.9,1292.3 685.3,1292.2 685.7,1291.3 686.1,1291.3 686.4,1291.3 686.8,1290.3 687.2,1291.1 687.6,1290.0 687.9,1290.2 688.3,1289.9 688.7,1290.1 689.1,1289.3 689.5,1289.0 689.8,1289.9 690.2,1288.2 690.6,1288.3 691.0,1287.1 691.3,1289.1 691.7,1288.1 692.1,1287.0 692.5,1286.2 692.8,1286.9 693.2,1287.2 693.6,1287.7 694.0,1287.5 694.4,1285.9 694.7,1287.5 695.1,1285.2 695.5,1285.9 695.9,1287.2 696.2,1284.7 696.6,1286.8 697.0,1285.4 697.4,1286.2 697.7,1285.6 698.1,1285.6 698.5,1285.0 698.9,1284.4 699.3,1285.7 699.6,1284.1 700.0,1283.8 700.4,1283.9 700.8,1284.1 701.1,1283.4 701.5,1283.8 701.9,1283.6 702.3,1283.6 702.6,1282.1 703.0,1283.1 703.4,1283.7 703.8,1282.4 704.2,1282.0 704.5,1282.1 704.9,1281.8 705.3,1282.8 705.7,1281.6 706.0,1281.8 706.4,1283.2 706.8,1280.8 707.2,1281.4 707.5,1281.9 707.9,1280.9 708.3,1280.7 708.7,1280.2 709.1,1282.2 709.4,1280.8 709.8,1281.9 710.2,1281.3 710.6,1280.5 710.9,1279.1 711.3,1279.7 711.7,1279.2 712.1,1279.7 712.4,1280.5 712.8,1280.3 713.2,1280.0 713.6,1280.3 714.0,1278.1 714.3,1279.5 714.7,1279.1 715.1,1278.0 715.5,1277.5 715.8,1277.7 716.2,1278.7 716.6,1278.4 717.0,1277.5 717.4,1277.4 717.7,1276.7 718.1,1278.2 718.5,1278.8 718.9,1276.8 719.2,1277.3 719.6,1276.9 720.0,1276.5 720.4,1277.7 720.7,1277.0 721.1,1276.7 721.5,1282.3 721.9,1288.1 722.3,1291.8 722.6,1296.4 723.0,1299.7 723.4,1301.8 723.8,1304.4 724.1,1307.9 724.5,1308.9 724.9,1311.2 725.3,1313.1 725.6,1314.8 726.0,1315.6 726.4,1316.9 726.8,1318.8 727.2,1318.2 727.5,1319.2 727.9,1320.3 728.3,1321.1 728.7,1321.2 729.0,1322.2 729.4,1322.5 729.8,1323.4 730.2,1324.3 730.5,1323.1 730.9,1323.4 731.3,1324.1 731.7,1324.4 732.1,1325.8 732.4,1324.7 732.8,1324.8 733.2,1325.9 733.6,1326.0 733.9,1326.7 734.3,1325.9 734.7,1325.3 735.1,1325.5 735.4,1326.3 735.8,1325.5 736.2,1326.2 736.6,1327.1 737.0,1326.7 737.3,1326.0 737.7,1326.4 738.1,1327.3 738.5,1327.3 738.8,1326.4 739.2,1326.8 739.6,1327.4 740.0,1327.4 740.3,1327.6 740.7,1326.3 741.1,1326.4 741.5,1326.4 741.9,1326.6 742.2,1327.9 742.6,1327.9 743.0,1326.7 743.4,1326.8 743.7,1326.5 744.1,1326.6 744.5,1327.3 744.9,1326.9 745.2,1326.3 745.6,1328.0 746.0,1327.0 746.4,1327.1 746.8,1327.2 747.1,1326.9 747.5,1327.4 747.9,1327.9 748.3,1326.8 748.6,1326.4 749.0,1327.3 749.4,1326.6 749.8,1326.6 750.1,1327.2 750.5,1326.6 750.9,1327.6 751.3,1327.5 751.7,1327.3 752.0,1327.4 752.4,1328.0 752.8,1328.1 753.2,1327.1 753.5,1327.9 753.9,1327.3 754.3,1327.6 754.7,1327.5 755.0,1327.6 755.4,1326.5 755.8,1328.2 756.2,1328.1 756.6,1328.3 756.9,1328.0 757.3,1327.1 757.7,1327.5 758.1,1326.6 758.4,1327.9 758.8,1327.6 759.2,1326.5 759.6,1327.4 760.0,1327.6 760.3,1327.2 760.7,1326.5 761.1,1326.7 761.5,1327.5 761.8,1326.7 762.2,1326.5 762.6,1327.7 763.0,1327.7 763.3,1326.6 763.7,1327.5 764.1,1328.2 764.5,1327.7 764.9,1327.0 765.2,1327.9 765.6,1327.3 766.0,1328.1 766.4,1327.5 766.7,1327.1 767.1,1328.2 767.5,1327.2 767.9,1327.9 768.2,1327.5 768.6,1327.0 769.0,1328.3 769.4,1327.5 769.8,1327.3 770.1,1326.5 770.5,1327.3 770.9,1326.7 771.3,1326.7 771.6,1326.7 772.0,1327.3 772.4,1328.0 772.8,1327.8 773.1,1328.2 773.5,1328.2 773.9,1327.5 774.3,1327.0 774.7,1327.0 775.0,1326.9 775.4,1327.9 775.8,1328.1 776.2,1328.3 776.5,1327.4 776.9,1327.8 777.3,1326.9 777.7,1326.9 778.0,1327.7 778.4,1327.8 778.8,1327.4 779.2,1326.7 779.6,1326.7 779.9,1326.9 780.3,1327.0 780.7,1327.1 781.1,1328.3 781.4,1327.0 781.8,1328.3 782.2,1328.3 782.6,1327.9 782.9,1327.8 783.3,1326.9 783.7,1327.0 784.1,1327.9 784.5,1326.5 784.8,1328.3 785.2,1327.3 785.6,1326.8 786.0,1328.1 786.3,1327.1 786.7,1327.8 787.1,1327.3 787.5,1328.3 787.8,1326.9 788.2,1327.2 788.6,1327.5 789.0,1328.0 789.4,1328.1 789.7,1327.6 790.1,1327.6 790.5,1327.7 790.9,1327.9 791.2,1327.5 791.6,1327.7 792.0,1327.1 792.4,1327.6 792.8,1328.3 793.1,1328.1 793.5,1328.3 793.9,1327.6 794.3,1327.5 794.6,1327.8 795.0,1327.3 795.4,1327.0 795.8,1327.5 796.1,1327.2 796.5,1326.6 796.9,1328.3 797.3,1327.8 797.7,1328.1 798.0,1327.3 798.4,1326.8 798.8,1327.2 799.2,1326.9 799.5,1327.6 799.9,1326.6 800.3,1327.0 800.7,1326.7 801.0,1328.1 801.4,1327.9 801.8,1327.0 802.2,1327.9 802.6,1327.0 802.9,1327.3 803.3,1326.5 803.7,1327.4 804.1,1327.3 804.4,1327.7 804.8,1326.7 805.2,1328.0 805.6,1328.1 805.9,1326.5 806.3,1326.5 806.7,1327.7 807.1,1328.0 807.5,1327.6 807.8,1327.9 808.2,1327.5 808.6,1327.1 809.0,1327.5 809.3,1327.3 809.7,1327.6 810.1,1327.0 810.5,1327.6 810.8,1327.8 811.2,1327.5 811.6,1327.4" marker-start="url(#msq)" marker-mid="url(#msq)" marker-end="url(#msq)"/>
</g>
<line x1="130.3" y1="723.6" x2="814" y2="723.6" stroke="#000" stroke-width="5" stroke-linecap="butt"/>
<line x1="130.3" y1="1321" x2="814" y2="1321" stroke="#000" stroke-width="5" stroke-linecap="butt"/>
<line x1="132.8" y1="723.6" x2="132.8" y2="1321" stroke="#000" stroke-width="5" stroke-linecap="butt"/>
<line x1="811.5" y1="723.6" x2="811.5" y2="1321" stroke="#000" stroke-width="5" stroke-linecap="butt"/>
<line x1="119.8" y1="1288.2" x2="132.8" y2="1288.2" stroke="#000" stroke-width="5" stroke-linecap="butt"/>
<line x1="119.8" y1="1225.5" x2="132.8" y2="1225.5" stroke="#000" stroke-width="5" stroke-linecap="butt"/>
<line x1="119.8" y1="1162.8" x2="132.8" y2="1162.8" stroke="#000" stroke-width="5" stroke-linecap="butt"/>
<line x1="119.8" y1="1100.1" x2="132.8" y2="1100.1" stroke="#000" stroke-width="5" stroke-linecap="butt"/>
<line x1="119.8" y1="1037.4" x2="132.8" y2="1037.4" stroke="#000" stroke-width="5" stroke-linecap="butt"/>
<line x1="119.8" y1="974.7" x2="132.8" y2="974.7" stroke="#000" stroke-width="5" stroke-linecap="butt"/>
<line x1="119.8" y1="912" x2="132.8" y2="912" stroke="#000" stroke-width="5" stroke-linecap="butt"/>
<line x1="119.8" y1="849.3" x2="132.8" y2="849.3" stroke="#000" stroke-width="5" stroke-linecap="butt"/>
<line x1="119.8" y1="786.6" x2="132.8" y2="786.6" stroke="#000" stroke-width="5" stroke-linecap="butt"/>
<line x1="119.8" y1="723.9" x2="132.8" y2="723.9" stroke="#000" stroke-width="5" stroke-linecap="butt"/>
<line x1="124.8" y1="1319.55" x2="132.8" y2="1319.55" stroke="#000" stroke-width="4" stroke-linecap="butt"/>
<line x1="124.8" y1="1256.85" x2="132.8" y2="1256.85" stroke="#000" stroke-width="4" stroke-linecap="butt"/>
<line x1="124.8" y1="1194.15" x2="132.8" y2="1194.15" stroke="#000" stroke-width="4" stroke-linecap="butt"/>
<line x1="124.8" y1="1131.45" x2="132.8" y2="1131.45" stroke="#000" stroke-width="4" stroke-linecap="butt"/>
<line x1="124.8" y1="1068.75" x2="132.8" y2="1068.75" stroke="#000" stroke-width="4" stroke-linecap="butt"/>
<line x1="124.8" y1="1006.05" x2="132.8" y2="1006.05" stroke="#000" stroke-width="4" stroke-linecap="butt"/>
<line x1="124.8" y1="943.35" x2="132.8" y2="943.35" stroke="#000" stroke-width="4" stroke-linecap="butt"/>
<line x1="124.8" y1="880.65" x2="132.8" y2="880.65" stroke="#000" stroke-width="4" stroke-linecap="butt"/>
<line x1="124.8" y1="817.95" x2="132.8" y2="817.95" stroke="#000" stroke-width="4" stroke-linecap="butt"/>
<line x1="124.8" y1="755.25" x2="132.8" y2="755.25" stroke="#000" stroke-width="4" stroke-linecap="butt"/>
<line x1="133" y1="1321" x2="133" y2="1335" stroke="#000" stroke-width="5" stroke-linecap="butt"/>
<line x1="208.4" y1="1321" x2="208.4" y2="1335" stroke="#000" stroke-width="5" stroke-linecap="butt"/>
<line x1="283.8" y1="1321" x2="283.8" y2="1335" stroke="#000" stroke-width="5" stroke-linecap="butt"/>
<line x1="359.2" y1="1321" x2="359.2" y2="1335" stroke="#000" stroke-width="5" stroke-linecap="butt"/>
<line x1="434.6" y1="1321" x2="434.6" y2="1335" stroke="#000" stroke-width="5" stroke-linecap="butt"/>
<line x1="510" y1="1321" x2="510" y2="1335" stroke="#000" stroke-width="5" stroke-linecap="butt"/>
<line x1="585.4" y1="1321" x2="585.4" y2="1335" stroke="#000" stroke-width="5" stroke-linecap="butt"/>
<line x1="660.8" y1="1321" x2="660.8" y2="1335" stroke="#000" stroke-width="5" stroke-linecap="butt"/>
<line x1="736.2" y1="1321" x2="736.2" y2="1335" stroke="#000" stroke-width="5" stroke-linecap="butt"/>
<line x1="811.6" y1="1321" x2="811.6" y2="1335" stroke="#000" stroke-width="5" stroke-linecap="butt"/>
<line x1="170.7" y1="1321" x2="170.7" y2="1329" stroke="#000" stroke-width="4" stroke-linecap="butt"/>
<line x1="246.1" y1="1321" x2="246.1" y2="1329" stroke="#000" stroke-width="4" stroke-linecap="butt"/>
<line x1="321.5" y1="1321" x2="321.5" y2="1329" stroke="#000" stroke-width="4" stroke-linecap="butt"/>
<line x1="396.9" y1="1321" x2="396.9" y2="1329" stroke="#000" stroke-width="4" stroke-linecap="butt"/>
<line x1="472.3" y1="1321" x2="472.3" y2="1329" stroke="#000" stroke-width="4" stroke-linecap="butt"/>
<line x1="547.7" y1="1321" x2="547.7" y2="1329" stroke="#000" stroke-width="4" stroke-linecap="butt"/>
<line x1="623.1" y1="1321" x2="623.1" y2="1329" stroke="#000" stroke-width="4" stroke-linecap="butt"/>
<line x1="698.5" y1="1321" x2="698.5" y2="1329" stroke="#000" stroke-width="4" stroke-linecap="butt"/>
<line x1="773.9" y1="1321" x2="773.9" y2="1329" stroke="#000" stroke-width="4" stroke-linecap="butt"/>
<text x="113" y="1295" font-size="25.3" text-anchor="end" fill="#000" stroke="#000" stroke-width="0.8">2</text>
<text x="113" y="1232.3" font-size="25.3" text-anchor="end" fill="#000" stroke="#000" stroke-width="0.8">4</text>
<text x="113" y="1169.6" font-size="25.3" text-anchor="end" fill="#000" stroke="#000" stroke-width="0.8">6</text>
<text x="113" y="1106.9" font-size="25.3" text-anchor="end" fill="#000" stroke="#000" stroke-width="0.8">8</text>
<text x="113" y="1044.2" font-size="25.3" text-anchor="end" fill="#000" stroke="#000" stroke-width="0.8">10</text>
<text x="113" y="981.5" font-size="25.3" text-anchor="end" fill="#000" stroke="#000" stroke-width="0.8">12</text>
<text x="113" y="918.8" font-size="25.3" text-anchor="end" fill="#000" stroke="#000" stroke-width="0.8">14</text>
<text x="113" y="856.1" font-size="25.3" text-anchor="end" fill="#000" stroke="#000" stroke-width="0.8">16</text>
<text x="113" y="793.4" font-size="25.3" text-anchor="end" fill="#000" stroke="#000" stroke-width="0.8">18</text>
<text x="113" y="730.7" font-size="25.3" text-anchor="end" fill="#000" stroke="#000" stroke-width="0.8">20</text>
<text x="133" y="1359.9" font-size="25" text-anchor="middle" fill="#000" stroke="#000" stroke-width="0.8">0</text>
<text x="208.4" y="1359.9" font-size="25" text-anchor="middle" fill="#000" stroke="#000" stroke-width="0.8">200</text>
<text x="283.8" y="1359.9" font-size="25" text-anchor="middle" fill="#000" stroke="#000" stroke-width="0.8">400</text>
<text x="359.2" y="1359.9" font-size="25" text-anchor="middle" fill="#000" stroke="#000" stroke-width="0.8">600</text>
<text x="434.6" y="1359.9" font-size="25" text-anchor="middle" fill="#000" stroke="#000" stroke-width="0.8">800</text>
<text x="510" y="1359.9" font-size="25" text-anchor="middle" fill="#000" stroke="#000" stroke-width="0.8">1000</text>
<text x="585.4" y="1359.9" font-size="25" text-anchor="middle" fill="#000" stroke="#000" stroke-width="0.8">1200</text>
<text x="660.8" y="1359.9" font-size="25" text-anchor="middle" fill="#000" stroke="#000" stroke-width="0.8">1400</text>
<text x="736.2" y="1359.9" font-size="25" text-anchor="middle" fill="#000" stroke="#000" stroke-width="0.8">1600</text>
<text x="811.6" y="1359.9" font-size="25" text-anchor="middle" fill="#000" stroke="#000" stroke-width="0.8">1800</text>
<rect x="132.8" y="723.6" width="150" height="163.7" fill="#fff" stroke="#000" stroke-width="1.6"/>
<line x1="150" y1="749" x2="215.5" y2="749" stroke="#000" stroke-width="1.6" stroke-linecap="butt"/>
<line x1="150" y1="789.6" x2="215.5" y2="789.6" stroke="#b4243c" stroke-width="1.6" stroke-linecap="butt"/>
<line x1="150" y1="829.6" x2="215.5" y2="829.6" stroke="#1c1c8c" stroke-width="1.6" stroke-linecap="butt"/>
<line x1="150" y1="870" x2="215.5" y2="870" stroke="#cc40cc" stroke-width="1.6" stroke-linecap="butt"/>
<rect x="176.35" y="742.65" width="12.7" height="12.7" fill="#000"/>
<circle cx="182.7" cy="789.6" r="7.25" fill="#f80000"/>
<path d="M174.5 834.63L182.7 820.37L190.9 834.63Z" fill="#0000f8"/>
<path d="M174.5 864.87L182.7 879.13L190.9 864.87Z" fill="#ff00ff"/>
<text x="224.5" y="761" font-size="29" font-weight="bold" fill="#000">NiO</text>
<text x="224.5" y="799" font-size="29" font-weight="bold" fill="#000">S-1</text>
<text x="224.5" y="839" font-size="29" font-weight="bold" fill="#000">S-2</text>
<text x="224.5" y="879" font-size="29" font-weight="bold" fill="#000">S-3</text>
<text x="25.5" y="773" font-size="50" font-weight="bold" textLength="61" lengthAdjust="spacingAndGlyphs" fill="#000">(c)</text>
<text x="27" y="1123.5" font-size="32.5" font-weight="bold" textLength="125.5" lengthAdjust="spacingAndGlyphs" transform="rotate(-90 27 1123.5)" fill="#000">Response</text>
<text x="66.5" y="1115" font-size="31" font-weight="bold" textLength="108" lengthAdjust="spacingAndGlyphs" transform="rotate(-90 66.5 1115)" fill="#000">(Rg/Ra)</text>
<text x="421.8" y="1411.7" font-size="33" font-weight="bold" textLength="102.8" lengthAdjust="spacingAndGlyphs" fill="#000">Time (s)</text>
<text x="162.5" y="1200.5" font-size="24" font-weight="bold" textLength="71.4" lengthAdjust="spacingAndGlyphs" fill="#000">5 ppm</text>
<text x="260" y="1116.5" font-size="24" font-weight="bold" textLength="83" lengthAdjust="spacingAndGlyphs" fill="#000">10 ppm</text>
<text x="362" y="981.7" font-size="24" font-weight="bold" textLength="84.7" lengthAdjust="spacingAndGlyphs" fill="#000">20 ppm</text>
<text x="485.4" y="841.9" font-size="24" font-weight="bold" textLength="83" lengthAdjust="spacingAndGlyphs" fill="#000">50 ppm</text>
<text x="634.8" y="760.4" font-size="24" font-weight="bold" textLength="97.6" lengthAdjust="spacingAndGlyphs" fill="#000">100 ppm</text>
<line x1="1045.5" y1="1307" x2="1130.1" y2="1300" stroke="#000" stroke-width="2.2" stroke-linecap="butt"/>
<line x1="1130.1" y1="1299.5" x2="1582" y2="1281" stroke="#000" stroke-width="2.2" stroke-linecap="butt"/>
<line x1="1047.6" y1="1249.5" x2="1127" y2="1190" stroke="#e80000" stroke-width="2.2" stroke-linecap="butt"/>
<line x1="1131" y1="1183" x2="1582" y2="1128.5" stroke="#e80000" stroke-width="2.2" stroke-linecap="butt"/>
<line x1="1045.5" y1="1214.7" x2="1127" y2="1017" stroke="#0000d0" stroke-width="2.2" stroke-linecap="butt"/>
<line x1="1129.6" y1="980.2" x2="1581.6" y2="765.9" stroke="#0000d0" stroke-width="2.2" stroke-linecap="butt"/>
<line x1="1050.5" y1="1211" x2="1125.3" y2="1051.8" stroke="#f000f0" stroke-width="2.2" stroke-linecap="butt"/>
<line x1="1130.5" y1="1049.3" x2="1574" y2="962.8" stroke="#f000f0" stroke-width="2.2" stroke-linecap="butt"/>
<rect x="1037.3" y="1299.5" width="16.4" height="16.4" fill="#000"/>
<rect x="1065.7" y="1294.3" width="16.4" height="16.4" fill="#000"/>
<rect x="1121.9" y="1292.2" width="16.4" height="16.4" fill="#000"/>
<rect x="1291" y="1284.2" width="16.4" height="16.4" fill="#000"/>
<rect x="1573.8" y="1274.2" width="16.4" height="16.4" fill="#000"/>
<circle cx="1045.5" cy="1257.3" r="9" fill="#f80000"/>
<circle cx="1073.9" cy="1217.8" r="9" fill="#f80000"/>
<circle cx="1130.1" cy="1188.7" r="9" fill="#f80000"/>
<circle cx="1299.2" cy="1153.3" r="9" fill="#f80000"/>
<circle cx="1582" cy="1131.8" r="9" fill="#f80000"/>
<path d="M1034.6 1231.48L1045.5 1212.52L1056.4 1231.48Z" fill="#0000f8"/>
<path d="M1063 1146.98L1073.9 1128.02L1084.8 1146.98Z" fill="#0000f8"/>
<path d="M1119.2 1010.38L1130.1 991.42L1141 1010.38Z" fill="#0000f8"/>
<path d="M1288.3 866.28L1299.2 847.32L1310.1 866.28Z" fill="#0000f8"/>
<path d="M1571.1 786.98L1582 768.02L1592.9 786.98Z" fill="#0000f8"/>
<path d="M1034.6 1222.72L1045.5 1241.68L1056.4 1222.72Z" fill="#ff00ff"/>
<path d="M1063 1131.02L1073.9 1149.98L1084.8 1131.02Z" fill="#ff00ff"/>
<path d="M1119.2 1053.02L1130.1 1071.98L1141 1053.02Z" fill="#ff00ff"/>
<path d="M1288.3 994.52L1299.2 1013.48L1310.1 994.52Z" fill="#ff00ff"/>
<path d="M1571.1 961.52L1582 980.48L1592.9 961.52Z" fill="#ff00ff"/>
<line x1="958.2" y1="724.4" x2="1640.1" y2="724.4" stroke="#000" stroke-width="5" stroke-linecap="butt"/>
<line x1="958.2" y1="1335.3" x2="1640.1" y2="1335.3" stroke="#000" stroke-width="5" stroke-linecap="butt"/>
<line x1="960.7" y1="724.4" x2="960.7" y2="1335.3" stroke="#000" stroke-width="5" stroke-linecap="butt"/>
<line x1="1637.6" y1="724.4" x2="1637.6" y2="1335.3" stroke="#000" stroke-width="5" stroke-linecap="butt"/>
<line x1="947.7" y1="1302.64" x2="960.7" y2="1302.64" stroke="#000" stroke-width="5" stroke-linecap="butt"/>
<line x1="947.7" y1="1238.48" x2="960.7" y2="1238.48" stroke="#000" stroke-width="5" stroke-linecap="butt"/>
<line x1="947.7" y1="1174.32" x2="960.7" y2="1174.32" stroke="#000" stroke-width="5" stroke-linecap="butt"/>
<line x1="947.7" y1="1110.16" x2="960.7" y2="1110.16" stroke="#000" stroke-width="5" stroke-linecap="butt"/>
<line x1="947.7" y1="1046" x2="960.7" y2="1046" stroke="#000" stroke-width="5" stroke-linecap="butt"/>
<line x1="947.7" y1="981.84" x2="960.7" y2="981.84" stroke="#000" stroke-width="5" stroke-linecap="butt"/>
<line x1="947.7" y1="917.68" x2="960.7" y2="917.68" stroke="#000" stroke-width="5" stroke-linecap="butt"/>
<line x1="947.7" y1="853.52" x2="960.7" y2="853.52" stroke="#000" stroke-width="5" stroke-linecap="butt"/>
<line x1="947.7" y1="789.36" x2="960.7" y2="789.36" stroke="#000" stroke-width="5" stroke-linecap="butt"/>
<line x1="947.7" y1="725.2" x2="960.7" y2="725.2" stroke="#000" stroke-width="5" stroke-linecap="butt"/>
<line x1="952.7" y1="1334.72" x2="960.7" y2="1334.72" stroke="#000" stroke-width="4" stroke-linecap="butt"/>
<line x1="952.7" y1="1270.56" x2="960.7" y2="1270.56" stroke="#000" stroke-width="4" stroke-linecap="butt"/>
<line x1="952.7" y1="1206.4" x2="960.7" y2="1206.4" stroke="#000" stroke-width="4" stroke-linecap="butt"/>
<line x1="952.7" y1="1142.24" x2="960.7" y2="1142.24" stroke="#000" stroke-width="4" stroke-linecap="butt"/>
<line x1="952.7" y1="1078.08" x2="960.7" y2="1078.08" stroke="#000" stroke-width="4" stroke-linecap="butt"/>
<line x1="952.7" y1="1013.92" x2="960.7" y2="1013.92" stroke="#000" stroke-width="4" stroke-linecap="butt"/>
<line x1="952.7" y1="949.76" x2="960.7" y2="949.76" stroke="#000" stroke-width="4" stroke-linecap="butt"/>
<line x1="952.7" y1="885.6" x2="960.7" y2="885.6" stroke="#000" stroke-width="4" stroke-linecap="butt"/>
<line x1="952.7" y1="821.44" x2="960.7" y2="821.44" stroke="#000" stroke-width="4" stroke-linecap="butt"/>
<line x1="952.7" y1="757.28" x2="960.7" y2="757.28" stroke="#000" stroke-width="4" stroke-linecap="butt"/>
<line x1="1016.7" y1="1335.3" x2="1016.7" y2="1349.3" stroke="#000" stroke-width="5" stroke-linecap="butt"/>
<line x1="1129.5" y1="1335.3" x2="1129.5" y2="1349.3" stroke="#000" stroke-width="5" stroke-linecap="butt"/>
<line x1="1242.3" y1="1335.3" x2="1242.3" y2="1349.3" stroke="#000" stroke-width="5" stroke-linecap="butt"/>
<line x1="1355.1" y1="1335.3" x2="1355.1" y2="1349.3" stroke="#000" stroke-width="5" stroke-linecap="butt"/>
<line x1="1467.9" y1="1335.3" x2="1467.9" y2="1349.3" stroke="#000" stroke-width="5" stroke-linecap="butt"/>
<line x1="1580.7" y1="1335.3" x2="1580.7" y2="1349.3" stroke="#000" stroke-width="5" stroke-linecap="butt"/>
<line x1="960.3" y1="1335.3" x2="960.3" y2="1343.3" stroke="#000" stroke-width="4" stroke-linecap="butt"/>
<line x1="1073.1" y1="1335.3" x2="1073.1" y2="1343.3" stroke="#000" stroke-width="4" stroke-linecap="butt"/>
<line x1="1185.9" y1="1335.3" x2="1185.9" y2="1343.3" stroke="#000" stroke-width="4" stroke-linecap="butt"/>
<line x1="1298.7" y1="1335.3" x2="1298.7" y2="1343.3" stroke="#000" stroke-width="4" stroke-linecap="butt"/>
<line x1="1411.5" y1="1335.3" x2="1411.5" y2="1343.3" stroke="#000" stroke-width="4" stroke-linecap="butt"/>
<line x1="1524.3" y1="1335.3" x2="1524.3" y2="1343.3" stroke="#000" stroke-width="4" stroke-linecap="butt"/>
<line x1="1637.1" y1="1335.3" x2="1637.1" y2="1343.3" stroke="#000" stroke-width="4" stroke-linecap="butt"/>
<text x="940" y="1309.44" font-size="25.5" text-anchor="end" textLength="11.92" lengthAdjust="spacingAndGlyphs" fill="#000" stroke="#000" stroke-width="0.8">2</text>
<text x="940" y="1245.28" font-size="25.5" text-anchor="end" textLength="11.92" lengthAdjust="spacingAndGlyphs" fill="#000" stroke="#000" stroke-width="0.8">4</text>
<text x="940" y="1181.12" font-size="25.5" text-anchor="end" textLength="11.92" lengthAdjust="spacingAndGlyphs" fill="#000" stroke="#000" stroke-width="0.8">6</text>
<text x="940" y="1116.96" font-size="25.5" text-anchor="end" textLength="11.92" lengthAdjust="spacingAndGlyphs" fill="#000" stroke="#000" stroke-width="0.8">8</text>
<text x="940" y="1052.8" font-size="25.5" text-anchor="end" textLength="23.84" lengthAdjust="spacingAndGlyphs" fill="#000" stroke="#000" stroke-width="0.8">10</text>
<text x="940" y="988.64" font-size="25.5" text-anchor="end" textLength="23.84" lengthAdjust="spacingAndGlyphs" fill="#000" stroke="#000" stroke-width="0.8">12</text>
<text x="940" y="924.48" font-size="25.5" text-anchor="end" textLength="23.84" lengthAdjust="spacingAndGlyphs" fill="#000" stroke="#000" stroke-width="0.8">14</text>
<text x="940" y="860.32" font-size="25.5" text-anchor="end" textLength="23.84" lengthAdjust="spacingAndGlyphs" fill="#000" stroke="#000" stroke-width="0.8">16</text>
<text x="940" y="796.16" font-size="25.5" text-anchor="end" textLength="23.84" lengthAdjust="spacingAndGlyphs" fill="#000" stroke="#000" stroke-width="0.8">18</text>
<text x="940" y="732" font-size="25.5" text-anchor="end" textLength="23.84" lengthAdjust="spacingAndGlyphs" fill="#000" stroke="#000" stroke-width="0.8">20</text>
<text x="1016.7" y="1375.2" font-size="26.2" text-anchor="middle" textLength="12.05" lengthAdjust="spacingAndGlyphs" fill="#000" stroke="#000" stroke-width="0.8">0</text>
<text x="1129.5" y="1375.2" font-size="26.2" text-anchor="middle" textLength="24.1" lengthAdjust="spacingAndGlyphs" fill="#000" stroke="#000" stroke-width="0.8">20</text>
<text x="1242.3" y="1375.2" font-size="26.2" text-anchor="middle" textLength="24.1" lengthAdjust="spacingAndGlyphs" fill="#000" stroke="#000" stroke-width="0.8">40</text>
<text x="1355.1" y="1375.2" font-size="26.2" text-anchor="middle" textLength="24.1" lengthAdjust="spacingAndGlyphs" fill="#000" stroke="#000" stroke-width="0.8">60</text>
<text x="1467.9" y="1375.2" font-size="26.2" text-anchor="middle" textLength="24.1" lengthAdjust="spacingAndGlyphs" fill="#000" stroke="#000" stroke-width="0.8">80</text>
<text x="1580.7" y="1375.2" font-size="26.2" text-anchor="middle" textLength="36.16" lengthAdjust="spacingAndGlyphs" fill="#000" stroke="#000" stroke-width="0.8">100</text>
<rect x="960.7" y="724.4" width="148.6" height="172.3" fill="#fff" stroke="#000" stroke-width="1.6"/>
<rect x="1001.7" y="745.4" width="18" height="18" fill="#000"/>
<circle cx="1010.7" cy="796.3" r="9" fill="#f80000"/>
<path d="M999.7 844.57L1010.7 825.43L1021.7 844.57Z" fill="#0000f8"/>
<path d="M999.7 873.33L1010.7 892.47L1021.7 873.33Z" fill="#ff00ff"/>
<text x="1051.3" y="764.7" font-size="29" font-weight="bold" fill="#000">NiO</text>
<text x="1051.3" y="804.7" font-size="29" font-weight="bold" fill="#000">S-1</text>
<text x="1051.3" y="846" font-size="29" font-weight="bold" fill="#000">S-2</text>
<text x="1051.3" y="888" font-size="29" font-weight="bold" fill="#000">S-3</text>
<text x="842.5" y="773" font-size="50" font-weight="bold" textLength="66" lengthAdjust="spacingAndGlyphs" fill="#000">(d)</text>
<text x="894.5" y="1175" font-size="33" font-weight="bold" transform="rotate(-90 894.5 1175)" textLength="243" lengthAdjust="spacingAndGlyphs">Response <tspan font-weight="normal">(</tspan>R<tspan font-size="16" dy="9.5">g</tspan><tspan dy="-9.5" font-weight="normal">/</tspan>R<tspan font-size="16" dy="9.5">a</tspan><tspan dy="-9.5" font-weight="normal">)</tspan></text>
<text x="1167.3" y="1428.2" font-size="33" font-weight="bold" textLength="264.5" lengthAdjust="spacingAndGlyphs" fill="#000">Concentration (ppm)</text>
<polyline fill="none" stroke="#000" stroke-width="2.9" points="592.39,2051.31 595.84,2051.28 599.28,2051.25 602.73,2051.22 606.18,2051.18 609.62,2051.15 613.07,2051.11 616.52,2051.07 619.97,2051.03 623.41,2050.99 626.86,2050.94 630.31,2050.89 633.76,2050.83 637.2,2050.78 640.65,2050.72 644.1,2050.65 647.55,2050.58 651,2050.51 654.44,2050.44 657.89,2050.35 661.34,2050.27 664.78,2050.18 668.23,2050.08 671.68,2049.98 675.13,2049.87 678.58,2049.76 682.02,2049.64 685.47,2049.52 688.92,2049.39 692.37,2049.25 695.81,2049.11 699.26,2048.96 702.71,2048.8 706.15,2048.63 709.6,2048.46 713.05,2048.28 716.5,2048.09 719.94,2047.89 723.39,2047.69 726.84,2047.47 730.29,2047.25 733.74,2047.02 737.18,2046.78 740.63,2046.53 744.08,2046.27 747.52,2046.01 750.97,2045.73 754.42,2045.44 757.87,2045.14 761.32,2044.83 764.76,2044.51"/>
<polyline fill="none" stroke="#000" stroke-width="2.9" points="799.24,2040.7 802.68,2040.26 806.13,2039.81 809.58,2039.36 813.03,2038.89 816.48,2038.42 819.92,2037.94 823.37,2037.46 826.82,2036.97 830.26,2036.48 833.71,2035.98 837.16,2035.48 840.61,2034.97 844.05,2034.47 847.5,2033.96 850.95,2033.44 854.4,2032.93 857.85,2032.42 861.29,2031.9 864.74,2031.39 868.19,2030.87 871.63,2030.36 875.08,2029.85 878.53,2029.35 881.98,2028.84 885.42,2028.34 888.87,2027.84 892.32,2027.35 895.77,2026.86 899.21,2026.38 902.66,2025.91 906.11,2025.44 909.56,2024.98 913,2024.52 916.45,2024.08 919.9,2023.64 923.35,2023.21 926.79,2022.79 930.24,2022.39 933.69,2021.99 937.14,2021.61 940.58,2021.23 944.03,2020.87 947.48,2020.53 950.93,2020.19 954.38,2019.87 957.82,2019.57 961.27,2019.28 964.72,2019 968.16,2018.75 971.61,2018.51"/>
<polyline fill="none" stroke="#000" stroke-width="2.9" points="1006.09,2017.11 1009.53,2017.08 1012.98,2017.06 1016.43,2017.06 1019.88,2017.08 1023.32,2017.12 1026.77,2017.17 1030.22,2017.24 1033.67,2017.32 1037.12,2017.42 1040.56,2017.53 1044.01,2017.66 1047.46,2017.81 1050.9,2017.96 1054.35,2018.14 1057.8,2018.32 1061.25,2018.52 1064.69,2018.73 1068.14,2018.96 1071.59,2019.2 1075.04,2019.44 1078.48,2019.71 1081.93,2019.98 1085.38,2020.26 1088.83,2020.55 1092.27,2020.86 1095.72,2021.17 1099.17,2021.49 1102.62,2021.83 1106.07,2022.17 1109.51,2022.52 1112.96,2022.88 1116.41,2023.24 1119.86,2023.62 1123.3,2024 1126.75,2024.39 1130.2,2024.78 1133.64,2025.18 1137.09,2025.59 1140.54,2026 1143.99,2026.42 1147.43,2026.85 1150.88,2027.27 1154.33,2027.71 1157.78,2028.14 1161.22,2028.58 1164.67,2029.03 1168.12,2029.47 1171.57,2029.92 1175.02,2030.37 1178.46,2030.83"/>
<polyline fill="none" stroke="#e00008" stroke-width="2.9" points="588.94,1725.24 592.39,1723.87 595.84,1722.5 599.28,1721.13 602.73,1719.75 606.18,1718.37 609.62,1716.99 613.07,1715.6 616.52,1714.21 619.97,1712.82 623.41,1711.42 626.86,1710.01 630.31,1708.6 633.76,1707.18 637.2,1705.75 640.65,1704.32 644.1,1702.88 647.55,1701.44 651,1699.98 654.44,1698.52 657.89,1697.04 661.34,1695.56 664.78,1694.07 668.23,1692.56 671.68,1691.05 675.13,1689.53 678.58,1687.99 682.02,1686.44 685.47,1684.88 688.92,1683.31 692.37,1681.73 695.81,1680.13 699.26,1678.51 702.71,1676.89 706.15,1675.25 709.6,1673.59 713.05,1671.92 716.5,1670.23 719.94,1668.53 723.39,1666.81 726.84,1665.07 730.29,1663.32 733.74,1661.55 737.18,1659.76 740.63,1657.95 744.08,1656.12 747.52,1654.27 750.97,1652.41 754.42,1650.52 757.87,1648.62 761.32,1646.69 764.76,1644.74 768.21,1642.77"/>
<polyline fill="none" stroke="#e00008" stroke-width="2.9" points="795.79,1626.21 799.24,1624.04 802.68,1621.87 806.13,1619.68 809.58,1617.48 813.03,1615.27 816.48,1613.05 819.92,1610.83 823.37,1608.6 826.82,1606.37 830.26,1604.14 833.71,1601.91 837.16,1599.68 840.61,1597.46 844.05,1595.24 847.5,1593.03 850.95,1590.83 854.4,1588.65 857.85,1586.47 861.29,1584.31 864.74,1582.17 868.19,1580.04 871.63,1577.94 875.08,1575.85 878.53,1573.79 881.98,1571.76 885.42,1569.75 888.87,1567.78 892.32,1565.83 895.77,1563.91 899.21,1562.03 902.66,1560.19 906.11,1558.38 909.56,1556.61 913,1554.89 916.45,1553.2 919.9,1551.57 923.35,1549.97 926.79,1548.43 930.24,1546.93 933.69,1545.49 937.14,1544.1 940.58,1542.77 944.03,1541.49 947.48,1540.27 950.93,1539.11 954.38,1538.02 957.82,1536.98 961.27,1536.02 964.72,1535.12 968.16,1534.29 971.61,1533.53"/>
<polyline fill="none" stroke="#e00008" stroke-width="2.9" points="1006.09,1530.16 1009.53,1530.25 1012.98,1530.41 1016.43,1530.64 1019.88,1530.95 1023.32,1531.32 1026.77,1531.76 1030.22,1532.27 1033.67,1532.84 1037.12,1533.48 1040.56,1534.18 1044.01,1534.94 1047.46,1535.76 1050.9,1536.64 1054.35,1537.58 1057.8,1538.57 1061.25,1539.61 1064.69,1540.71 1068.14,1541.86 1071.59,1543.06 1075.04,1544.31 1078.48,1545.61 1081.93,1546.95 1085.38,1548.33 1088.83,1549.77 1092.27,1551.24 1095.72,1552.75 1099.17,1554.3 1102.62,1555.9 1106.07,1557.52 1109.51,1559.19 1112.96,1560.88 1116.41,1562.61 1119.86,1564.37 1123.3,1566.16 1126.75,1567.98 1130.2,1569.83 1133.64,1571.7 1137.09,1573.59 1140.54,1575.51 1143.99,1577.45 1147.43,1579.41 1150.88,1581.39 1154.33,1583.39 1157.78,1585.41 1161.22,1587.44 1164.67,1589.48 1168.12,1591.53 1171.57,1593.6 1175.02,1595.67 1178.46,1597.76 1181.91,1599.85"/>
<line x1="575.15" y1="2039.95" x2="575.15" y2="2062.95" stroke="#000" stroke-width="1.8" stroke-linecap="butt"/>
<line x1="569.15" y1="2039.95" x2="581.15" y2="2039.95" stroke="#000" stroke-width="1.8" stroke-linecap="butt"/>
<line x1="569.15" y1="2062.95" x2="581.15" y2="2062.95" stroke="#000" stroke-width="1.8" stroke-linecap="butt"/>
<rect x="565.4" y="2041.7" width="19.5" height="19.5" fill="#000"/>
<line x1="782" y1="2028.45" x2="782" y2="2057.04" stroke="#000" stroke-width="1.8" stroke-linecap="butt"/>
<line x1="776" y1="2028.45" x2="788" y2="2028.45" stroke="#000" stroke-width="1.8" stroke-linecap="butt"/>
<line x1="776" y1="2057.04" x2="788" y2="2057.04" stroke="#000" stroke-width="1.8" stroke-linecap="butt"/>
<rect x="772.25" y="2033" width="19.5" height="19.5" fill="#000"/>
<line x1="988.85" y1="2004.21" x2="988.85" y2="2030.93" stroke="#000" stroke-width="1.8" stroke-linecap="butt"/>
<line x1="982.85" y1="2004.21" x2="994.85" y2="2004.21" stroke="#000" stroke-width="1.8" stroke-linecap="butt"/>
<line x1="982.85" y1="2030.93" x2="994.85" y2="2030.93" stroke="#000" stroke-width="1.8" stroke-linecap="butt"/>
<rect x="979.1" y="2007.82" width="19.5" height="19.5" fill="#000"/>
<line x1="1195.7" y1="2016.02" x2="1195.7" y2="2050.2" stroke="#000" stroke-width="1.8" stroke-linecap="butt"/>
<line x1="1189.7" y1="2016.02" x2="1201.7" y2="2016.02" stroke="#000" stroke-width="1.8" stroke-linecap="butt"/>
<line x1="1189.7" y1="2050.2" x2="1201.7" y2="2050.2" stroke="#000" stroke-width="1.8" stroke-linecap="butt"/>
<rect x="1185.95" y="2023.36" width="19.5" height="19.5" fill="#000"/>
<line x1="575.15" y1="1715.16" x2="575.15" y2="1746.24" stroke="#c00000" stroke-width="1.8" stroke-linecap="butt"/>
<line x1="569.15" y1="1715.16" x2="581.15" y2="1715.16" stroke="#c00000" stroke-width="1.8" stroke-linecap="butt"/>
<line x1="569.15" y1="1746.24" x2="581.15" y2="1746.24" stroke="#c00000" stroke-width="1.8" stroke-linecap="butt"/>
<circle cx="575.15" cy="1730.7" r="10" fill="#f80000"/>
<line x1="782" y1="1617.57" x2="782" y2="1651.76" stroke="#c00000" stroke-width="1.8" stroke-linecap="butt"/>
<line x1="776" y1="1617.57" x2="788" y2="1617.57" stroke="#c00000" stroke-width="1.8" stroke-linecap="butt"/>
<line x1="776" y1="1651.76" x2="788" y2="1651.76" stroke="#c00000" stroke-width="1.8" stroke-linecap="butt"/>
<circle cx="782" cy="1634.66" r="10" fill="#f80000"/>
<line x1="988.85" y1="1516.25" x2="988.85" y2="1545.47" stroke="#c00000" stroke-width="1.8" stroke-linecap="butt"/>
<line x1="982.85" y1="1516.25" x2="994.85" y2="1516.25" stroke="#c00000" stroke-width="1.8" stroke-linecap="butt"/>
<line x1="982.85" y1="1545.47" x2="994.85" y2="1545.47" stroke="#c00000" stroke-width="1.8" stroke-linecap="butt"/>
<circle cx="988.85" cy="1530.86" r="10" fill="#f80000"/>
<line x1="1195.7" y1="1588.98" x2="1195.7" y2="1627.52" stroke="#c00000" stroke-width="1.8" stroke-linecap="butt"/>
<line x1="1189.7" y1="1588.98" x2="1201.7" y2="1588.98" stroke="#c00000" stroke-width="1.8" stroke-linecap="butt"/>
<line x1="1189.7" y1="1627.52" x2="1201.7" y2="1627.52" stroke="#c00000" stroke-width="1.8" stroke-linecap="butt"/>
<circle cx="1195.7" cy="1608.25" r="10" fill="#f80000"/>
<line x1="503.7" y1="1477.3" x2="1268.3" y2="1477.3" stroke="#000" stroke-width="5" stroke-linecap="butt"/>
<line x1="503.7" y1="2098.6" x2="1268.3" y2="2098.6" stroke="#000" stroke-width="5" stroke-linecap="butt"/>
<line x1="506.2" y1="1477.3" x2="506.2" y2="2098.6" stroke="#000" stroke-width="5" stroke-linecap="butt"/>
<line x1="1265.8" y1="1477.3" x2="1265.8" y2="2098.6" stroke="#000" stroke-width="5" stroke-linecap="butt"/>
<line x1="493.2" y1="2099" x2="506.2" y2="2099" stroke="#000" stroke-width="5" stroke-linecap="butt"/>
<line x1="493.2" y1="2036.84" x2="506.2" y2="2036.84" stroke="#000" stroke-width="5" stroke-linecap="butt"/>
<line x1="493.2" y1="1974.68" x2="506.2" y2="1974.68" stroke="#000" stroke-width="5" stroke-linecap="butt"/>
<line x1="493.2" y1="1912.52" x2="506.2" y2="1912.52" stroke="#000" stroke-width="5" stroke-linecap="butt"/>
<line x1="493.2" y1="1850.36" x2="506.2" y2="1850.36" stroke="#000" stroke-width="5" stroke-linecap="butt"/>
<line x1="493.2" y1="1788.2" x2="506.2" y2="1788.2" stroke="#000" stroke-width="5" stroke-linecap="butt"/>
<line x1="493.2" y1="1726.04" x2="506.2" y2="1726.04" stroke="#000" stroke-width="5" stroke-linecap="butt"/>
<line x1="493.2" y1="1663.88" x2="506.2" y2="1663.88" stroke="#000" stroke-width="5" stroke-linecap="butt"/>
<line x1="493.2" y1="1601.72" x2="506.2" y2="1601.72" stroke="#000" stroke-width="5" stroke-linecap="butt"/>
<line x1="493.2" y1="1539.56" x2="506.2" y2="1539.56" stroke="#000" stroke-width="5" stroke-linecap="butt"/>
<line x1="493.2" y1="1477.4" x2="506.2" y2="1477.4" stroke="#000" stroke-width="5" stroke-linecap="butt"/>
<line x1="498.2" y1="2067.92" x2="506.2" y2="2067.92" stroke="#000" stroke-width="4" stroke-linecap="butt"/>
<line x1="498.2" y1="2005.76" x2="506.2" y2="2005.76" stroke="#000" stroke-width="4" stroke-linecap="butt"/>
<line x1="498.2" y1="1943.6" x2="506.2" y2="1943.6" stroke="#000" stroke-width="4" stroke-linecap="butt"/>
<line x1="498.2" y1="1881.44" x2="506.2" y2="1881.44" stroke="#000" stroke-width="4" stroke-linecap="butt"/>
<line x1="498.2" y1="1819.28" x2="506.2" y2="1819.28" stroke="#000" stroke-width="4" stroke-linecap="butt"/>
<line x1="498.2" y1="1757.12" x2="506.2" y2="1757.12" stroke="#000" stroke-width="4" stroke-linecap="butt"/>
<line x1="498.2" y1="1694.96" x2="506.2" y2="1694.96" stroke="#000" stroke-width="4" stroke-linecap="butt"/>
<line x1="498.2" y1="1632.8" x2="506.2" y2="1632.8" stroke="#000" stroke-width="4" stroke-linecap="butt"/>
<line x1="498.2" y1="1570.64" x2="506.2" y2="1570.64" stroke="#000" stroke-width="4" stroke-linecap="butt"/>
<line x1="498.2" y1="1508.48" x2="506.2" y2="1508.48" stroke="#000" stroke-width="4" stroke-linecap="butt"/>
<line x1="506.2" y1="2098.6" x2="506.2" y2="2112.6" stroke="#000" stroke-width="5" stroke-linecap="butt"/>
<line x1="644.1" y1="2098.6" x2="644.1" y2="2112.6" stroke="#000" stroke-width="5" stroke-linecap="butt"/>
<line x1="782" y1="2098.6" x2="782" y2="2112.6" stroke="#000" stroke-width="5" stroke-linecap="butt"/>
<line x1="919.9" y1="2098.6" x2="919.9" y2="2112.6" stroke="#000" stroke-width="5" stroke-linecap="butt"/>
<line x1="1057.8" y1="2098.6" x2="1057.8" y2="2112.6" stroke="#000" stroke-width="5" stroke-linecap="butt"/>
<line x1="1195.7" y1="2098.6" x2="1195.7" y2="2112.6" stroke="#000" stroke-width="5" stroke-linecap="butt"/>
<line x1="575.15" y1="2098.6" x2="575.15" y2="2106.6" stroke="#000" stroke-width="4" stroke-linecap="butt"/>
<line x1="713.05" y1="2098.6" x2="713.05" y2="2106.6" stroke="#000" stroke-width="4" stroke-linecap="butt"/>
<line x1="850.95" y1="2098.6" x2="850.95" y2="2106.6" stroke="#000" stroke-width="4" stroke-linecap="butt"/>
<line x1="988.85" y1="2098.6" x2="988.85" y2="2106.6" stroke="#000" stroke-width="4" stroke-linecap="butt"/>
<line x1="1126.75" y1="2098.6" x2="1126.75" y2="2106.6" stroke="#000" stroke-width="4" stroke-linecap="butt"/>
<line x1="1264.65" y1="2098.6" x2="1264.65" y2="2106.6" stroke="#000" stroke-width="4" stroke-linecap="butt"/>
<text x="481.5" y="2104.9" font-size="24.8" text-anchor="end" fill="#000" stroke="#000" stroke-width="0.8">0</text>
<text x="481.5" y="2042.74" font-size="24.8" text-anchor="end" fill="#000" stroke="#000" stroke-width="0.8">2</text>
<text x="481.5" y="1980.58" font-size="24.8" text-anchor="end" fill="#000" stroke="#000" stroke-width="0.8">4</text>
<text x="481.5" y="1918.42" font-size="24.8" text-anchor="end" fill="#000" stroke="#000" stroke-width="0.8">6</text>
<text x="481.5" y="1856.26" font-size="24.8" text-anchor="end" fill="#000" stroke="#000" stroke-width="0.8">8</text>
<text x="481.5" y="1794.1" font-size="24.8" text-anchor="end" fill="#000" stroke="#000" stroke-width="0.8">10</text>
<text x="481.5" y="1731.94" font-size="24.8" text-anchor="end" fill="#000" stroke="#000" stroke-width="0.8">12</text>
<text x="481.5" y="1669.78" font-size="24.8" text-anchor="end" fill="#000" stroke="#000" stroke-width="0.8">14</text>
<text x="481.5" y="1607.62" font-size="24.8" text-anchor="end" fill="#000" stroke="#000" stroke-width="0.8">16</text>
<text x="481.5" y="1545.46" font-size="24.8" text-anchor="end" fill="#000" stroke="#000" stroke-width="0.8">18</text>
<text x="481.5" y="1483.3" font-size="24.8" text-anchor="end" fill="#000" stroke="#000" stroke-width="0.8">20</text>
<text x="506.2" y="2139.4" font-size="25" text-anchor="middle" fill="#000" stroke="#000" stroke-width="0.8">10</text>
<text x="644.1" y="2139.4" font-size="25" text-anchor="middle" fill="#000" stroke="#000" stroke-width="0.8">20</text>
<text x="782" y="2139.4" font-size="25" text-anchor="middle" fill="#000" stroke="#000" stroke-width="0.8">30</text>
<text x="919.9" y="2139.4" font-size="25" text-anchor="middle" fill="#000" stroke="#000" stroke-width="0.8">40</text>
<text x="1057.8" y="2139.4" font-size="25" text-anchor="middle" fill="#000" stroke="#000" stroke-width="0.8">50</text>
<text x="1195.7" y="2139.4" font-size="25" text-anchor="middle" fill="#000" stroke="#000" stroke-width="0.8">60</text>
<rect x="506.2" y="1477.3" width="182.8" height="96.9" fill="#fff" stroke="#000" stroke-width="1.6"/>
<line x1="525" y1="1508" x2="555" y2="1508" stroke="#000" stroke-width="2.4" stroke-linecap="butt"/>
<line x1="579.5" y1="1508" x2="608.6" y2="1508" stroke="#000" stroke-width="2.4" stroke-linecap="butt"/>
<line x1="525" y1="1553.3" x2="555" y2="1553.3" stroke="#c00000" stroke-width="2.4" stroke-linecap="butt"/>
<line x1="579.5" y1="1553.3" x2="608.6" y2="1553.3" stroke="#c00000" stroke-width="2.4" stroke-linecap="butt"/>
<rect x="557.35" y="1498.55" width="18.9" height="18.9" fill="#000"/>
<circle cx="566.8" cy="1553.3" r="9.5" fill="#f80000"/>
<text x="616.5" y="1518.6" font-size="31.4" font-weight="bold" textLength="61.5" lengthAdjust="spacingAndGlyphs" fill="#000">NiO</text>
<text x="616.5" y="1564" font-size="31.4" font-weight="bold" textLength="47.5" lengthAdjust="spacingAndGlyphs" fill="#000">S-2</text>
<text x="370" y="1525.3" font-size="50" font-weight="bold" textLength="60" lengthAdjust="spacingAndGlyphs" fill="#000">(e)</text>
<text x="388" y="1973.5" font-size="31.5" font-weight="bold" textLength="285" lengthAdjust="spacingAndGlyphs" transform="rotate(-90 388 1973.5)" fill="#000" stroke="#000" stroke-width="0.6">Sensitivity response</text>
<text x="436.5" y="1880" font-size="32" font-weight="bold" transform="rotate(-90 436.5 1880)" textLength="97" lengthAdjust="spacingAndGlyphs"><tspan font-weight="normal">(</tspan>R<tspan font-size="14.72" dy="11.52">g</tspan><tspan dy="-11.52" font-weight="normal">/</tspan>R<tspan font-size="14.72" dy="11.52">a</tspan><tspan dy="-11.52" font-weight="normal">)</tspan></text>
<text x="697.8" y="2192.9" font-size="32.8" font-weight="bold" textLength="375.3" lengthAdjust="spacingAndGlyphs" fill="#000">Relative humidity (% RH)</text>
</svg>
</body></html>
